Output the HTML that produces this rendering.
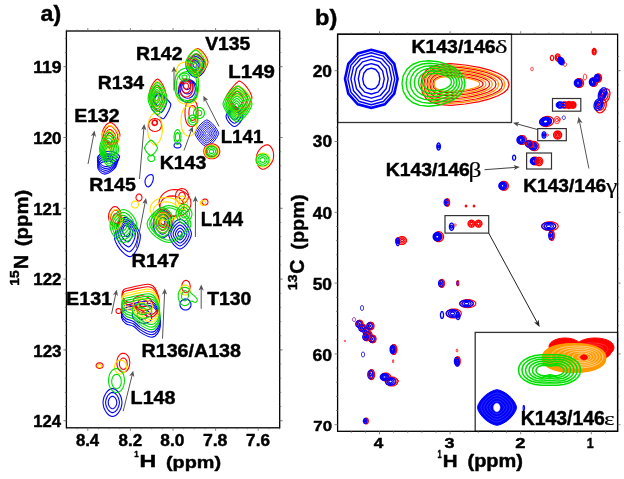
<!DOCTYPE html><html><head><meta charset="utf-8"><style>html,body{margin:0;padding:0;background:#fff;}svg{display:block;filter:blur(0.25px)}</style></head><body><svg width="624" height="479" viewBox="0 0 624 479"><path d="M97.5,158.0 C97.7,156.3 99.6,154.6 101.0,153.5 C102.4,152.4 104.2,151.8 106.0,151.5 C107.8,151.2 110.1,151.1 112.0,151.5 C113.9,151.9 116.2,153.0 117.5,154.0 C118.8,155.0 119.8,156.2 119.5,157.5 C119.2,158.8 117.5,160.2 116.0,161.5 C114.5,162.8 112.3,164.7 110.5,165.5 C108.7,166.3 106.8,166.8 105.0,166.5 C103.2,166.2 101.2,164.9 100.0,163.5 C98.8,162.1 97.3,159.7 97.5,158.0Z" fill="none" stroke="#0000ff" stroke-width="1.1" stroke-linejoin="round"/><path d="M97.5,160.2 C97.7,158.6 99.5,156.9 100.9,155.9 C102.3,154.9 103.9,154.3 105.7,154.0 C107.5,153.7 109.6,153.6 111.5,154.0 C113.3,154.4 115.5,155.4 116.7,156.4 C117.9,157.3 118.9,158.5 118.7,159.7 C118.4,160.9 116.7,162.3 115.3,163.6 C113.9,164.9 111.8,166.6 110.0,167.4 C108.3,168.2 106.4,168.7 104.7,168.4 C103.1,168.1 101.1,166.9 99.9,165.5 C98.7,164.1 97.4,161.8 97.5,160.2Z" fill="none" stroke="#0000ff" stroke-width="1.1" stroke-linejoin="round"/><path d="M97.6,162.4 C97.7,160.9 99.5,159.3 100.8,158.3 C102.1,157.3 103.7,156.8 105.4,156.4 C107.1,156.1 109.2,156.1 110.9,156.4 C112.7,156.8 114.8,157.8 116.0,158.7 C117.1,159.7 118.1,160.8 117.8,162.0 C117.6,163.1 116.0,164.4 114.6,165.6 C113.2,166.9 111.2,168.6 109.5,169.3 C107.9,170.1 106.1,170.6 104.5,170.2 C102.9,169.9 101.0,168.8 99.9,167.5 C98.7,166.2 97.4,164.0 97.6,162.4Z" fill="none" stroke="#0000ff" stroke-width="1.1" stroke-linejoin="round"/><path d="M97.6,164.6 C97.8,163.2 99.5,161.6 100.7,160.7 C101.9,159.7 103.5,159.2 105.1,158.9 C106.7,158.6 108.7,158.5 110.4,158.9 C112.1,159.3 114.1,160.2 115.2,161.1 C116.3,162.0 117.2,163.1 117.0,164.2 C116.8,165.3 115.2,166.5 113.9,167.7 C112.6,168.9 110.7,170.5 109.1,171.2 C107.4,172.0 105.8,172.4 104.2,172.1 C102.7,171.8 100.9,170.7 99.8,169.5 C98.7,168.2 97.5,166.1 97.6,164.6Z" fill="none" stroke="#0000ff" stroke-width="1.1" stroke-linejoin="round"/><path d="M97.7,166.8 C97.8,165.4 99.4,164.0 100.6,163.1 C101.8,162.2 103.3,161.7 104.8,161.4 C106.3,161.1 108.2,161.0 109.8,161.4 C111.5,161.7 113.4,162.6 114.5,163.5 C115.5,164.3 116.3,165.4 116.1,166.4 C115.9,167.5 114.5,168.7 113.2,169.8 C111.9,170.9 110.1,172.4 108.6,173.1 C107.0,173.8 105.4,174.3 104.0,174.0 C102.5,173.7 100.8,172.7 99.8,171.5 C98.7,170.3 97.5,168.2 97.7,166.8Z" fill="none" stroke="#0000ff" stroke-width="1.1" stroke-linejoin="round"/><path d="M112.5,158.0 L112.4,158.8 L112.1,159.5 L111.5,160.2 L110.8,160.7 L110.0,161.2 L109.0,161.4 L108.0,161.5 L107.0,161.4 L106.0,161.2 L105.2,160.7 L104.5,160.2 L103.9,159.5 L103.6,158.8 L103.5,158.0 L103.6,157.2 L103.9,156.5 L104.5,155.8 L105.2,155.3 L106.0,154.8 L107.0,154.6 L108.0,154.5 L109.0,154.6 L110.0,154.8 L110.8,155.3 L111.5,155.8 L112.1,156.5 L112.4,157.2Z M110.2,158.0 L110.2,158.4 L110.0,158.8 L109.8,159.1 L109.4,159.4 L109.0,159.6 L108.5,159.7 L108.0,159.8 L107.5,159.7 L107.0,159.6 L106.6,159.4 L106.2,159.1 L106.0,158.8 L105.8,158.4 L105.8,158.0 L105.8,157.6 L106.0,157.2 L106.2,156.9 L106.6,156.6 L107.0,156.4 L107.5,156.3 L108.0,156.2 L108.5,156.3 L109.0,156.4 L109.4,156.6 L109.8,156.9 L110.0,157.2 L110.2,157.6Z" fill="none" stroke="#0000ff" stroke-width="1.1" stroke-linejoin="round"/><path d="M170.8,104.3 L170.7,105.5 L169.9,107.9 L168.7,110.8 L167.1,113.8 L165.5,116.4 L164.1,118.1 L163.3,118.8 L162.3,118.4 L160.3,117.3 L157.9,115.5 L155.4,113.2 L153.3,110.8 L151.7,108.8 L151.2,107.7 L151.3,106.5 L152.1,104.1 L153.3,101.2 L154.9,98.2 L156.5,95.6 L157.9,93.9 L158.7,93.2 L159.7,93.6 L161.7,94.7 L164.1,96.5 L166.6,98.8 L168.7,101.2 L170.3,103.2Z M166.9,101.7 L166.7,102.6 L166.2,104.4 L165.3,106.6 L164.1,108.9 L162.9,110.8 L161.8,112.1 L161.2,112.6 L160.5,112.3 L159.0,111.5 L157.2,110.1 L155.3,108.4 L153.7,106.6 L152.6,105.1 L152.1,104.3 L152.3,103.4 L152.8,101.6 L153.7,99.4 L154.9,97.1 L156.1,95.2 L157.2,93.9 L157.8,93.4 L158.5,93.7 L160.0,94.5 L161.8,95.9 L163.7,97.6 L165.3,99.4 L166.4,100.9Z M162.9,99.1 L162.8,99.7 L162.5,100.9 L161.9,102.4 L161.1,103.9 L160.2,105.2 L159.5,106.1 L159.1,106.4 L158.6,106.2 L157.7,105.6 L156.4,104.7 L155.2,103.6 L154.1,102.4 L153.4,101.4 L153.1,100.9 L153.2,100.3 L153.5,99.1 L154.1,97.6 L154.9,96.1 L155.8,94.8 L156.5,93.9 L156.9,93.6 L157.4,93.8 L158.3,94.4 L159.6,95.3 L160.8,96.4 L161.9,97.6 L162.6,98.6Z" fill="none" stroke="#0000ff" stroke-width="1.1" stroke-linejoin="round"/><path d="M152.6,181.8 L151.9,183.3 L151.1,184.7 L150.2,185.8 L149.3,186.5 L148.4,186.9 L147.6,186.8 L146.8,186.4 L146.2,185.7 L145.7,184.8 L145.3,183.7 L145.1,182.6 L145.0,181.4 L145.1,180.3 L145.4,179.2 L145.9,178.2 L146.5,177.2 L147.3,176.4 L148.2,175.6 L149.2,175.1 L150.2,174.7 L151.2,174.6 L152.0,174.8 L152.7,175.3 L153.1,176.1 L153.3,177.2 L153.3,178.6 L153.1,180.2Z" fill="none" stroke="#0000ff" stroke-width="1.1" stroke-linejoin="round"/><path d="M206.0,66.0 L205.7,67.8 L204.8,70.0 L203.4,72.4 L201.5,74.5 L199.5,76.1 L197.5,77.1 L196.0,77.5 L194.5,77.1 L192.5,76.1 L190.5,74.5 L188.6,72.4 L187.2,70.0 L186.3,67.8 L186.0,66.0 L186.3,64.2 L187.2,62.0 L188.6,59.6 L190.5,57.5 L192.5,55.9 L194.5,54.9 L196.0,54.5 L197.5,54.9 L199.5,55.9 L201.5,57.5 L203.4,59.6 L204.8,62.0 L205.7,64.2Z M203.8,65.8 L203.5,67.2 L202.8,69.0 L201.6,70.8 L200.2,72.5 L198.6,73.8 L197.0,74.7 L195.8,75.0 L194.5,74.7 L192.9,73.8 L191.3,72.5 L189.9,70.8 L188.7,69.0 L188.0,67.2 L187.8,65.8 L188.0,64.3 L188.7,62.5 L189.9,60.7 L191.3,59.0 L192.9,57.7 L194.5,56.8 L195.8,56.5 L197.0,56.8 L198.6,57.7 L200.2,59.0 L201.6,60.7 L202.8,62.5 L203.5,64.3Z M201.5,65.5 L201.3,66.6 L200.8,67.9 L199.9,69.3 L198.8,70.6 L197.6,71.6 L196.4,72.2 L195.5,72.4 L194.6,72.2 L193.4,71.6 L192.2,70.6 L191.1,69.3 L190.2,67.9 L189.7,66.6 L189.5,65.5 L189.7,64.4 L190.2,63.1 L191.1,61.7 L192.2,60.4 L193.4,59.4 L194.6,58.8 L195.5,58.6 L196.4,58.8 L197.6,59.4 L198.8,60.4 L199.9,61.7 L200.8,63.1 L201.3,64.4Z M199.2,65.2 L199.1,66.0 L198.8,66.9 L198.2,67.8 L197.5,68.6 L196.7,69.3 L195.9,69.7 L195.2,69.8 L194.6,69.7 L193.8,69.3 L193.0,68.6 L192.3,67.8 L191.7,66.9 L191.4,66.0 L191.2,65.2 L191.4,64.5 L191.7,63.6 L192.3,62.7 L193.0,61.9 L193.8,61.2 L194.6,60.8 L195.2,60.6 L195.9,60.8 L196.7,61.2 L197.5,61.9 L198.2,62.7 L198.8,63.6 L199.1,64.5Z M197.0,65.0 L196.9,65.4 L196.8,65.8 L196.5,66.3 L196.1,66.7 L195.7,67.0 L195.3,67.2 L195.0,67.3 L194.7,67.2 L194.3,67.0 L193.9,66.7 L193.5,66.3 L193.2,65.8 L193.1,65.4 L193.0,65.0 L193.1,64.6 L193.2,64.2 L193.5,63.7 L193.9,63.3 L194.3,63.0 L194.7,62.8 L195.0,62.7 L195.3,62.8 L195.7,63.0 L196.1,63.3 L196.5,63.7 L196.8,64.2 L196.9,64.6Z" fill="none" stroke="#0000ff" stroke-width="1.1" stroke-linejoin="round"/><path d="M197.5,91.0 L197.3,93.6 L196.6,96.0 L195.4,98.2 L193.9,100.0 L192.1,101.4 L190.1,102.2 L188.0,102.5 L185.9,102.2 L183.9,101.4 L182.1,100.0 L180.6,98.2 L179.4,96.0 L178.7,93.6 L178.5,91.0 L178.7,88.4 L179.4,86.0 L180.6,83.8 L182.1,82.0 L183.9,80.6 L185.9,79.8 L188.0,79.5 L190.1,79.8 L192.1,80.6 L193.9,82.0 L195.4,83.8 L196.6,86.0 L197.3,88.4Z M195.3,89.0 L195.1,91.0 L194.5,93.0 L193.6,94.7 L192.4,96.2 L191.0,97.3 L189.4,98.0 L187.7,98.2 L186.0,98.0 L184.4,97.3 L182.9,96.2 L181.7,94.7 L180.8,93.0 L180.3,91.0 L180.1,89.0 L180.3,87.0 L180.8,85.0 L181.7,83.3 L182.9,81.8 L184.4,80.7 L186.0,80.0 L187.7,79.8 L189.4,80.0 L191.0,80.7 L192.4,81.8 L193.6,83.3 L194.5,85.0 L195.1,87.0Z M193.0,87.0 L192.9,88.5 L192.5,90.0 L191.8,91.3 L190.9,92.4 L189.8,93.2 L188.6,93.7 L187.3,93.9 L186.1,93.7 L184.9,93.2 L183.8,92.4 L182.9,91.3 L182.2,90.0 L181.8,88.5 L181.6,87.0 L181.8,85.5 L182.2,84.0 L182.9,82.7 L183.8,81.6 L184.9,80.8 L186.1,80.3 L187.3,80.1 L188.6,80.3 L189.8,80.8 L190.9,81.6 L191.8,82.7 L192.5,84.0 L192.9,85.5Z M190.8,85.0 L190.7,86.0 L190.4,87.0 L190.0,87.9 L189.4,88.6 L188.6,89.1 L187.8,89.5 L187.0,89.6 L186.2,89.5 L185.4,89.1 L184.6,88.6 L184.0,87.9 L183.6,87.0 L183.3,86.0 L183.2,85.0 L183.3,84.0 L183.6,83.0 L184.0,82.1 L184.6,81.4 L185.4,80.9 L186.2,80.5 L187.0,80.4 L187.8,80.5 L188.6,80.9 L189.4,81.4 L190.0,82.1 L190.4,83.0 L190.7,84.0Z" fill="none" stroke="#0000ff" stroke-width="1.1" stroke-linejoin="round"/><path d="M218.6,133.4 L218.2,134.9 L216.9,137.3 L215.0,140.1 L212.7,142.8 L210.2,145.0 L208.1,146.4 L206.8,146.9 L205.5,146.4 L203.4,145.0 L200.9,142.8 L198.6,140.1 L196.7,137.3 L195.4,134.9 L195.0,133.4 L195.4,131.9 L196.7,129.5 L198.6,126.7 L200.9,124.0 L203.4,121.8 L205.5,120.4 L206.8,119.9 L208.1,120.4 L210.2,121.8 L212.7,124.0 L215.0,126.7 L216.9,129.5 L218.2,131.9Z M216.9,133.4 L216.5,134.6 L215.4,136.8 L213.8,139.1 L211.8,141.4 L209.7,143.3 L207.9,144.5 L206.8,144.9 L205.7,144.5 L203.9,143.3 L201.8,141.4 L199.8,139.1 L198.2,136.8 L197.1,134.6 L196.7,133.4 L197.1,132.2 L198.2,130.0 L199.8,127.7 L201.8,125.4 L203.9,123.5 L205.7,122.3 L206.8,121.9 L207.9,122.3 L209.7,123.5 L211.8,125.4 L213.8,127.7 L215.4,130.0 L216.5,132.2Z M215.2,133.4 L214.9,134.4 L214.0,136.2 L212.6,138.2 L211.0,140.1 L209.2,141.6 L207.7,142.6 L206.8,143.0 L205.9,142.6 L204.4,141.6 L202.6,140.1 L201.0,138.2 L199.6,136.2 L198.7,134.4 L198.4,133.4 L198.7,132.4 L199.6,130.6 L201.0,128.6 L202.6,126.7 L204.4,125.2 L205.9,124.2 L206.8,123.8 L207.7,124.2 L209.2,125.2 L211.0,126.7 L212.6,128.6 L214.0,130.6 L214.9,132.4Z M213.5,133.4 L213.2,134.2 L212.5,135.6 L211.4,137.2 L210.1,138.7 L208.7,139.9 L207.5,140.7 L206.8,141.0 L206.1,140.7 L204.9,139.9 L203.5,138.7 L202.2,137.2 L201.1,135.6 L200.4,134.2 L200.1,133.4 L200.4,132.6 L201.1,131.2 L202.2,129.6 L203.5,128.1 L204.9,126.9 L206.1,126.1 L206.8,125.8 L207.5,126.1 L208.7,126.9 L210.1,128.1 L211.4,129.6 L212.5,131.2 L213.2,132.6Z M211.8,133.4 L211.6,134.0 L211.0,135.0 L210.2,136.2 L209.3,137.3 L208.2,138.3 L207.3,138.9 L206.8,139.1 L206.3,138.9 L205.4,138.3 L204.3,137.3 L203.4,136.2 L202.6,135.0 L202.0,134.0 L201.8,133.4 L202.0,132.8 L202.6,131.8 L203.4,130.6 L204.3,129.5 L205.4,128.5 L206.3,127.9 L206.8,127.7 L207.3,127.9 L208.2,128.5 L209.3,129.5 L210.2,130.6 L211.0,131.8 L211.6,132.8Z M210.0,133.4 L209.9,133.8 L209.6,134.5 L209.1,135.2 L208.4,136.0 L207.7,136.6 L207.2,137.0 L206.8,137.1 L206.4,137.0 L205.9,136.6 L205.2,136.0 L204.5,135.2 L204.0,134.5 L203.7,133.8 L203.6,133.4 L203.7,133.0 L204.0,132.3 L204.5,131.6 L205.2,130.8 L205.9,130.2 L206.4,129.8 L206.8,129.7 L207.2,129.8 L207.7,130.2 L208.4,130.8 L209.1,131.6 L209.6,132.3 L209.9,133.0Z M208.3,133.4 L208.3,133.6 L208.1,133.9 L207.9,134.3 L207.6,134.6 L207.2,134.9 L207.0,135.1 L206.8,135.2 L206.6,135.1 L206.4,134.9 L206.0,134.6 L205.7,134.3 L205.5,133.9 L205.3,133.6 L205.3,133.4 L205.3,133.2 L205.5,132.9 L205.7,132.5 L206.0,132.2 L206.4,131.9 L206.6,131.7 L206.8,131.6 L207.0,131.7 L207.2,131.9 L207.6,132.2 L207.9,132.5 L208.1,132.9 L208.3,133.2Z" fill="none" stroke="#0000ff" stroke-width="1.0" stroke-linejoin="round"/><path d="M181.0,145.5 L180.9,146.1 L180.7,146.6 L180.2,147.1 L179.7,147.5 L179.0,147.8 L178.3,147.9 L177.5,148.0 L176.7,147.9 L176.0,147.8 L175.3,147.5 L174.8,147.1 L174.3,146.6 L174.1,146.1 L174.0,145.5 L174.1,144.9 L174.3,144.4 L174.8,143.9 L175.3,143.5 L176.0,143.2 L176.7,143.1 L177.5,143.0 L178.3,143.1 L179.0,143.2 L179.7,143.5 L180.2,143.9 L180.7,144.4 L180.9,144.9Z" fill="none" stroke="#0000ff" stroke-width="1.1" stroke-linejoin="round"/><path d="M243.0,116.5 L242.7,117.8 L241.9,119.8 L240.6,121.8 L239.0,123.7 L237.3,125.2 L235.6,126.2 L234.5,126.5 L233.4,126.2 L231.7,125.2 L230.0,123.7 L228.4,121.8 L227.1,119.8 L226.3,117.8 L226.0,116.5 L226.3,115.2 L227.1,113.2 L228.4,111.2 L230.0,109.3 L231.7,107.8 L233.4,106.8 L234.5,106.5 L235.6,106.8 L237.3,107.8 L239.0,109.3 L240.6,111.2 L241.9,113.2 L242.7,115.2Z M241.1,115.5 L240.9,116.5 L240.2,118.0 L239.2,119.6 L238.0,121.1 L236.7,122.2 L235.4,123.0 L234.5,123.2 L233.6,123.0 L232.3,122.2 L231.0,121.1 L229.8,119.6 L228.8,118.0 L228.1,116.5 L227.9,115.5 L228.1,114.5 L228.8,113.0 L229.8,111.4 L231.0,109.9 L232.3,108.8 L233.6,108.0 L234.5,107.8 L235.4,108.0 L236.7,108.8 L238.0,109.9 L239.2,111.4 L240.2,113.0 L240.9,114.5Z M239.2,114.5 L239.0,115.2 L238.6,116.3 L237.9,117.4 L237.0,118.5 L236.0,119.3 L235.1,119.8 L234.5,120.0 L233.9,119.8 L233.0,119.3 L232.0,118.5 L231.1,117.4 L230.4,116.3 L230.0,115.2 L229.8,114.5 L230.0,113.8 L230.4,112.7 L231.1,111.6 L232.0,110.5 L233.0,109.7 L233.9,109.2 L234.5,109.0 L235.1,109.2 L236.0,109.7 L237.0,110.5 L237.9,111.6 L238.6,112.7 L239.0,113.8Z" fill="none" stroke="#0000ff" stroke-width="1.1" stroke-linejoin="round"/><path d="M140.4,235.2 L140.3,237.9 L139.6,241.9 L138.3,246.2 L136.4,250.3 L134.2,253.6 L131.9,255.9 L130.3,256.8 L128.5,256.4 L125.7,254.8 L122.6,252.2 L119.7,248.9 L117.2,245.1 L115.4,241.4 L114.6,238.8 L114.7,236.1 L115.4,232.1 L116.7,227.8 L118.6,223.7 L120.8,220.4 L123.1,218.1 L124.7,217.2 L126.5,217.6 L129.3,219.2 L132.4,221.8 L135.3,225.1 L137.8,228.9 L139.6,232.6Z M137.9,234.0 L137.8,236.3 L137.2,239.6 L136.1,243.1 L134.6,246.5 L132.7,249.2 L130.9,251.1 L129.5,251.8 L128.0,251.5 L125.8,250.2 L123.2,248.1 L120.8,245.3 L118.8,242.2 L117.3,239.1 L116.6,237.0 L116.7,234.7 L117.3,231.4 L118.4,227.9 L119.9,224.5 L121.8,221.8 L123.6,219.9 L125.0,219.2 L126.5,219.5 L128.7,220.8 L131.3,222.9 L133.7,225.7 L135.7,228.8 L137.2,231.9Z M135.4,232.8 L135.3,234.6 L134.9,237.2 L134.0,240.0 L132.8,242.6 L131.3,244.8 L129.9,246.3 L128.8,246.9 L127.6,246.6 L125.8,245.6 L123.8,243.9 L121.9,241.7 L120.3,239.3 L119.2,236.9 L118.6,235.2 L118.7,233.4 L119.1,230.8 L120.0,228.0 L121.2,225.4 L122.7,223.2 L124.1,221.7 L125.2,221.1 L126.4,221.4 L128.2,222.4 L130.2,224.1 L132.1,226.3 L133.7,228.7 L134.8,231.1Z M132.9,231.6 L132.8,232.9 L132.5,234.8 L131.9,236.9 L131.0,238.8 L129.9,240.4 L128.9,241.5 L128.1,241.9 L127.2,241.7 L125.9,241.0 L124.4,239.7 L123.0,238.1 L121.9,236.3 L121.0,234.6 L120.6,233.4 L120.7,232.1 L121.0,230.2 L121.6,228.1 L122.5,226.2 L123.6,224.6 L124.6,223.5 L125.4,223.1 L126.3,223.3 L127.6,224.0 L129.1,225.3 L130.5,226.9 L131.6,228.7 L132.5,230.4Z M130.4,230.5 L130.3,231.3 L130.1,232.5 L129.7,233.8 L129.2,235.0 L128.5,236.0 L127.8,236.7 L127.3,236.9 L126.8,236.8 L126.0,236.3 L125.0,235.6 L124.2,234.6 L123.4,233.4 L122.9,232.3 L122.6,231.5 L122.7,230.7 L122.9,229.5 L123.3,228.2 L123.8,227.0 L124.5,226.0 L125.2,225.3 L125.7,225.1 L126.2,225.2 L127.0,225.7 L128.0,226.4 L128.8,227.4 L129.6,228.6 L130.1,229.7Z" fill="none" stroke="#0000ff" stroke-width="1.1" stroke-linejoin="round"/><path d="M172.1,224.0 L171.8,226.4 L171.0,229.2 L169.7,232.0 L168.0,234.5 L166.2,236.4 L164.2,237.6 L162.6,238.0 L161.0,237.6 L159.0,236.4 L157.2,234.5 L155.5,232.0 L154.2,229.2 L153.4,226.4 L153.1,224.0 L153.4,221.6 L154.2,218.8 L155.5,216.0 L157.2,213.5 L159.0,211.6 L161.0,210.4 L162.6,210.0 L164.2,210.4 L166.2,211.6 L168.0,213.5 L169.7,216.0 L171.0,218.8 L171.8,221.6Z M169.7,223.7 L169.5,225.5 L168.9,227.6 L167.9,229.7 L166.7,231.5 L165.3,233.0 L163.8,233.9 L162.6,234.2 L161.4,233.9 L159.9,233.0 L158.5,231.5 L157.3,229.7 L156.3,227.6 L155.7,225.5 L155.5,223.7 L155.7,221.9 L156.3,219.7 L157.3,217.6 L158.5,215.8 L159.9,214.4 L161.4,213.5 L162.6,213.2 L163.8,213.5 L165.3,214.4 L166.7,215.8 L167.9,217.6 L168.9,219.7 L169.5,221.9Z M167.3,223.3 L167.2,224.5 L166.8,226.0 L166.2,227.3 L165.3,228.6 L164.4,229.5 L163.4,230.1 L162.6,230.3 L161.8,230.1 L160.8,229.5 L159.9,228.6 L159.0,227.3 L158.4,226.0 L158.0,224.5 L157.8,223.3 L158.0,222.1 L158.4,220.7 L159.0,219.3 L159.9,218.1 L160.8,217.1 L161.8,216.5 L162.6,216.3 L163.4,216.5 L164.4,217.1 L165.3,218.1 L166.2,219.3 L166.8,220.7 L167.2,222.1Z M165.0,223.0 L164.9,223.6 L164.7,224.3 L164.4,225.0 L164.0,225.6 L163.5,226.1 L163.0,226.4 L162.6,226.5 L162.2,226.4 L161.7,226.1 L161.2,225.6 L160.8,225.0 L160.5,224.3 L160.3,223.6 L160.2,223.0 L160.3,222.4 L160.5,221.7 L160.8,221.0 L161.2,220.4 L161.7,219.9 L162.2,219.6 L162.6,219.5 L163.0,219.6 L163.5,219.9 L164.0,220.4 L164.4,221.0 L164.7,221.7 L164.9,222.4Z" fill="none" stroke="#0000ff" stroke-width="1.1" stroke-linejoin="round"/><path d="M191.5,234.0 L191.1,236.0 L190.0,238.9 L188.3,242.0 L186.1,244.8 L183.8,247.1 L181.6,248.5 L180.0,249.0 L178.4,248.5 L176.2,247.1 L173.9,244.8 L171.7,242.0 L170.0,238.9 L168.9,236.0 L168.5,234.0 L168.9,232.0 L170.0,229.1 L171.7,226.0 L173.9,223.2 L176.2,220.9 L178.4,219.5 L180.0,219.0 L181.6,219.5 L183.8,220.9 L186.1,223.2 L188.3,226.0 L190.0,229.1 L191.1,232.0Z M189.2,234.0 L188.9,235.6 L188.0,237.9 L186.6,240.4 L184.9,242.6 L183.0,244.4 L181.2,245.6 L180.0,246.0 L178.8,245.6 L177.0,244.4 L175.1,242.6 L173.4,240.4 L172.0,237.9 L171.1,235.6 L170.8,234.0 L171.1,232.4 L172.0,230.1 L173.4,227.6 L175.1,225.4 L177.0,223.6 L178.8,222.4 L180.0,222.0 L181.2,222.4 L183.0,223.6 L184.9,225.4 L186.6,227.6 L188.0,230.1 L188.9,232.4Z M186.9,234.0 L186.7,235.2 L186.0,237.0 L185.0,238.8 L183.7,240.5 L182.3,241.8 L180.9,242.7 L180.0,243.0 L179.1,242.7 L177.7,241.8 L176.3,240.5 L175.0,238.8 L174.0,237.0 L173.3,235.2 L173.1,234.0 L173.3,232.8 L174.0,231.0 L175.0,229.2 L176.3,227.5 L177.7,226.2 L179.1,225.3 L180.0,225.0 L180.9,225.3 L182.3,226.2 L183.7,227.5 L185.0,229.2 L186.0,231.0 L186.7,232.8Z M184.6,234.0 L184.4,234.8 L184.0,236.0 L183.3,237.2 L182.5,238.3 L181.5,239.2 L180.6,239.8 L180.0,240.0 L179.4,239.8 L178.5,239.2 L177.5,238.3 L176.7,237.2 L176.0,236.0 L175.6,234.8 L175.4,234.0 L175.6,233.2 L176.0,232.0 L176.7,230.8 L177.5,229.7 L178.5,228.8 L179.4,228.2 L180.0,228.0 L180.6,228.2 L181.5,228.8 L182.5,229.7 L183.3,230.8 L184.0,232.0 L184.4,233.2Z M182.3,234.0 L182.2,234.4 L182.0,235.0 L181.7,235.6 L181.2,236.2 L180.8,236.6 L180.3,236.9 L180.0,237.0 L179.7,236.9 L179.2,236.6 L178.8,236.2 L178.3,235.6 L178.0,235.0 L177.8,234.4 L177.7,234.0 L177.8,233.6 L178.0,233.0 L178.3,232.4 L178.8,231.8 L179.2,231.4 L179.7,231.1 L180.0,231.0 L180.3,231.1 L180.8,231.4 L181.2,231.8 L181.7,232.4 L182.0,233.0 L182.2,233.6Z" fill="none" stroke="#0000ff" stroke-width="1.1" stroke-linejoin="round"/><path d="M123.5,306.3 C125.0,304.8 128.0,304.9 130.8,304.2 C133.6,303.5 137.2,302.7 140.1,302.1 C143.1,301.6 146.2,300.8 148.4,300.9 C150.7,301.0 152.2,301.5 153.6,302.7 C155.1,303.8 156.2,305.6 157.3,307.8 C158.3,310.1 159.5,313.4 159.9,316.2 C160.2,318.9 160.2,322.0 159.4,324.5 C158.5,327.0 156.4,330.0 154.7,331.2 C152.9,332.4 151.4,332.4 149.0,331.7 C146.5,331.1 142.7,328.8 140.1,327.1 C137.5,325.3 135.7,322.7 133.4,321.4 C131.0,320.0 128.1,320.1 126.1,318.8 C124.2,317.4 122.2,315.1 121.7,313.0 C121.3,311.0 122.0,307.8 123.5,306.3Z" fill="none" stroke="#0000ff" stroke-width="1.1" stroke-linejoin="round"/><path d="M123.4,308.7 C125.0,307.2 128.0,307.3 130.8,306.6 C133.5,305.9 137.2,305.1 140.2,304.5 C143.1,304.0 146.2,303.2 148.5,303.3 C150.8,303.3 152.3,303.9 153.7,305.0 C155.2,306.2 156.3,308.0 157.4,310.3 C158.4,312.5 159.7,315.8 160.0,318.6 C160.3,321.4 160.3,324.4 159.5,327.0 C158.6,329.5 156.5,332.5 154.8,333.8 C153.0,335.0 151.5,335.0 149.0,334.3 C146.6,333.6 142.8,331.3 140.2,329.6 C137.5,327.8 135.7,325.2 133.4,323.8 C131.0,322.4 128.0,322.6 126.1,321.2 C124.1,319.8 122.1,317.6 121.7,315.5 C121.2,313.4 121.9,310.2 123.4,308.7Z" fill="none" stroke="#0000ff" stroke-width="1.1" stroke-linejoin="round"/><path d="M123.4,311.1 C124.9,309.6 127.9,309.7 130.7,309.0 C133.5,308.3 137.2,307.4 140.2,306.9 C143.2,306.3 146.3,305.5 148.6,305.6 C150.9,305.7 152.3,306.2 153.8,307.4 C155.3,308.6 156.5,310.4 157.5,312.7 C158.6,314.9 159.8,318.3 160.1,321.1 C160.5,323.9 160.5,326.9 159.6,329.5 C158.7,332.0 156.6,335.1 154.9,336.3 C153.1,337.5 151.6,337.5 149.1,336.8 C146.7,336.1 142.8,333.8 140.2,332.1 C137.6,330.3 135.7,327.7 133.4,326.3 C131.0,324.9 128.0,325.1 126.0,323.7 C124.0,322.3 122.0,320.0 121.6,317.9 C121.2,315.8 121.9,312.6 123.4,311.1Z" fill="none" stroke="#0000ff" stroke-width="1.1" stroke-linejoin="round"/><path d="M151.7,318.6 L151.0,320.0 L149.9,321.3 L148.4,322.2 L146.6,322.9 L144.6,323.2 L142.4,323.2 L140.2,322.8 L138.1,322.0 L136.2,321.0 L134.6,319.7 L133.3,318.2 L132.5,316.6 L132.2,315.0 L132.3,313.4 L133.0,312.0 L134.1,310.7 L135.6,309.8 L137.4,309.1 L139.4,308.8 L141.6,308.8 L143.8,309.2 L145.9,310.0 L147.8,311.0 L149.4,312.3 L150.7,313.8 L151.5,315.4 L151.8,317.0Z M146.8,317.3 L146.5,318.0 L146.0,318.6 L145.2,319.1 L144.3,319.5 L143.3,319.6 L142.2,319.6 L141.1,319.4 L140.0,319.0 L139.1,318.5 L138.3,317.8 L137.7,317.1 L137.3,316.3 L137.1,315.5 L137.2,314.7 L137.5,314.0 L138.0,313.4 L138.8,312.9 L139.7,312.5 L140.7,312.4 L141.8,312.4 L142.9,312.6 L144.0,313.0 L144.9,313.5 L145.7,314.2 L146.3,314.9 L146.7,315.7 L146.9,316.5Z" fill="none" stroke="#0000ff" stroke-width="1.1" stroke-linejoin="round"/><path d="M191.0,304.5 L190.9,305.7 L190.5,306.9 L189.8,307.9 L188.9,308.8 L187.9,309.5 L186.7,309.9 L185.5,310.0 L184.3,309.9 L183.1,309.5 L182.1,308.8 L181.2,307.9 L180.5,306.9 L180.1,305.7 L180.0,304.5 L180.1,303.3 L180.5,302.1 L181.2,301.1 L182.1,300.2 L183.1,299.5 L184.3,299.1 L185.5,299.0 L186.7,299.1 L187.9,299.5 L188.9,300.2 L189.8,301.1 L190.5,302.1 L190.9,303.3Z" fill="none" stroke="#0000ff" stroke-width="1.1" stroke-linejoin="round"/><path d="M122.0,402.5 L121.7,405.1 L121.0,408.0 L119.7,410.8 L118.1,413.2 L116.3,415.0 L114.3,416.1 L112.5,416.5 L110.7,416.1 L108.7,415.0 L106.9,413.2 L105.3,410.8 L104.0,408.0 L103.3,405.1 L103.0,402.5 L103.3,399.9 L104.0,397.0 L105.3,394.2 L106.9,391.8 L108.7,390.0 L110.7,388.9 L112.5,388.5 L114.3,388.9 L116.3,390.0 L118.1,391.8 L119.7,394.2 L121.0,397.0 L121.7,399.9Z M119.4,402.5 L119.2,404.4 L118.6,406.5 L117.7,408.5 L116.6,410.2 L115.2,411.5 L113.8,412.4 L112.5,412.6 L111.2,412.4 L109.8,411.5 L108.4,410.2 L107.3,408.5 L106.4,406.5 L105.8,404.4 L105.6,402.5 L105.8,400.6 L106.4,398.5 L107.3,396.5 L108.4,394.8 L109.8,393.5 L111.2,392.6 L112.5,392.4 L113.8,392.6 L115.2,393.5 L116.6,394.8 L117.7,396.5 L118.6,398.5 L119.2,400.6Z M116.8,402.5 L116.7,403.7 L116.3,405.0 L115.8,406.2 L115.0,407.3 L114.2,408.1 L113.3,408.6 L112.5,408.8 L111.7,408.6 L110.8,408.1 L110.0,407.3 L109.2,406.2 L108.7,405.0 L108.3,403.7 L108.2,402.5 L108.3,401.3 L108.7,400.0 L109.2,398.8 L110.0,397.7 L110.8,396.9 L111.7,396.4 L112.5,396.2 L113.3,396.4 L114.2,396.9 L115.0,397.7 L115.8,398.8 L116.3,400.0 L116.7,401.3Z" fill="none" stroke="#0000ff" stroke-width="1.1" stroke-linejoin="round"/><path d="M120.0,135.0 L119.7,136.6 L118.9,138.8 L117.6,141.2 L116.0,143.4 L114.2,145.4 L112.4,146.8 L111.0,147.5 L109.6,147.4 L107.8,146.6 L106.0,145.0 L104.4,142.7 L103.1,140.0 L102.3,137.2 L102.0,135.0 L102.3,132.8 L103.1,130.0 L104.4,127.3 L106.0,125.0 L107.8,123.4 L109.6,122.6 L111.0,122.5 L112.4,123.2 L114.2,124.6 L116.0,126.6 L117.6,128.8 L118.9,131.2 L119.7,133.4Z M117.9,136.0 L117.6,137.3 L117.0,139.1 L116.0,140.9 L114.7,142.7 L113.2,144.3 L111.8,145.5 L110.7,146.0 L109.6,145.9 L108.1,145.2 L106.7,144.0 L105.4,142.2 L104.3,140.0 L103.7,137.8 L103.5,136.0 L103.7,134.2 L104.3,132.0 L105.4,129.8 L106.7,128.0 L108.1,126.8 L109.6,126.1 L110.7,126.0 L111.8,126.5 L113.2,127.7 L114.7,129.3 L116.0,131.1 L117.0,132.9 L117.6,134.7Z M115.7,137.0 L115.6,138.0 L115.1,139.3 L114.3,140.7 L113.3,142.1 L112.2,143.2 L111.2,144.1 L110.3,144.5 L109.5,144.4 L108.4,143.9 L107.3,143.0 L106.4,141.6 L105.6,140.0 L105.1,138.3 L104.9,137.0 L105.1,135.7 L105.6,134.0 L106.4,132.4 L107.3,131.0 L108.4,130.1 L109.5,129.6 L110.3,129.5 L111.2,129.9 L112.2,130.8 L113.3,131.9 L114.3,133.3 L115.1,134.7 L115.6,136.0Z M113.6,138.0 L113.5,138.7 L113.2,139.5 L112.6,140.5 L112.0,141.4 L111.3,142.2 L110.6,142.7 L110.0,143.0 L109.4,143.0 L108.7,142.6 L108.0,142.0 L107.4,141.1 L106.8,140.0 L106.5,138.9 L106.4,138.0 L106.5,137.1 L106.8,136.0 L107.4,134.9 L108.0,134.0 L108.7,133.4 L109.4,133.0 L110.0,133.0 L110.6,133.3 L111.3,133.8 L112.0,134.6 L112.6,135.5 L113.2,136.5 L113.5,137.3Z" fill="none" stroke="#ff0000" stroke-width="1.1" stroke-linejoin="round"/><path d="M166.0,95.0 L165.7,97.2 L164.9,100.3 L163.6,103.5 L162.0,106.5 L160.3,108.9 L158.6,110.5 L157.5,111.0 L156.4,110.5 L154.7,108.9 L153.0,106.5 L151.4,103.5 L150.1,100.3 L149.3,97.2 L149.0,95.0 L149.3,92.8 L150.1,89.7 L151.4,86.5 L153.0,83.5 L154.7,81.1 L156.4,79.5 L157.5,79.0 L158.6,79.5 L160.3,81.1 L162.0,83.5 L163.6,86.5 L164.9,89.7 L165.7,92.8Z M162.7,96.0 L162.5,97.5 L162.0,99.5 L161.1,101.8 L160.1,103.8 L158.9,105.4 L157.8,106.4 L157.0,106.8 L156.2,106.4 L155.1,105.4 L153.9,103.8 L152.9,101.8 L152.0,99.5 L151.5,97.5 L151.3,96.0 L151.5,94.5 L152.0,92.5 L152.9,90.2 L153.9,88.2 L155.1,86.6 L156.2,85.6 L157.0,85.2 L157.8,85.6 L158.9,86.6 L160.1,88.2 L161.1,90.2 L162.0,92.5 L162.5,94.5Z M159.5,97.0 L159.4,97.8 L159.1,98.8 L158.6,100.0 L158.1,101.0 L157.5,101.9 L156.9,102.4 L156.5,102.6 L156.1,102.4 L155.5,101.9 L154.9,101.0 L154.4,100.0 L153.9,98.8 L153.6,97.8 L153.5,97.0 L153.6,96.2 L153.9,95.2 L154.4,94.0 L154.9,93.0 L155.5,92.1 L156.1,91.6 L156.5,91.4 L156.9,91.6 L157.5,92.1 L158.1,93.0 L158.6,94.0 L159.1,95.2 L159.4,96.2Z" fill="none" stroke="#ff0000" stroke-width="1.1" stroke-linejoin="round"/><path d="M161.5,125.0 L161.3,126.4 L160.9,127.8 L160.1,129.1 L159.1,130.1 L157.8,130.9 L156.4,131.3 L155.0,131.5 L153.6,131.3 L152.2,130.9 L150.9,130.1 L149.9,129.1 L149.1,127.8 L148.7,126.4 L148.5,125.0 L148.7,123.6 L149.1,122.2 L149.9,120.9 L150.9,119.9 L152.2,119.1 L153.6,118.7 L155.0,118.5 L156.4,118.7 L157.8,119.1 L159.1,119.9 L160.1,120.9 L160.9,122.2 L161.3,123.6Z M157.1,123.0 L157.0,123.6 L156.8,124.1 L156.5,124.6 L156.1,125.0 L155.6,125.3 L155.1,125.5 L154.5,125.6 L153.9,125.5 L153.4,125.3 L152.9,125.0 L152.5,124.6 L152.2,124.1 L152.0,123.6 L151.9,123.0 L152.0,122.4 L152.2,121.9 L152.5,121.4 L152.9,121.0 L153.4,120.7 L153.9,120.5 L154.5,120.4 L155.1,120.5 L155.6,120.7 L156.1,121.0 L156.5,121.4 L156.8,121.9 L157.0,122.4Z" fill="none" stroke="#ff0000" stroke-width="1.1" stroke-linejoin="round"/><path d="M157.5,122.5 L157.4,123.1 L157.3,123.6 L157.0,124.1 L156.6,124.5 L156.1,124.8 L155.6,124.9 L155.0,125.0 L154.4,124.9 L153.9,124.8 L153.4,124.5 L153.0,124.1 L152.7,123.6 L152.6,123.1 L152.5,122.5 L152.6,121.9 L152.7,121.4 L153.0,120.9 L153.4,120.5 L153.9,120.2 L154.4,120.1 L155.0,120.0 L155.6,120.1 L156.1,120.2 L156.6,120.5 L157.0,120.9 L157.3,121.4 L157.4,121.9Z" fill="none" stroke="#ff0000" stroke-width="1.1" stroke-linejoin="round"/><path d="M208.0,62.0 L207.6,63.7 L206.6,66.3 L205.0,69.0 L203.0,71.6 L200.8,73.7 L198.8,75.0 L197.5,75.5 L196.2,75.0 L194.2,73.7 L192.0,71.6 L190.0,69.0 L188.4,66.3 L187.4,63.7 L187.0,62.0 L187.4,60.3 L188.4,57.7 L190.0,55.0 L192.0,52.4 L194.2,50.3 L196.2,49.0 L197.5,48.5 L198.8,49.0 L200.8,50.3 L203.0,52.4 L205.0,55.0 L206.6,57.7 L207.6,60.3Z M204.1,63.5 L203.9,64.7 L203.1,66.6 L201.9,68.6 L200.5,70.5 L198.9,72.0 L197.5,73.0 L196.5,73.3 L195.5,73.0 L194.1,72.0 L192.5,70.5 L191.1,68.6 L189.9,66.6 L189.1,64.7 L188.9,63.5 L189.1,62.3 L189.9,60.4 L191.1,58.4 L192.5,56.5 L194.1,55.0 L195.5,54.0 L196.5,53.7 L197.5,54.0 L198.9,55.0 L200.5,56.5 L201.9,58.4 L203.1,60.4 L203.9,62.3Z M200.2,65.0 L200.1,65.8 L199.6,66.9 L198.9,68.2 L198.0,69.3 L197.0,70.3 L196.1,70.9 L195.5,71.1 L194.9,70.9 L194.0,70.3 L193.0,69.3 L192.1,68.2 L191.4,66.9 L190.9,65.8 L190.8,65.0 L190.9,64.2 L191.4,63.1 L192.1,61.8 L193.0,60.7 L194.0,59.7 L194.9,59.1 L195.5,58.9 L196.1,59.1 L197.0,59.7 L198.0,60.7 L198.9,61.8 L199.6,63.1 L200.1,64.2Z" fill="none" stroke="#ff0000" stroke-width="1.1" stroke-linejoin="round"/><path d="M193.0,88.0 L192.8,90.0 L192.3,91.9 L191.5,93.6 L190.4,95.0 L189.0,96.1 L187.6,96.8 L186.0,97.0 L184.4,96.8 L183.0,96.1 L181.6,95.0 L180.5,93.6 L179.7,91.9 L179.2,90.0 L179.0,88.0 L179.2,86.0 L179.7,84.1 L180.5,82.4 L181.6,81.0 L183.0,79.9 L184.4,79.2 L186.0,79.0 L187.6,79.2 L189.0,79.9 L190.4,81.0 L191.5,82.4 L192.3,84.1 L192.8,86.0Z M190.7,87.0 L190.6,88.4 L190.3,89.6 L189.7,90.8 L188.9,91.7 L188.1,92.5 L187.1,92.9 L186.0,93.1 L184.9,92.9 L183.9,92.5 L183.1,91.7 L182.3,90.8 L181.7,89.6 L181.4,88.4 L181.3,87.0 L181.4,85.6 L181.7,84.4 L182.3,83.2 L183.1,82.3 L183.9,81.5 L184.9,81.1 L186.0,80.9 L187.1,81.1 L188.1,81.5 L188.9,82.3 L189.7,83.2 L190.3,84.4 L190.6,85.6Z M188.4,86.0 L188.4,86.7 L188.2,87.4 L187.9,88.0 L187.5,88.5 L187.1,88.8 L186.5,89.1 L186.0,89.2 L185.5,89.1 L184.9,88.8 L184.5,88.5 L184.1,88.0 L183.8,87.4 L183.6,86.7 L183.6,86.0 L183.6,85.3 L183.8,84.6 L184.1,84.0 L184.5,83.5 L184.9,83.2 L185.5,82.9 L186.0,82.8 L186.5,82.9 L187.1,83.2 L187.5,83.5 L187.9,84.0 L188.2,84.6 L188.4,85.3Z" fill="none" stroke="#ff0000" stroke-width="1.1" stroke-linejoin="round"/><path d="M198.0,113.0 L197.9,116.7 L197.4,119.5 L196.7,122.0 L195.8,123.9 L194.6,125.3 L193.3,126.2 L191.5,126.5 L189.7,126.2 L188.4,125.3 L187.2,123.9 L186.3,122.0 L185.6,119.5 L185.1,116.7 L185.0,113.0 L185.1,109.3 L185.6,106.5 L186.3,104.0 L187.2,102.1 L188.4,100.7 L189.7,99.8 L191.5,99.5 L193.3,99.8 L194.6,100.7 L195.8,102.1 L196.7,104.0 L197.4,106.5 L197.9,109.3Z M196.1,113.0 L196.0,115.0 L195.8,116.6 L195.4,117.9 L194.9,119.0 L194.2,119.8 L193.5,120.3 L192.5,120.4 L191.5,120.3 L190.8,119.8 L190.1,119.0 L189.6,117.9 L189.2,116.6 L189.0,115.0 L188.9,113.0 L189.0,111.0 L189.2,109.4 L189.6,108.1 L190.1,107.0 L190.8,106.2 L191.5,105.7 L192.5,105.6 L193.5,105.7 L194.2,106.2 L194.9,107.0 L195.4,108.1 L195.8,109.4 L196.0,111.0Z" fill="none" stroke="#ff0000" stroke-width="1.1" stroke-linejoin="round"/><path d="M219.8,151.3 L219.6,153.0 L219.0,154.6 L218.1,156.0 L216.8,157.2 L215.3,158.1 L213.6,158.6 L211.8,158.8 L210.0,158.6 L208.3,158.1 L206.8,157.2 L205.5,156.0 L204.6,154.6 L204.0,153.0 L203.8,151.3 L204.0,149.6 L204.6,148.0 L205.5,146.6 L206.8,145.4 L208.3,144.5 L210.0,144.0 L211.8,143.8 L213.6,144.0 L215.3,144.5 L216.8,145.4 L218.1,146.6 L219.0,148.0 L219.6,149.6Z M217.4,151.3 L217.3,152.5 L216.8,153.6 L216.2,154.6 L215.3,155.4 L214.2,156.0 L213.0,156.4 L211.8,156.6 L210.6,156.4 L209.4,156.0 L208.3,155.4 L207.4,154.6 L206.8,153.6 L206.3,152.5 L206.2,151.3 L206.3,150.1 L206.8,149.0 L207.4,148.0 L208.3,147.2 L209.4,146.6 L210.6,146.2 L211.8,146.1 L213.0,146.2 L214.2,146.6 L215.3,147.2 L216.2,148.0 L216.8,149.0 L217.3,150.1Z" fill="none" stroke="#ff0000" stroke-width="1.1" stroke-linejoin="round"/><path d="M252.0,97.5 L251.5,99.4 L250.1,102.7 L247.9,106.3 L245.3,109.6 L242.6,112.1 L240.3,113.6 L239.0,114.0 L237.7,113.1 L235.4,111.0 L232.7,108.0 L230.1,104.7 L227.9,101.5 L226.5,98.9 L226.0,97.5 L226.5,96.1 L227.9,93.5 L230.1,90.3 L232.7,87.0 L235.4,84.0 L237.7,81.9 L239.0,81.0 L240.3,81.4 L242.6,82.9 L245.3,85.4 L247.9,88.7 L250.1,92.3 L251.5,95.6Z M247.8,98.5 L247.4,99.9 L246.3,102.4 L244.7,105.1 L242.7,107.6 L240.7,109.5 L239.0,110.6 L238.0,110.9 L237.0,110.2 L235.3,108.6 L233.3,106.4 L231.3,103.9 L229.7,101.5 L228.6,99.5 L228.2,98.5 L228.6,97.5 L229.7,95.5 L231.3,93.1 L233.3,90.6 L235.3,88.4 L237.0,86.8 L238.0,86.1 L239.0,86.4 L240.7,87.5 L242.7,89.4 L244.7,91.9 L246.3,94.6 L247.4,97.1Z M243.5,99.5 L243.3,100.4 L242.5,102.1 L241.5,103.9 L240.1,105.6 L238.8,106.8 L237.6,107.6 L237.0,107.8 L236.4,107.3 L235.2,106.2 L233.9,104.7 L232.5,103.1 L231.5,101.5 L230.7,100.2 L230.5,99.5 L230.7,98.8 L231.5,97.5 L232.5,95.9 L233.9,94.3 L235.2,92.8 L236.4,91.7 L237.0,91.2 L237.6,91.4 L238.8,92.2 L240.1,93.4 L241.5,95.1 L242.5,96.9 L243.3,98.6Z" fill="none" stroke="#ff0000" stroke-width="1.1" stroke-linejoin="round"/><path d="M273.2,159.2 L272.4,161.4 L271.0,163.7 L269.3,165.8 L267.4,167.5 L265.4,168.6 L263.4,169.2 L261.8,169.1 L260.3,168.3 L258.9,166.9 L257.7,164.9 L256.8,162.5 L256.4,159.8 L256.4,157.1 L256.8,154.8 L257.6,152.6 L259.0,150.3 L260.7,148.2 L262.6,146.5 L264.6,145.4 L266.6,144.8 L268.2,144.9 L269.7,145.7 L271.1,147.1 L272.3,149.1 L273.2,151.5 L273.6,154.2 L273.6,156.9Z" fill="none" stroke="#ff0000" stroke-width="1.1" stroke-linejoin="round"/><path d="M142.0,197.5 L141.9,198.3 L141.7,199.0 L141.3,199.7 L140.9,200.2 L140.3,200.7 L139.7,200.9 L139.0,201.0 L138.3,200.9 L137.7,200.7 L137.1,200.2 L136.7,199.7 L136.3,199.0 L136.1,198.3 L136.0,197.5 L136.1,196.7 L136.3,196.0 L136.7,195.3 L137.1,194.8 L137.7,194.3 L138.3,194.1 L139.0,194.0 L139.7,194.1 L140.3,194.3 L140.9,194.8 L141.3,195.3 L141.7,196.0 L141.9,196.7Z" fill="none" stroke="#ff0000" stroke-width="1.1" stroke-linejoin="round"/><path d="M121.5,216.5 L121.3,218.4 L120.8,220.5 L119.9,222.4 L118.8,224.1 L117.6,225.4 L116.2,226.2 L115.0,226.5 L113.8,226.2 L112.4,225.4 L111.2,224.1 L110.1,222.4 L109.2,220.5 L108.7,218.4 L108.5,216.5 L108.7,214.6 L109.2,212.5 L110.1,210.6 L111.2,208.9 L112.4,207.6 L113.8,206.8 L115.0,206.5 L116.2,206.8 L117.6,207.6 L118.8,208.9 L119.9,210.6 L120.8,212.5 L121.3,214.6Z M120.4,217.5 L120.2,218.9 L119.8,220.5 L119.2,221.9 L118.4,223.2 L117.4,224.2 L116.4,224.8 L115.5,225.0 L114.6,224.8 L113.6,224.2 L112.6,223.2 L111.8,221.9 L111.2,220.5 L110.8,218.9 L110.6,217.5 L110.8,216.1 L111.2,214.5 L111.8,213.1 L112.6,211.8 L113.6,210.8 L114.6,210.2 L115.5,210.0 L116.4,210.2 L117.4,210.8 L118.4,211.8 L119.2,213.1 L119.8,214.5 L120.2,216.1Z M119.2,218.5 L119.2,219.4 L118.9,220.5 L118.5,221.5 L117.9,222.3 L117.3,223.0 L116.6,223.4 L116.0,223.5 L115.4,223.4 L114.7,223.0 L114.1,222.3 L113.5,221.5 L113.1,220.5 L112.8,219.4 L112.8,218.5 L112.8,217.6 L113.1,216.5 L113.5,215.5 L114.1,214.7 L114.7,214.0 L115.4,213.6 L116.0,213.5 L116.6,213.6 L117.3,214.0 L117.9,214.7 L118.5,215.5 L118.9,216.5 L119.2,217.6Z" fill="none" stroke="#ff0000" stroke-width="1.1" stroke-linejoin="round"/><path d="M191.0,203.0 L190.6,206.0 L189.4,208.9 L187.5,211.4 L185.0,213.6 L181.9,215.2 L178.6,216.2 L175.0,216.5 L171.4,216.2 L168.1,215.2 L165.0,213.6 L162.5,211.4 L160.6,208.9 L159.4,206.0 L159.0,203.0 L159.4,200.0 L160.6,197.1 L162.5,194.6 L165.0,192.4 L168.1,190.8 L171.4,189.8 L175.0,189.5 L178.6,189.8 L181.9,190.8 L185.0,192.4 L187.5,194.6 L189.4,197.1 L190.6,200.0Z M184.0,206.0 L183.7,208.3 L182.8,210.4 L181.4,212.3 L179.5,213.9 L177.2,215.1 L174.7,215.9 L172.0,216.1 L169.3,215.9 L166.8,215.1 L164.5,213.9 L162.6,212.3 L161.2,210.4 L160.3,208.3 L160.0,206.0 L160.3,203.7 L161.2,201.6 L162.6,199.7 L164.5,198.1 L166.8,196.9 L169.3,196.1 L172.0,195.9 L174.7,196.1 L177.2,196.9 L179.5,198.1 L181.4,199.7 L182.8,201.6 L183.7,203.7Z" fill="none" stroke="#ff0000" stroke-width="1.1" stroke-linejoin="round"/><path d="M172.0,221.0 L171.7,223.3 L171.0,225.7 L169.8,228.1 L168.3,230.1 L166.6,231.7 L164.7,232.7 L163.0,233.0 L161.3,232.7 L159.4,231.7 L157.7,230.1 L156.2,228.1 L155.0,225.7 L154.3,223.3 L154.0,221.0 L154.3,218.7 L155.0,216.3 L156.2,213.9 L157.7,211.9 L159.4,210.3 L161.3,209.3 L163.0,209.0 L164.7,209.3 L166.6,210.3 L168.3,211.9 L169.8,213.9 L171.0,216.3 L171.7,218.7Z M169.9,221.0 L169.7,222.7 L169.1,224.6 L168.2,226.4 L167.1,228.0 L165.7,229.2 L164.3,229.9 L163.0,230.2 L161.7,229.9 L160.3,229.2 L158.9,228.0 L157.8,226.4 L156.9,224.6 L156.3,222.7 L156.1,221.0 L156.3,219.3 L156.9,217.4 L157.8,215.6 L158.9,214.0 L160.3,212.8 L161.7,212.1 L163.0,211.8 L164.3,212.1 L165.7,212.8 L167.1,214.0 L168.2,215.6 L169.1,217.4 L169.7,219.3Z M167.8,221.0 L167.7,222.2 L167.3,223.5 L166.7,224.8 L165.8,225.9 L164.9,226.7 L163.9,227.2 L163.0,227.4 L162.1,227.2 L161.1,226.7 L160.2,225.9 L159.3,224.8 L158.7,223.5 L158.3,222.2 L158.2,221.0 L158.3,219.8 L158.7,218.5 L159.3,217.2 L160.2,216.1 L161.1,215.3 L162.1,214.8 L163.0,214.6 L163.9,214.8 L164.9,215.3 L165.8,216.1 L166.7,217.2 L167.3,218.5 L167.7,219.8Z M165.7,221.0 L165.6,221.7 L165.4,222.4 L165.1,223.1 L164.6,223.7 L164.1,224.2 L163.5,224.5 L163.0,224.6 L162.5,224.5 L161.9,224.2 L161.4,223.7 L160.9,223.1 L160.6,222.4 L160.4,221.7 L160.3,221.0 L160.4,220.3 L160.6,219.6 L160.9,218.9 L161.4,218.3 L161.9,217.8 L162.5,217.5 L163.0,217.4 L163.5,217.5 L164.1,217.8 L164.6,218.3 L165.1,218.9 L165.4,219.6 L165.6,220.3Z" fill="none" stroke="#ff0000" stroke-width="1.1" stroke-linejoin="round"/><path d="M188.5,196.0 L188.3,197.7 L187.9,199.3 L187.1,200.7 L186.1,201.9 L184.8,202.8 L183.4,203.3 L182.0,203.5 L180.6,203.3 L179.2,202.8 L177.9,201.9 L176.9,200.7 L176.1,199.3 L175.7,197.7 L175.5,196.0 L175.7,194.3 L176.1,192.7 L176.9,191.3 L177.9,190.1 L179.2,189.2 L180.6,188.7 L182.0,188.5 L183.4,188.7 L184.8,189.2 L186.1,190.1 L187.1,191.3 L187.9,192.7 L188.3,194.3Z M185.2,196.0 L185.2,196.8 L184.9,197.6 L184.5,198.3 L184.0,198.9 L183.4,199.4 L182.7,199.7 L182.0,199.8 L181.3,199.7 L180.6,199.4 L180.0,198.9 L179.5,198.3 L179.1,197.6 L178.8,196.8 L178.8,196.0 L178.8,195.2 L179.1,194.4 L179.5,193.7 L180.0,193.1 L180.6,192.6 L181.3,192.3 L182.0,192.2 L182.7,192.3 L183.4,192.6 L184.0,193.1 L184.5,193.7 L184.9,194.4 L185.2,195.2Z" fill="none" stroke="#ff0000" stroke-width="1.1" stroke-linejoin="round"/><path d="M208.0,202.0 L207.9,202.7 L207.7,203.3 L207.3,203.9 L206.9,204.3 L206.3,204.7 L205.7,204.9 L205.0,205.0 L204.3,204.9 L203.7,204.7 L203.1,204.3 L202.7,203.9 L202.3,203.3 L202.1,202.7 L202.0,202.0 L202.1,201.3 L202.3,200.7 L202.7,200.1 L203.1,199.7 L203.7,199.3 L204.3,199.1 L205.0,199.0 L205.7,199.1 L206.3,199.3 L206.9,199.7 L207.3,200.1 L207.7,200.7 L207.9,201.3Z" fill="none" stroke="#ff0000" stroke-width="1.1" stroke-linejoin="round"/><path d="M124.0,289.5 C125.5,288.1 128.3,288.2 131.0,287.5 C133.7,286.8 137.2,286.0 140.0,285.5 C142.8,285.0 145.8,284.2 148.0,284.3 C150.2,284.4 151.6,284.9 153.0,286.0 C154.4,287.1 155.5,288.8 156.5,291.0 C157.5,293.2 158.7,296.3 159.0,299.0 C159.3,301.7 159.3,304.6 158.5,307.0 C157.7,309.4 155.7,312.3 154.0,313.5 C152.3,314.7 150.8,314.7 148.5,314.0 C146.2,313.3 142.5,311.2 140.0,309.5 C137.5,307.8 135.8,305.3 133.5,304.0 C131.2,302.7 128.4,302.8 126.5,301.5 C124.6,300.2 122.7,298.0 122.3,296.0 C121.9,294.0 122.5,290.9 124.0,289.5Z" fill="none" stroke="#ff0000" stroke-width="1.1" stroke-linejoin="round"/><path d="M123.9,291.9 C125.4,290.5 128.3,290.6 131.0,289.9 C133.7,289.2 137.2,288.4 140.0,287.9 C142.9,287.3 145.9,286.6 148.1,286.7 C150.2,286.8 151.7,287.3 153.1,288.4 C154.5,289.5 155.6,291.2 156.6,293.4 C157.6,295.6 158.8,298.8 159.1,301.5 C159.5,304.1 159.5,307.1 158.6,309.5 C157.8,311.9 155.8,314.9 154.1,316.0 C152.4,317.2 150.9,317.2 148.6,316.5 C146.2,315.9 142.5,313.7 140.0,312.0 C137.5,310.3 135.7,307.8 133.5,306.5 C131.2,305.1 128.3,305.3 126.4,304.0 C124.6,302.6 122.6,300.4 122.2,298.4 C121.8,296.4 122.5,293.3 123.9,291.9Z" fill="none" stroke="#ff0000" stroke-width="1.1" stroke-linejoin="round"/><path d="M152.7,305.6 L152.0,307.0 L150.9,308.3 L149.4,309.2 L147.6,309.9 L145.6,310.2 L143.4,310.2 L141.2,309.8 L139.1,309.0 L137.2,308.0 L135.6,306.7 L134.3,305.2 L133.5,303.6 L133.2,302.0 L133.3,300.4 L134.0,299.0 L135.1,297.7 L136.6,296.8 L138.4,296.1 L140.4,295.8 L142.6,295.8 L144.8,296.2 L146.9,297.0 L148.8,298.0 L150.4,299.3 L151.7,300.8 L152.5,302.4 L152.8,304.0Z M147.8,304.3 L147.5,305.0 L147.0,305.6 L146.2,306.1 L145.3,306.5 L144.3,306.6 L143.2,306.6 L142.1,306.4 L141.0,306.0 L140.1,305.5 L139.3,304.8 L138.7,304.1 L138.3,303.3 L138.1,302.5 L138.2,301.7 L138.5,301.0 L139.0,300.4 L139.8,299.9 L140.7,299.5 L141.7,299.4 L142.8,299.4 L143.9,299.6 L145.0,300.0 L145.9,300.5 L146.7,301.2 L147.3,301.9 L147.7,302.7 L147.9,303.5Z" fill="none" stroke="#ff0000" stroke-width="1.1" stroke-linejoin="round"/><path d="M121.0,311.0 L120.9,311.6 L120.8,312.1 L120.5,312.6 L120.1,313.0 L119.6,313.3 L119.1,313.4 L118.5,313.5 L117.9,313.4 L117.4,313.3 L116.9,313.0 L116.5,312.6 L116.2,312.1 L116.1,311.6 L116.0,311.0 L116.1,310.4 L116.2,309.9 L116.5,309.4 L116.9,309.0 L117.4,308.7 L117.9,308.6 L118.5,308.5 L119.1,308.6 L119.6,308.7 L120.1,309.0 L120.5,309.4 L120.8,309.9 L120.9,310.4Z" fill="none" stroke="#ff0000" stroke-width="1.1" stroke-linejoin="round"/><path d="M190.2,286.5 L190.1,287.9 L189.8,289.2 L189.3,290.4 L188.6,291.3 L187.8,292.1 L186.9,292.5 L186.0,292.7 L185.1,292.5 L184.2,292.1 L183.4,291.3 L182.7,290.4 L182.2,289.2 L181.9,287.9 L181.8,286.5 L181.9,285.1 L182.2,283.8 L182.7,282.6 L183.4,281.7 L184.2,280.9 L185.1,280.5 L186.0,280.3 L186.9,280.5 L187.8,280.9 L188.6,281.7 L189.3,282.6 L189.8,283.8 L190.1,285.1Z" fill="none" stroke="#ff0000" stroke-width="1.1" stroke-linejoin="round"/><path d="M129.8,362.7 L129.6,364.8 L129.2,366.8 L128.4,368.6 L127.4,370.1 L126.1,371.3 L124.7,372.0 L123.3,372.2 L121.9,372.0 L120.5,371.3 L119.2,370.1 L118.2,368.6 L117.4,366.8 L117.0,364.8 L116.8,362.7 L117.0,360.6 L117.4,358.6 L118.2,356.8 L119.2,355.3 L120.5,354.1 L121.9,353.4 L123.3,353.2 L124.7,353.4 L126.1,354.1 L127.4,355.3 L128.4,356.8 L129.2,358.6 L129.6,360.6Z M127.2,363.7 L127.1,365.0 L126.8,366.2 L126.3,367.3 L125.7,368.2 L125.0,368.8 L124.2,369.3 L123.3,369.4 L122.4,369.3 L121.6,368.8 L120.9,368.2 L120.3,367.3 L119.8,366.2 L119.5,365.0 L119.4,363.7 L119.5,362.4 L119.8,361.2 L120.3,360.1 L120.9,359.2 L121.6,358.6 L122.4,358.1 L123.3,358.0 L124.2,358.1 L125.0,358.6 L125.7,359.2 L126.3,360.1 L126.8,361.2 L127.1,362.4Z" fill="none" stroke="#ff0000" stroke-width="1.1" stroke-linejoin="round"/><path d="M103.1,365.6 L103.0,366.2 L102.8,366.8 L102.3,367.3 L101.8,367.8 L101.1,368.1 L100.4,368.3 L99.6,368.4 L98.8,368.3 L98.1,368.1 L97.4,367.8 L96.9,367.3 L96.4,366.8 L96.2,366.2 L96.1,365.6 L96.2,365.0 L96.4,364.4 L96.9,363.9 L97.4,363.4 L98.1,363.1 L98.8,362.9 L99.6,362.8 L100.4,362.9 L101.1,363.1 L101.8,363.4 L102.3,363.9 L102.8,364.4 L103.0,365.0Z" fill="none" stroke="#ff0000" stroke-width="1.1" stroke-linejoin="round"/><path d="M119.5,138.0 L119.2,139.6 L118.4,141.8 L117.1,144.2 L115.5,146.4 L113.7,148.4 L111.9,149.8 L110.5,150.5 L109.1,150.4 L107.3,149.6 L105.5,148.0 L103.9,145.7 L102.6,143.0 L101.8,140.2 L101.5,138.0 L101.8,135.8 L102.6,133.0 L103.9,130.3 L105.5,128.0 L107.3,126.4 L109.1,125.6 L110.5,125.5 L111.9,126.2 L113.7,127.6 L115.5,129.6 L117.1,131.8 L118.4,134.2 L119.2,136.4Z M116.3,139.5 L116.1,140.6 L115.5,142.2 L114.6,143.8 L113.5,145.4 L112.2,146.8 L111.0,147.8 L110.0,148.2 L109.0,148.2 L107.8,147.6 L106.5,146.5 L105.4,144.9 L104.5,143.0 L103.9,141.0 L103.7,139.5 L103.9,138.0 L104.5,136.0 L105.4,134.1 L106.5,132.5 L107.8,131.4 L109.0,130.8 L110.0,130.8 L111.0,131.2 L112.2,132.2 L113.5,133.6 L114.6,135.2 L115.5,136.8 L116.1,138.4Z M113.1,141.0 L113.0,141.7 L112.7,142.5 L112.1,143.5 L111.5,144.4 L110.8,145.2 L110.1,145.7 L109.5,146.0 L108.9,146.0 L108.2,145.6 L107.5,145.0 L106.9,144.1 L106.3,143.0 L106.0,141.9 L105.9,141.0 L106.0,140.1 L106.3,139.0 L106.9,137.9 L107.5,137.0 L108.2,136.4 L108.9,136.0 L109.5,136.0 L110.1,136.3 L110.8,136.8 L111.5,137.6 L112.1,138.5 L112.7,139.5 L113.0,140.3Z" fill="none" stroke="#ffe000" stroke-width="1.1" stroke-linejoin="round"/><path d="M166.0,96.5 L165.7,98.5 L164.9,101.4 L163.6,104.5 L162.0,107.3 L160.3,109.6 L158.6,111.0 L157.5,111.5 L156.4,111.0 L154.7,109.6 L153.0,107.3 L151.4,104.5 L150.1,101.4 L149.3,98.5 L149.0,96.5 L149.3,94.5 L150.1,91.6 L151.4,88.5 L153.0,85.7 L154.7,83.4 L156.4,82.0 L157.5,81.5 L158.6,82.0 L160.3,83.4 L162.0,85.7 L163.6,88.5 L164.9,91.6 L165.7,94.5Z M162.7,97.0 L162.5,98.4 L162.0,100.3 L161.1,102.4 L160.1,104.3 L158.9,105.8 L157.8,106.8 L157.0,107.1 L156.2,106.8 L155.1,105.8 L153.9,104.3 L152.9,102.4 L152.0,100.3 L151.5,98.4 L151.3,97.0 L151.5,95.6 L152.0,93.7 L152.9,91.6 L153.9,89.7 L155.1,88.2 L156.2,87.2 L157.0,86.9 L157.8,87.2 L158.9,88.2 L160.1,89.7 L161.1,91.6 L162.0,93.7 L162.5,95.6Z M159.5,97.5 L159.4,98.2 L159.1,99.2 L158.6,100.3 L158.1,101.3 L157.5,102.1 L156.9,102.6 L156.5,102.8 L156.1,102.6 L155.5,102.1 L154.9,101.3 L154.4,100.3 L153.9,99.2 L153.6,98.2 L153.5,97.5 L153.6,96.8 L153.9,95.8 L154.4,94.7 L154.9,93.7 L155.5,92.9 L156.1,92.4 L156.5,92.2 L156.9,92.4 L157.5,92.9 L158.1,93.7 L158.6,94.7 L159.1,95.8 L159.4,96.8Z" fill="none" stroke="#ffe000" stroke-width="1.1" stroke-linejoin="round"/><path d="M162.5,129.0 L162.3,132.0 L161.7,135.3 L160.7,138.5 L159.4,141.2 L158.0,143.2 L156.4,144.6 L155.0,145.0 L153.6,144.6 L152.0,143.2 L150.6,141.2 L149.3,138.5 L148.3,135.3 L147.7,132.0 L147.5,129.0 L147.7,126.0 L148.3,122.7 L149.3,119.5 L150.6,116.8 L152.0,114.8 L153.6,113.4 L155.0,113.0 L156.4,113.4 L158.0,114.8 L159.4,116.8 L160.7,119.5 L161.7,122.7 L162.3,126.0Z" fill="none" stroke="#ffe000" stroke-width="1.1" stroke-linejoin="round"/><path d="M207.0,62.5 L206.6,64.2 L205.6,66.8 L204.0,69.5 L202.0,72.1 L199.8,74.2 L197.8,75.5 L196.5,76.0 L195.2,75.5 L193.2,74.2 L191.0,72.1 L189.0,69.5 L187.4,66.8 L186.4,64.2 L186.0,62.5 L186.4,60.8 L187.4,58.2 L189.0,55.5 L191.0,52.9 L193.2,50.8 L195.2,49.5 L196.5,49.0 L197.8,49.5 L199.8,50.8 L202.0,52.9 L204.0,55.5 L205.6,58.2 L206.6,60.8Z M201.3,65.5 L201.1,66.5 L200.5,68.1 L199.5,69.7 L198.3,71.3 L197.0,72.5 L195.8,73.3 L195.0,73.6 L194.2,73.3 L193.0,72.5 L191.7,71.3 L190.5,69.7 L189.5,68.1 L188.9,66.5 L188.7,65.5 L188.9,64.5 L189.5,62.9 L190.5,61.3 L191.7,59.7 L193.0,58.5 L194.2,57.7 L195.0,57.4 L195.8,57.7 L197.0,58.5 L198.3,59.7 L199.5,61.3 L200.5,62.9 L201.1,64.5Z" fill="none" stroke="#ffe000" stroke-width="1.1" stroke-linejoin="round"/><path d="M198.5,83.0 L198.3,90.7 L197.7,95.0 L196.8,98.3 L195.4,100.8 L193.6,102.6 L191.2,103.6 L187.0,104.0 L182.8,103.6 L180.4,102.6 L178.6,100.8 L177.2,98.3 L176.3,95.0 L175.7,90.7 L175.5,83.0 L175.7,75.3 L176.3,71.0 L177.2,67.7 L178.6,65.2 L180.4,63.4 L182.8,62.4 L187.0,62.0 L191.2,62.4 L193.6,63.4 L195.4,65.2 L196.8,67.7 L197.7,71.0 L198.3,75.3Z" fill="none" stroke="#ffe000" stroke-width="1.1" stroke-linejoin="round"/><path d="M197.0,121.0 L196.8,124.8 L196.3,128.0 L195.4,130.8 L194.2,133.0 L192.7,134.6 L191.0,135.7 L189.0,136.0 L187.0,135.7 L185.3,134.6 L183.8,133.0 L182.6,130.8 L181.7,128.0 L181.2,124.8 L181.0,121.0 L181.2,117.2 L181.7,114.0 L182.6,111.2 L183.8,109.0 L185.3,107.4 L187.0,106.3 L189.0,106.0 L191.0,106.3 L192.7,107.4 L194.2,109.0 L195.4,111.2 L196.3,114.0 L196.8,117.2Z" fill="none" stroke="#ffe000" stroke-width="1.1" stroke-linejoin="round"/><path d="M218.5,151.5 L218.3,152.9 L217.8,154.3 L217.0,155.6 L215.9,156.6 L214.5,157.4 L213.1,157.8 L211.5,158.0 L209.9,157.8 L208.5,157.4 L207.1,156.6 L206.0,155.6 L205.2,154.3 L204.7,152.9 L204.5,151.5 L204.7,150.1 L205.2,148.7 L206.0,147.4 L207.1,146.4 L208.5,145.6 L209.9,145.2 L211.5,145.0 L213.1,145.2 L214.5,145.6 L215.9,146.4 L217.0,147.4 L217.8,148.7 L218.3,150.1Z" fill="none" stroke="#ffe000" stroke-width="1.1" stroke-linejoin="round"/><path d="M251.5,101.0 L251.0,102.8 L249.7,105.6 L247.6,108.6 L245.1,111.6 L242.4,113.9 L240.0,115.5 L238.5,116.0 L237.0,115.5 L234.6,113.9 L231.9,111.6 L229.4,108.6 L227.3,105.6 L226.0,102.8 L225.5,101.0 L226.0,99.2 L227.3,96.4 L229.4,93.4 L231.9,90.4 L234.6,88.1 L237.0,86.5 L238.5,86.0 L240.0,86.5 L242.4,88.1 L245.1,90.4 L247.6,93.4 L249.7,96.4 L251.0,99.2Z M247.6,102.0 L247.2,103.4 L246.2,105.5 L244.6,107.9 L242.6,110.2 L240.6,112.0 L238.7,113.2 L237.5,113.6 L236.3,113.2 L234.4,112.0 L232.4,110.2 L230.4,107.9 L228.8,105.5 L227.8,103.4 L227.4,102.0 L227.8,100.6 L228.8,98.5 L230.4,96.1 L232.4,93.8 L234.4,92.0 L236.3,90.8 L237.5,90.4 L238.7,90.8 L240.6,92.0 L242.6,93.8 L244.6,96.1 L246.2,98.5 L247.2,100.6Z M243.7,103.0 L243.4,104.0 L242.7,105.5 L241.5,107.2 L240.1,108.8 L238.7,110.1 L237.3,111.0 L236.5,111.2 L235.7,111.0 L234.3,110.1 L232.9,108.8 L231.5,107.2 L230.3,105.5 L229.6,104.0 L229.3,103.0 L229.6,102.0 L230.3,100.5 L231.5,98.8 L232.9,97.2 L234.3,95.9 L235.7,95.0 L236.5,94.8 L237.3,95.0 L238.7,95.9 L240.1,97.2 L241.5,98.8 L242.7,100.5 L243.4,102.0Z" fill="none" stroke="#ffe000" stroke-width="1.1" stroke-linejoin="round"/><path d="M270.0,160.0 L269.8,161.6 L269.3,163.0 L268.5,164.4 L267.4,165.5 L266.0,166.3 L264.6,166.8 L263.0,167.0 L261.4,166.8 L260.0,166.3 L258.6,165.5 L257.5,164.4 L256.7,163.0 L256.2,161.6 L256.0,160.0 L256.2,158.4 L256.7,157.0 L257.5,155.6 L258.6,154.5 L260.0,153.7 L261.4,153.2 L263.0,153.0 L264.6,153.2 L266.0,153.7 L267.4,154.5 L268.5,155.6 L269.3,157.0 L269.8,158.4Z" fill="none" stroke="#ffe000" stroke-width="1.1" stroke-linejoin="round"/><path d="M138.5,204.5 L138.4,205.3 L138.2,206.0 L137.7,206.7 L137.2,207.2 L136.5,207.7 L135.8,207.9 L135.0,208.0 L134.2,207.9 L133.5,207.7 L132.8,207.2 L132.3,206.7 L131.8,206.0 L131.6,205.3 L131.5,204.5 L131.6,203.7 L131.8,203.0 L132.3,202.3 L132.8,201.8 L133.5,201.3 L134.2,201.1 L135.0,201.0 L135.8,201.1 L136.5,201.3 L137.2,201.8 L137.7,202.3 L138.2,203.0 L138.4,203.7Z" fill="none" stroke="#ffe000" stroke-width="1.1" stroke-linejoin="round"/><path d="M122.5,219.5 L122.3,221.4 L121.8,223.5 L120.9,225.4 L119.8,227.1 L118.6,228.4 L117.2,229.2 L116.0,229.5 L114.8,229.2 L113.4,228.4 L112.2,227.1 L111.1,225.4 L110.2,223.5 L109.7,221.4 L109.5,219.5 L109.7,217.6 L110.2,215.5 L111.1,213.6 L112.2,211.9 L113.4,210.6 L114.8,209.8 L116.0,209.5 L117.2,209.8 L118.6,210.6 L119.8,211.9 L120.9,213.6 L121.8,215.5 L122.3,217.6Z M120.9,221.5 L120.8,222.6 L120.5,223.9 L120.0,225.0 L119.3,226.1 L118.5,226.8 L117.7,227.3 L117.0,227.5 L116.3,227.3 L115.5,226.8 L114.7,226.1 L114.0,225.0 L113.5,223.9 L113.2,222.6 L113.1,221.5 L113.2,220.4 L113.5,219.1 L114.0,218.0 L114.7,216.9 L115.5,216.2 L116.3,215.7 L117.0,215.5 L117.7,215.7 L118.5,216.2 L119.3,216.9 L120.0,218.0 L120.5,219.1 L120.8,220.4Z" fill="none" stroke="#ffe000" stroke-width="1.1" stroke-linejoin="round"/><path d="M182.0,209.0 L181.6,211.6 L180.4,214.0 L178.5,216.2 L176.0,218.0 L172.9,219.4 L169.6,220.2 L166.0,220.5 L162.4,220.2 L159.1,219.4 L156.0,218.0 L153.5,216.2 L151.6,214.0 L150.4,211.6 L150.0,209.0 L150.4,206.4 L151.6,204.0 L153.5,201.8 L156.0,200.0 L159.1,198.6 L162.4,197.8 L166.0,197.5 L169.6,197.8 L172.9,198.6 L176.0,200.0 L178.5,201.8 L180.4,204.0 L181.6,206.4Z M178.8,211.0 L178.5,213.0 L177.5,215.0 L176.0,216.7 L174.0,218.2 L171.6,219.3 L168.8,220.0 L166.0,220.2 L163.2,220.0 L160.4,219.3 L158.0,218.2 L156.0,216.7 L154.5,215.0 L153.5,213.0 L153.2,211.0 L153.5,209.0 L154.5,207.0 L156.0,205.3 L158.0,203.8 L160.4,202.7 L163.2,202.0 L166.0,201.8 L168.8,202.0 L171.6,202.7 L174.0,203.8 L176.0,205.3 L177.5,207.0 L178.5,209.0Z" fill="none" stroke="#ffe000" stroke-width="1.1" stroke-linejoin="round"/><path d="M171.0,223.0 L170.8,225.2 L170.2,227.3 L169.3,229.2 L168.0,230.8 L166.5,232.0 L164.8,232.7 L163.0,233.0 L161.2,232.7 L159.5,232.0 L158.0,230.8 L156.7,229.2 L155.8,227.3 L155.2,225.2 L155.0,223.0 L155.2,220.8 L155.8,218.7 L156.7,216.8 L158.0,215.2 L159.5,214.0 L161.2,213.3 L163.0,213.0 L164.8,213.3 L166.5,214.0 L168.0,215.2 L169.3,216.8 L170.2,218.7 L170.8,220.8Z M168.4,223.0 L168.3,224.5 L167.9,225.9 L167.2,227.2 L166.4,228.3 L165.3,229.1 L164.2,229.6 L163.0,229.8 L161.8,229.6 L160.7,229.1 L159.6,228.3 L158.8,227.2 L158.1,225.9 L157.7,224.5 L157.6,223.0 L157.7,221.5 L158.1,220.1 L158.8,218.8 L159.6,217.7 L160.7,216.9 L161.8,216.4 L163.0,216.2 L164.2,216.4 L165.3,216.9 L166.4,217.7 L167.2,218.8 L167.9,220.1 L168.3,221.5Z M165.8,223.0 L165.7,223.8 L165.5,224.5 L165.2,225.2 L164.7,225.7 L164.2,226.2 L163.6,226.4 L163.0,226.5 L162.4,226.4 L161.8,226.2 L161.3,225.7 L160.8,225.2 L160.5,224.5 L160.3,223.8 L160.2,223.0 L160.3,222.2 L160.5,221.5 L160.8,220.8 L161.3,220.3 L161.8,219.8 L162.4,219.6 L163.0,219.5 L163.6,219.6 L164.2,219.8 L164.7,220.3 L165.2,220.8 L165.5,221.5 L165.7,222.2Z" fill="none" stroke="#ffe000" stroke-width="1.1" stroke-linejoin="round"/><path d="M187.5,203.0 L187.3,204.6 L186.9,206.0 L186.2,207.4 L185.2,208.5 L184.1,209.3 L182.8,209.8 L181.5,210.0 L180.2,209.8 L178.9,209.3 L177.8,208.5 L176.8,207.4 L176.1,206.0 L175.7,204.6 L175.5,203.0 L175.7,201.4 L176.1,200.0 L176.8,198.6 L177.8,197.5 L178.9,196.7 L180.2,196.2 L181.5,196.0 L182.8,196.2 L184.1,196.7 L185.2,197.5 L186.2,198.6 L186.9,200.0 L187.3,201.4Z M184.5,203.0 L184.4,203.8 L184.2,204.5 L183.8,205.2 L183.4,205.7 L182.8,206.2 L182.2,206.4 L181.5,206.5 L180.8,206.4 L180.2,206.2 L179.6,205.7 L179.2,205.2 L178.8,204.5 L178.6,203.8 L178.5,203.0 L178.6,202.2 L178.8,201.5 L179.2,200.8 L179.6,200.3 L180.2,199.8 L180.8,199.6 L181.5,199.5 L182.2,199.6 L182.8,199.8 L183.4,200.3 L183.8,200.8 L184.2,201.5 L184.4,202.2Z" fill="none" stroke="#ffe000" stroke-width="1.1" stroke-linejoin="round"/><path d="M205.5,203.0 L205.4,203.6 L205.3,204.1 L205.0,204.6 L204.6,205.0 L204.1,205.3 L203.6,205.4 L203.0,205.5 L202.4,205.4 L201.9,205.3 L201.4,205.0 L201.0,204.6 L200.7,204.1 L200.6,203.6 L200.5,203.0 L200.6,202.4 L200.7,201.9 L201.0,201.4 L201.4,201.0 L201.9,200.7 L202.4,200.6 L203.0,200.5 L203.6,200.6 L204.1,200.7 L204.6,201.0 L205.0,201.4 L205.3,201.9 L205.4,202.4Z" fill="none" stroke="#ffe000" stroke-width="1.1" stroke-linejoin="round"/><path d="M123.9,294.3 C125.3,292.9 128.2,292.9 130.9,292.3 C133.6,291.6 137.2,290.8 140.0,290.3 C142.9,289.7 145.9,289.0 148.1,289.0 C150.3,289.1 151.8,289.6 153.2,290.8 C154.6,291.9 155.7,293.6 156.7,295.8 C157.7,298.0 158.9,301.2 159.3,303.9 C159.6,306.6 159.6,309.5 158.7,312.0 C157.9,314.4 155.9,317.4 154.2,318.6 C152.5,319.7 151.0,319.7 148.6,319.1 C146.3,318.4 142.6,316.2 140.0,314.5 C137.5,312.8 135.7,310.3 133.5,309.0 C131.2,307.6 128.3,307.8 126.4,306.4 C124.5,305.1 122.6,302.9 122.1,300.9 C121.7,298.8 122.4,295.7 123.9,294.3Z" fill="none" stroke="#ffe000" stroke-width="1.1" stroke-linejoin="round"/><path d="M123.8,296.7 C125.3,295.3 128.2,295.3 130.9,294.7 C133.6,294.0 137.2,293.2 140.1,292.6 C142.9,292.1 146.0,291.3 148.2,291.4 C150.4,291.5 151.8,292.0 153.3,293.1 C154.7,294.3 155.8,296.0 156.8,298.2 C157.9,300.4 159.0,303.6 159.4,306.4 C159.7,309.1 159.7,312.0 158.9,314.5 C158.0,316.9 156.0,319.9 154.3,321.1 C152.6,322.3 151.1,322.3 148.7,321.6 C146.3,320.9 142.6,318.7 140.1,317.0 C137.5,315.3 135.7,312.8 133.5,311.4 C131.2,310.1 128.2,310.3 126.3,308.9 C124.4,307.5 122.5,305.3 122.1,303.3 C121.6,301.3 122.3,298.1 123.8,296.7Z" fill="none" stroke="#ffe000" stroke-width="1.1" stroke-linejoin="round"/><path d="M152.7,308.6 L152.0,310.0 L150.9,311.3 L149.4,312.2 L147.6,312.9 L145.6,313.2 L143.4,313.2 L141.2,312.8 L139.1,312.0 L137.2,311.0 L135.6,309.7 L134.3,308.2 L133.5,306.6 L133.2,305.0 L133.3,303.4 L134.0,302.0 L135.1,300.7 L136.6,299.8 L138.4,299.1 L140.4,298.8 L142.6,298.8 L144.8,299.2 L146.9,300.0 L148.8,301.0 L150.4,302.3 L151.7,303.8 L152.5,305.4 L152.8,307.0Z M147.8,307.3 L147.5,308.0 L147.0,308.6 L146.2,309.1 L145.3,309.5 L144.3,309.6 L143.2,309.6 L142.1,309.4 L141.0,309.0 L140.1,308.5 L139.3,307.8 L138.7,307.1 L138.3,306.3 L138.1,305.5 L138.2,304.7 L138.5,304.0 L139.0,303.4 L139.8,302.9 L140.7,302.5 L141.7,302.4 L142.8,302.4 L143.9,302.6 L145.0,303.0 L145.9,303.5 L146.7,304.2 L147.3,304.9 L147.7,305.7 L147.9,306.5Z" fill="none" stroke="#ffe000" stroke-width="1.1" stroke-linejoin="round"/><path d="M190.0,290.0 L189.9,291.1 L189.5,292.2 L188.9,293.1 L188.1,293.9 L187.2,294.5 L186.1,294.9 L185.0,295.0 L183.9,294.9 L182.8,294.5 L181.9,293.9 L181.1,293.1 L180.5,292.2 L180.1,291.1 L180.0,290.0 L180.1,288.9 L180.5,287.8 L181.1,286.9 L181.9,286.1 L182.8,285.5 L183.9,285.1 L185.0,285.0 L186.1,285.1 L187.2,285.5 L188.1,286.1 L188.9,286.9 L189.5,287.8 L189.9,288.9Z" fill="none" stroke="#ffe000" stroke-width="1.1" stroke-linejoin="round"/><path d="M126.5,367.0 L126.3,368.6 L125.9,370.0 L125.2,371.4 L124.2,372.5 L123.1,373.3 L121.8,373.8 L120.5,374.0 L119.2,373.8 L117.9,373.3 L116.8,372.5 L115.8,371.4 L115.1,370.0 L114.7,368.6 L114.5,367.0 L114.7,365.4 L115.1,364.0 L115.8,362.6 L116.8,361.5 L117.9,360.7 L119.2,360.2 L120.5,360.0 L121.8,360.2 L123.1,360.7 L124.2,361.5 L125.2,362.6 L125.9,364.0 L126.3,365.4Z" fill="none" stroke="#ffe000" stroke-width="1.1" stroke-linejoin="round"/><path d="M101.6,366.0 L101.5,366.3 L101.4,366.7 L101.2,366.9 L100.8,367.2 L100.5,367.4 L100.0,367.5 L99.6,367.5 L99.2,367.5 L98.7,367.4 L98.4,367.2 L98.0,366.9 L97.8,366.7 L97.7,366.3 L97.6,366.0 L97.7,365.7 L97.8,365.3 L98.0,365.1 L98.4,364.8 L98.7,364.6 L99.2,364.5 L99.6,364.5 L100.0,364.5 L100.5,364.6 L100.8,364.8 L101.2,365.1 L101.4,365.3 L101.5,365.7Z" fill="none" stroke="#ffe000" stroke-width="1.1" stroke-linejoin="round"/><path d="M118.5,149.0 L118.2,151.6 L117.3,155.0 L116.0,158.4 L114.3,161.5 L112.3,163.9 L110.5,165.5 L109.0,166.0 L107.5,165.5 L105.7,163.9 L103.7,161.5 L102.0,158.4 L100.7,155.0 L99.8,151.6 L99.5,149.0 L99.8,146.4 L100.7,143.0 L102.0,139.6 L103.7,136.5 L105.7,134.1 L107.5,132.5 L109.0,132.0 L110.5,132.5 L112.3,134.1 L114.3,136.5 L116.0,139.6 L117.3,143.0 L118.2,146.4Z M116.9,149.4 L116.6,151.6 L115.9,154.5 L114.7,157.4 L113.3,160.0 L111.6,162.1 L110.0,163.4 L108.8,163.8 L107.6,163.4 L106.0,162.1 L104.3,160.0 L102.9,157.4 L101.7,154.5 L101.0,151.6 L100.7,149.4 L101.0,147.2 L101.7,144.3 L102.9,141.4 L104.3,138.8 L106.0,136.7 L107.6,135.4 L108.8,135.0 L110.0,135.4 L111.6,136.7 L113.3,138.8 L114.7,141.4 L115.9,144.3 L116.6,147.2Z M115.2,149.8 L115.0,151.6 L114.4,154.0 L113.5,156.4 L112.3,158.5 L110.9,160.2 L109.6,161.3 L108.6,161.7 L107.6,161.3 L106.3,160.2 L104.9,158.5 L103.7,156.4 L102.8,154.0 L102.2,151.6 L101.9,149.8 L102.2,148.0 L102.8,145.6 L103.7,143.2 L104.9,141.1 L106.3,139.4 L107.6,138.3 L108.6,137.9 L109.6,138.3 L110.9,139.4 L112.3,141.1 L113.5,143.2 L114.4,145.6 L115.0,148.0Z M113.6,150.2 L113.5,151.6 L113.0,153.5 L112.2,155.4 L111.3,157.1 L110.2,158.4 L109.2,159.3 L108.4,159.5 L107.6,159.3 L106.6,158.4 L105.5,157.1 L104.6,155.4 L103.8,153.5 L103.3,151.6 L103.2,150.2 L103.3,148.8 L103.8,146.9 L104.6,145.0 L105.5,143.3 L106.6,142.0 L107.6,141.1 L108.4,140.8 L109.2,141.1 L110.2,142.0 L111.3,143.3 L112.2,145.0 L113.0,146.9 L113.5,148.8Z M112.0,150.6 L111.9,151.6 L111.5,153.0 L111.0,154.4 L110.3,155.6 L109.5,156.6 L108.8,157.2 L108.2,157.4 L107.6,157.2 L106.9,156.6 L106.1,155.6 L105.4,154.4 L104.9,153.0 L104.5,151.6 L104.4,150.6 L104.5,149.6 L104.9,148.2 L105.4,146.8 L106.1,145.6 L106.9,144.6 L107.6,144.0 L108.2,143.8 L108.8,144.0 L109.5,144.6 L110.3,145.6 L111.0,146.8 L111.5,148.2 L111.9,149.6Z M110.4,151.0 L110.3,151.6 L110.1,152.5 L109.7,153.4 L109.3,154.1 L108.8,154.7 L108.4,155.1 L108.0,155.2 L107.6,155.1 L107.2,154.7 L106.7,154.1 L106.3,153.4 L105.9,152.5 L105.7,151.6 L105.6,151.0 L105.7,150.4 L105.9,149.5 L106.3,148.6 L106.7,147.9 L107.2,147.3 L107.6,146.9 L108.0,146.8 L108.4,146.9 L108.8,147.3 L109.3,147.9 L109.7,148.6 L110.1,149.5 L110.3,150.4Z" fill="none" stroke="#00e000" stroke-width="1.1" stroke-linejoin="round"/><path d="M167.0,98.5 L166.7,100.7 L165.8,103.8 L164.3,107.0 L162.6,110.0 L160.6,112.4 L158.8,114.0 L157.5,114.5 L156.2,114.0 L154.4,112.4 L152.4,110.0 L150.7,107.0 L149.2,103.8 L148.3,100.7 L148.0,98.5 L148.3,96.3 L149.2,93.2 L150.7,90.0 L152.4,87.0 L154.4,84.6 L156.2,83.0 L157.5,82.5 L158.8,83.0 L160.6,84.6 L162.6,87.0 L164.3,90.0 L165.8,93.2 L166.7,96.3Z M165.3,98.3 L165.0,100.1 L164.2,102.7 L163.0,105.5 L161.6,108.0 L159.9,110.0 L158.4,111.3 L157.3,111.7 L156.2,111.3 L154.7,110.0 L153.0,108.0 L151.6,105.5 L150.4,102.7 L149.6,100.1 L149.3,98.3 L149.6,96.5 L150.4,93.9 L151.6,91.1 L153.0,88.6 L154.7,86.6 L156.2,85.3 L157.3,84.9 L158.4,85.3 L159.9,86.6 L161.6,88.6 L163.0,91.1 L164.2,93.9 L165.0,96.5Z M163.6,98.1 L163.3,99.6 L162.7,101.7 L161.8,103.9 L160.5,105.9 L159.2,107.6 L158.0,108.6 L157.1,109.0 L156.2,108.6 L155.0,107.6 L153.7,105.9 L152.4,103.9 L151.5,101.7 L150.9,99.6 L150.6,98.1 L150.9,96.6 L151.5,94.5 L152.4,92.3 L153.7,90.3 L155.0,88.6 L156.2,87.6 L157.1,87.2 L158.0,87.6 L159.2,88.6 L160.5,90.3 L161.8,92.3 L162.7,94.5 L163.3,96.6Z M161.8,97.9 L161.7,99.0 L161.2,100.6 L160.5,102.3 L159.5,103.9 L158.5,105.1 L157.6,105.9 L156.9,106.2 L156.2,105.9 L155.3,105.1 L154.3,103.9 L153.3,102.3 L152.6,100.6 L152.1,99.0 L152.0,97.9 L152.1,96.8 L152.6,95.2 L153.3,93.5 L154.3,91.9 L155.3,90.7 L156.2,89.9 L156.9,89.6 L157.6,89.9 L158.5,90.7 L159.5,91.9 L160.5,93.5 L161.2,95.2 L161.7,96.8Z M160.1,97.7 L160.0,98.5 L159.7,99.6 L159.2,100.8 L158.5,101.8 L157.8,102.7 L157.2,103.3 L156.7,103.5 L156.2,103.3 L155.6,102.7 L154.9,101.8 L154.2,100.8 L153.7,99.6 L153.4,98.5 L153.3,97.7 L153.4,96.9 L153.7,95.8 L154.2,94.6 L154.9,93.6 L155.6,92.7 L156.2,92.1 L156.7,91.9 L157.2,92.1 L157.8,92.7 L158.5,93.6 L159.2,94.6 L159.7,95.8 L160.0,96.9Z M158.4,97.5 L158.3,97.9 L158.2,98.6 L157.9,99.2 L157.5,99.8 L157.1,100.3 L156.8,100.6 L156.5,100.7 L156.2,100.6 L155.9,100.3 L155.5,99.8 L155.1,99.2 L154.8,98.6 L154.7,97.9 L154.6,97.5 L154.7,97.1 L154.8,96.4 L155.1,95.8 L155.5,95.2 L155.9,94.7 L156.2,94.4 L156.5,94.3 L156.8,94.4 L157.1,94.7 L157.5,95.2 L157.9,95.8 L158.2,96.4 L158.3,97.1Z" fill="none" stroke="#00e000" stroke-width="1.1" stroke-linejoin="round"/><path d="M157.5,148.0 L157.3,148.8 L156.5,150.2 L155.5,151.9 L154.1,153.5 L152.8,154.8 L151.6,155.7 L151.0,156.0 L150.4,155.7 L149.2,154.8 L147.9,153.5 L146.5,151.9 L145.5,150.2 L144.7,148.8 L144.5,148.0 L144.7,147.2 L145.5,145.8 L146.5,144.1 L147.9,142.5 L149.2,141.2 L150.4,140.3 L151.0,140.0 L151.6,140.3 L152.8,141.2 L154.1,142.5 L155.5,144.1 L156.5,145.8 L157.3,147.2Z" fill="none" stroke="#00e000" stroke-width="1.1" stroke-linejoin="round"/><path d="M154.8,158.3 L154.7,159.0 L154.5,159.7 L154.0,160.3 L153.5,160.8 L152.8,161.2 L152.1,161.4 L151.3,161.5 L150.5,161.4 L149.8,161.2 L149.1,160.8 L148.6,160.3 L148.1,159.7 L147.9,159.0 L147.8,158.3 L147.9,157.6 L148.1,156.9 L148.6,156.3 L149.1,155.8 L149.8,155.4 L150.5,155.2 L151.3,155.1 L152.1,155.2 L152.8,155.4 L153.5,155.8 L154.0,156.3 L154.5,156.9 L154.7,157.6Z" fill="none" stroke="#00e000" stroke-width="1.1" stroke-linejoin="round"/><path d="M205.5,63.5 L205.2,65.2 L204.2,67.8 L202.6,70.5 L200.7,73.1 L198.7,75.2 L196.8,76.5 L195.5,77.0 L194.2,76.5 L192.3,75.2 L190.3,73.1 L188.4,70.5 L186.8,67.8 L185.8,65.2 L185.5,63.5 L185.8,61.8 L186.8,59.2 L188.4,56.5 L190.3,53.9 L192.3,51.8 L194.2,50.5 L195.5,50.0 L196.8,50.5 L198.7,51.8 L200.7,53.9 L202.6,56.5 L204.2,59.2 L205.2,61.8Z M202.8,64.2 L202.6,65.5 L201.8,67.4 L200.6,69.6 L199.2,71.5 L197.6,73.1 L196.1,74.2 L195.2,74.5 L194.2,74.2 L192.7,73.1 L191.2,71.5 L189.7,69.6 L188.5,67.4 L187.8,65.5 L187.5,64.2 L187.8,62.9 L188.5,60.9 L189.7,58.8 L191.2,56.8 L192.7,55.2 L194.2,54.2 L195.2,53.8 L196.1,54.2 L197.6,55.2 L199.2,56.8 L200.6,58.8 L201.8,60.9 L202.6,62.9Z M200.2,64.8 L200.0,65.7 L199.5,67.1 L198.6,68.6 L197.6,70.0 L196.5,71.1 L195.5,71.8 L194.8,72.0 L194.2,71.8 L193.1,71.1 L192.1,70.0 L191.0,68.6 L190.2,67.1 L189.7,65.7 L189.5,64.8 L189.7,63.9 L190.2,62.6 L191.0,61.1 L192.1,59.7 L193.1,58.6 L194.2,57.9 L194.8,57.6 L195.5,57.9 L196.5,58.6 L197.6,59.7 L198.6,61.1 L199.5,62.6 L200.0,63.9Z M197.5,65.5 L197.4,66.0 L197.1,66.8 L196.6,67.6 L196.1,68.4 L195.4,69.0 L194.9,69.4 L194.5,69.5 L194.1,69.4 L193.6,69.0 L192.9,68.4 L192.4,67.6 L191.9,66.8 L191.6,66.0 L191.5,65.5 L191.6,65.0 L191.9,64.2 L192.4,63.4 L192.9,62.6 L193.6,62.0 L194.1,61.6 L194.5,61.5 L194.9,61.6 L195.4,62.0 L196.1,62.6 L196.6,63.4 L197.1,64.2 L197.4,65.0Z" fill="none" stroke="#00e000" stroke-width="1.1" stroke-linejoin="round"/><path d="M198.5,85.0 L198.2,90.3 L197.5,94.3 L196.3,97.4 L194.6,99.8 L192.5,101.4 L189.9,102.1 L186.5,102.0 L183.1,101.2 L180.5,99.8 L178.4,97.9 L176.7,95.5 L175.5,92.7 L174.8,89.4 L174.5,85.0 L174.8,80.6 L175.5,77.3 L176.7,74.5 L178.4,72.1 L180.5,70.2 L183.1,68.8 L186.5,68.0 L189.9,67.9 L192.5,68.6 L194.6,70.2 L196.3,72.6 L197.5,75.7 L198.2,79.7Z M196.7,86.0 L196.5,90.5 L195.9,93.9 L194.8,96.5 L193.4,98.6 L191.6,99.9 L189.4,100.6 L186.5,100.5 L183.6,99.7 L181.4,98.6 L179.6,97.0 L178.2,95.0 L177.1,92.5 L176.5,89.7 L176.3,86.0 L176.5,82.3 L177.1,79.5 L178.2,77.0 L179.6,75.0 L181.4,73.4 L183.6,72.3 L186.5,71.6 L189.4,71.4 L191.6,72.1 L193.4,73.4 L194.8,75.5 L195.9,78.1 L196.5,81.5Z" fill="none" stroke="#00e000" stroke-width="1.1" stroke-linejoin="round"/><path d="M189.5,77.0 L189.4,77.9 L189.0,78.7 L188.4,79.5 L187.6,80.1 L186.7,80.6 L185.6,80.9 L184.5,81.0 L183.4,80.9 L182.3,80.6 L181.4,80.1 L180.6,79.5 L180.0,78.7 L179.6,77.9 L179.5,77.0 L179.6,76.1 L180.0,75.3 L180.6,74.5 L181.4,73.9 L182.3,73.4 L183.4,73.1 L184.5,73.0 L185.6,73.1 L186.7,73.4 L187.6,73.9 L188.4,74.5 L189.0,75.3 L189.4,76.1Z M187.0,77.0 L186.9,77.4 L186.8,77.9 L186.5,78.2 L186.1,78.6 L185.6,78.8 L185.1,78.9 L184.5,79.0 L183.9,78.9 L183.4,78.8 L182.9,78.6 L182.5,78.2 L182.2,77.9 L182.1,77.4 L182.0,77.0 L182.1,76.6 L182.2,76.1 L182.5,75.8 L182.9,75.4 L183.4,75.2 L183.9,75.1 L184.5,75.0 L185.1,75.1 L185.6,75.2 L186.1,75.4 L186.5,75.8 L186.8,76.1 L186.9,76.6Z" fill="none" stroke="#00e000" stroke-width="1.1" stroke-linejoin="round"/><path d="M204.5,113.0 L204.4,114.2 L204.0,115.4 L203.3,116.4 L202.4,117.3 L201.4,118.0 L200.2,118.4 L199.0,118.5 L197.8,118.4 L196.6,118.0 L195.6,117.3 L194.7,116.4 L194.0,115.4 L193.6,114.2 L193.5,113.0 L193.6,111.8 L194.0,110.6 L194.7,109.6 L195.6,108.7 L196.6,108.0 L197.8,107.6 L199.0,107.5 L200.2,107.6 L201.4,108.0 L202.4,108.7 L203.3,109.6 L204.0,110.6 L204.4,111.8Z M201.8,113.0 L201.7,113.6 L201.5,114.2 L201.2,114.7 L200.7,115.2 L200.2,115.5 L199.6,115.7 L199.0,115.8 L198.4,115.7 L197.8,115.5 L197.3,115.2 L196.8,114.7 L196.5,114.2 L196.3,113.6 L196.2,113.0 L196.3,112.4 L196.5,111.8 L196.8,111.3 L197.3,110.8 L197.8,110.5 L198.4,110.3 L199.0,110.2 L199.6,110.3 L200.2,110.5 L200.7,110.8 L201.2,111.3 L201.5,111.8 L201.7,112.4Z" fill="none" stroke="#00e000" stroke-width="1.1" stroke-linejoin="round"/><path d="M198.0,120.0 L197.9,121.1 L197.5,122.2 L196.9,123.1 L196.1,123.9 L195.2,124.5 L194.1,124.9 L193.0,125.0 L191.9,124.9 L190.8,124.5 L189.9,123.9 L189.1,123.1 L188.5,122.2 L188.1,121.1 L188.0,120.0 L188.1,118.9 L188.5,117.8 L189.1,116.9 L189.9,116.1 L190.8,115.5 L191.9,115.1 L193.0,115.0 L194.1,115.1 L195.2,115.5 L196.1,116.1 L196.9,116.9 L197.5,117.8 L197.9,118.9Z M195.5,120.0 L195.4,120.6 L195.3,121.1 L195.0,121.6 L194.6,122.0 L194.1,122.3 L193.6,122.4 L193.0,122.5 L192.4,122.4 L191.9,122.3 L191.4,122.0 L191.0,121.6 L190.7,121.1 L190.6,120.6 L190.5,120.0 L190.6,119.4 L190.7,118.9 L191.0,118.4 L191.4,118.0 L191.9,117.7 L192.4,117.6 L193.0,117.5 L193.6,117.6 L194.1,117.7 L194.6,118.0 L195.0,118.4 L195.3,118.9 L195.4,119.4Z" fill="none" stroke="#00e000" stroke-width="1.1" stroke-linejoin="round"/><path d="M217.5,151.5 L217.3,152.7 L216.9,153.9 L216.2,154.9 L215.2,155.8 L214.1,156.5 L212.8,156.9 L211.5,157.0 L210.2,156.9 L208.9,156.5 L207.8,155.8 L206.8,154.9 L206.1,153.9 L205.7,152.7 L205.5,151.5 L205.7,150.3 L206.1,149.1 L206.8,148.1 L207.8,147.2 L208.9,146.5 L210.2,146.1 L211.5,146.0 L212.8,146.1 L214.1,146.5 L215.2,147.2 L216.2,148.1 L216.9,149.1 L217.3,150.3Z M215.6,151.5 L215.4,152.3 L215.1,153.1 L214.7,153.8 L214.0,154.4 L213.3,154.8 L212.4,155.1 L211.5,155.2 L210.6,155.1 L209.7,154.8 L209.0,154.4 L208.3,153.8 L207.9,153.1 L207.6,152.3 L207.4,151.5 L207.6,150.7 L207.9,149.9 L208.3,149.2 L209.0,148.6 L209.7,148.2 L210.6,147.9 L211.5,147.8 L212.4,147.9 L213.3,148.2 L214.0,148.6 L214.7,149.2 L215.1,149.9 L215.4,150.7Z M213.6,151.5 L213.5,151.9 L213.4,152.3 L213.1,152.7 L212.8,153.0 L212.4,153.2 L212.0,153.4 L211.5,153.4 L211.0,153.4 L210.6,153.2 L210.2,153.0 L209.9,152.7 L209.6,152.3 L209.5,151.9 L209.4,151.5 L209.5,151.1 L209.6,150.7 L209.9,150.3 L210.2,150.0 L210.6,149.8 L211.0,149.6 L211.5,149.6 L212.0,149.6 L212.4,149.8 L212.8,150.0 L213.1,150.3 L213.4,150.7 L213.5,151.1Z" fill="none" stroke="#00e000" stroke-width="1.1" stroke-linejoin="round"/><path d="M181.0,137.0 L180.9,138.4 L180.6,140.0 L180.2,141.4 L179.6,142.7 L178.9,143.7 L178.2,144.3 L177.5,144.5 L176.8,144.3 L176.1,143.7 L175.4,142.7 L174.8,141.4 L174.4,140.0 L174.1,138.4 L174.0,137.0 L174.1,135.6 L174.4,134.0 L174.8,132.6 L175.4,131.3 L176.1,130.3 L176.8,129.7 L177.5,129.5 L178.2,129.7 L178.9,130.3 L179.6,131.3 L180.2,132.6 L180.6,134.0 L180.9,135.6Z M179.6,137.0 L179.5,137.8 L179.4,138.8 L179.1,139.7 L178.7,140.4 L178.3,141.0 L177.9,141.4 L177.5,141.5 L177.1,141.4 L176.7,141.0 L176.3,140.4 L175.9,139.7 L175.6,138.8 L175.5,137.8 L175.4,137.0 L175.5,136.2 L175.6,135.2 L175.9,134.3 L176.3,133.6 L176.7,133.0 L177.1,132.6 L177.5,132.5 L177.9,132.6 L178.3,133.0 L178.7,133.6 L179.1,134.3 L179.4,135.2 L179.5,136.2Z" fill="none" stroke="#00e000" stroke-width="1.1" stroke-linejoin="round"/><path d="M252.0,104.0 L251.5,106.1 L250.0,109.5 L247.7,113.2 L244.9,116.7 L241.9,119.5 L239.2,121.4 L237.5,122.0 L235.8,121.4 L233.1,119.5 L230.1,116.7 L227.3,113.2 L225.0,109.5 L223.5,106.1 L223.0,104.0 L223.5,101.9 L225.0,98.5 L227.3,94.8 L230.1,91.3 L233.1,88.5 L235.8,86.6 L237.5,86.0 L239.2,86.6 L241.9,88.5 L244.9,91.3 L247.7,94.8 L250.0,98.5 L251.5,101.9Z M250.1,104.3 L249.6,106.1 L248.3,109.1 L246.3,112.3 L243.8,115.4 L241.2,117.9 L238.8,119.5 L237.4,120.1 L235.9,119.5 L233.5,117.9 L230.9,115.4 L228.4,112.3 L226.4,109.1 L225.1,106.1 L224.6,104.3 L225.1,102.4 L226.4,99.5 L228.4,96.2 L230.9,93.2 L233.5,90.7 L235.9,89.0 L237.4,88.5 L238.8,89.0 L241.2,90.7 L243.8,93.2 L246.3,96.2 L248.3,99.5 L249.6,102.4Z M248.2,104.6 L247.8,106.2 L246.7,108.7 L244.9,111.5 L242.8,114.2 L240.5,116.3 L238.5,117.7 L237.2,118.2 L235.9,117.7 L233.9,116.3 L231.6,114.2 L229.5,111.5 L227.8,108.7 L226.6,106.2 L226.2,104.6 L226.6,103.0 L227.8,100.4 L229.5,97.6 L231.6,95.0 L233.9,92.8 L235.9,91.4 L237.2,90.9 L238.5,91.4 L240.5,92.8 L242.8,95.0 L244.9,97.6 L246.7,100.4 L247.8,103.0Z M246.3,104.9 L246.0,106.2 L245.0,108.3 L243.6,110.7 L241.8,112.9 L239.9,114.7 L238.1,115.9 L237.1,116.3 L236.0,115.9 L234.3,114.7 L232.4,112.9 L230.6,110.7 L229.1,108.3 L228.2,106.2 L227.9,104.9 L228.2,103.5 L229.1,101.4 L230.6,99.0 L232.4,96.8 L234.3,95.0 L236.0,93.8 L237.1,93.4 L238.1,93.8 L239.9,95.0 L241.8,96.8 L243.6,99.0 L245.0,101.4 L246.0,103.5Z M244.4,105.1 L244.1,106.2 L243.4,108.0 L242.2,109.9 L240.7,111.7 L239.2,113.1 L237.8,114.1 L236.9,114.4 L236.1,114.1 L234.7,113.1 L233.1,111.7 L231.7,109.9 L230.5,108.0 L229.7,106.2 L229.5,105.1 L229.7,104.1 L230.5,102.3 L231.7,100.4 L233.1,98.6 L234.7,97.2 L236.1,96.2 L236.9,95.9 L237.8,96.2 L239.2,97.2 L240.7,98.6 L242.2,100.4 L243.4,102.3 L244.1,104.1Z M242.5,105.4 L242.3,106.3 L241.7,107.6 L240.8,109.0 L239.7,110.4 L238.5,111.5 L237.5,112.2 L236.8,112.5 L236.1,112.2 L235.1,111.5 L233.9,110.4 L232.8,109.0 L231.9,107.6 L231.3,106.3 L231.1,105.4 L231.3,104.6 L231.9,103.3 L232.8,101.8 L233.9,100.5 L235.1,99.3 L236.1,98.6 L236.8,98.4 L237.5,98.6 L238.5,99.3 L239.7,100.5 L240.8,101.8 L241.7,103.3 L242.3,104.6Z M240.6,105.7 L240.4,106.3 L240.0,107.2 L239.4,108.2 L238.6,109.2 L237.8,109.9 L237.1,110.4 L236.6,110.6 L236.2,110.4 L235.4,109.9 L234.6,109.2 L233.9,108.2 L233.3,107.2 L232.8,106.3 L232.7,105.7 L232.8,105.1 L233.3,104.2 L233.9,103.2 L234.6,102.3 L235.4,101.5 L236.2,101.0 L236.6,100.8 L237.1,101.0 L237.8,101.5 L238.6,102.3 L239.4,103.2 L240.0,104.2 L240.4,105.1Z M238.7,106.0 L238.6,106.3 L238.4,106.8 L238.0,107.4 L237.6,107.9 L237.2,108.3 L236.8,108.6 L236.5,108.7 L236.2,108.6 L235.8,108.3 L235.4,107.9 L235.0,107.4 L234.6,106.8 L234.4,106.3 L234.3,106.0 L234.4,105.7 L234.6,105.2 L235.0,104.6 L235.4,104.1 L235.8,103.7 L236.2,103.4 L236.5,103.3 L236.8,103.4 L237.2,103.7 L237.6,104.1 L238.0,104.6 L238.4,105.2 L238.6,105.7Z" fill="none" stroke="#00e000" stroke-width="1.1" stroke-linejoin="round"/><path d="M269.0,160.0 L268.8,161.3 L268.4,162.6 L267.6,163.7 L266.6,164.7 L265.3,165.4 L263.9,165.8 L262.5,166.0 L261.1,165.8 L259.7,165.4 L258.4,164.7 L257.4,163.7 L256.6,162.6 L256.2,161.3 L256.0,160.0 L256.2,158.7 L256.6,157.4 L257.4,156.3 L258.4,155.3 L259.7,154.6 L261.1,154.2 L262.5,154.0 L263.9,154.2 L265.3,154.6 L266.6,155.3 L267.6,156.3 L268.4,157.4 L268.8,158.7Z M267.1,160.0 L266.9,160.9 L266.6,161.8 L266.1,162.6 L265.3,163.3 L264.5,163.8 L263.5,164.1 L262.5,164.2 L261.5,164.1 L260.5,163.8 L259.7,163.3 L258.9,162.6 L258.4,161.8 L258.1,160.9 L257.9,160.0 L258.1,159.1 L258.4,158.2 L258.9,157.4 L259.7,156.7 L260.5,156.2 L261.5,155.9 L262.5,155.8 L263.5,155.9 L264.5,156.2 L265.3,156.7 L266.1,157.4 L266.6,158.2 L266.9,159.1Z M265.1,160.0 L265.0,160.5 L264.8,161.0 L264.5,161.5 L264.1,161.9 L263.6,162.2 L263.1,162.3 L262.5,162.4 L261.9,162.3 L261.4,162.2 L260.9,161.9 L260.5,161.5 L260.2,161.0 L260.0,160.5 L259.9,160.0 L260.0,159.5 L260.2,159.0 L260.5,158.5 L260.9,158.1 L261.4,157.8 L261.9,157.7 L262.5,157.6 L263.1,157.7 L263.6,157.8 L264.1,158.1 L264.5,158.5 L264.8,159.0 L265.0,159.5Z" fill="none" stroke="#00e000" stroke-width="1.1" stroke-linejoin="round"/><path d="M137.0,226.0 L136.6,228.8 L135.4,232.2 L133.6,235.5 L131.2,238.4 L128.6,240.6 L125.8,242.0 L123.5,242.5 L121.2,242.0 L118.4,240.6 L115.8,238.4 L113.4,235.5 L111.6,232.2 L110.4,228.8 L110.0,226.0 L110.4,223.2 L111.6,219.8 L113.4,216.5 L115.8,213.6 L118.4,211.4 L121.2,210.0 L123.5,209.5 L125.8,210.0 L128.6,211.4 L131.2,213.6 L133.6,216.5 L135.4,219.8 L136.6,223.2Z M134.4,226.0 L134.1,228.3 L133.1,231.1 L131.6,233.8 L129.6,236.2 L127.4,238.0 L125.2,239.2 L123.2,239.6 L121.3,239.2 L119.1,238.0 L116.9,236.2 L114.9,233.8 L113.4,231.1 L112.4,228.3 L112.1,226.0 L112.4,223.7 L113.4,220.9 L114.9,218.2 L116.9,215.8 L119.1,214.0 L121.3,212.8 L123.2,212.4 L125.2,212.8 L127.4,214.0 L129.6,215.8 L131.6,218.2 L133.1,220.9 L134.1,223.7Z M131.8,226.0 L131.5,227.8 L130.8,230.0 L129.6,232.2 L128.0,234.0 L126.3,235.5 L124.5,236.4 L123.0,236.7 L121.5,236.4 L119.7,235.5 L118.0,234.0 L116.4,232.2 L115.2,230.0 L114.5,227.8 L114.2,226.0 L114.5,224.2 L115.2,222.0 L116.4,219.8 L118.0,218.0 L119.7,216.5 L121.5,215.6 L123.0,215.3 L124.5,215.6 L126.3,216.5 L128.0,218.0 L129.6,219.8 L130.8,222.0 L131.5,224.2Z M129.2,226.0 L129.0,227.3 L128.4,228.9 L127.6,230.5 L126.4,231.9 L125.2,232.9 L123.8,233.6 L122.8,233.8 L121.7,233.6 L120.3,232.9 L119.1,231.9 L117.9,230.5 L117.1,228.9 L116.5,227.3 L116.3,226.0 L116.5,224.7 L117.1,223.1 L117.9,221.5 L119.1,220.1 L120.3,219.1 L121.7,218.4 L122.8,218.2 L123.8,218.4 L125.2,219.1 L126.4,220.1 L127.6,221.5 L128.4,223.1 L129.0,224.7Z M126.5,226.0 L126.4,226.8 L126.1,227.9 L125.5,228.8 L124.8,229.7 L124.0,230.4 L123.2,230.8 L122.5,230.9 L121.8,230.8 L121.0,230.4 L120.2,229.7 L119.5,228.8 L118.9,227.9 L118.6,226.8 L118.5,226.0 L118.6,225.2 L118.9,224.1 L119.5,223.2 L120.2,222.3 L121.0,221.6 L121.8,221.2 L122.5,221.1 L123.2,221.2 L124.0,221.6 L124.8,222.3 L125.5,223.2 L126.1,224.1 L126.4,225.2Z" fill="none" stroke="#00e000" stroke-width="1.1" stroke-linejoin="round"/><path d="M191.0,224.0 L190.3,226.8 L188.3,230.5 L185.2,234.2 L181.2,237.6 L176.7,240.2 L172.4,241.9 L169.0,242.5 L165.6,241.9 L161.3,240.2 L156.8,237.6 L152.8,234.2 L149.7,230.5 L147.7,226.8 L147.0,224.0 L147.7,221.2 L149.7,217.5 L152.8,213.8 L156.8,210.4 L161.3,207.8 L165.6,206.1 L169.0,205.5 L172.4,206.1 L176.7,207.8 L181.2,210.4 L185.2,213.8 L188.3,217.5 L190.3,221.2Z M188.4,224.0 L187.8,226.5 L186.0,229.7 L183.2,233.0 L179.7,236.0 L175.8,238.3 L172.0,239.8 L169.0,240.3 L166.0,239.8 L162.2,238.3 L158.3,236.0 L154.8,233.0 L152.0,229.7 L150.2,226.5 L149.6,224.0 L150.2,221.5 L152.0,218.3 L154.8,215.0 L158.3,212.0 L162.2,209.7 L166.0,208.2 L169.0,207.7 L172.0,208.2 L175.8,209.7 L179.7,212.0 L183.2,215.0 L186.0,218.3 L187.8,221.5Z" fill="none" stroke="#00e000" stroke-width="1.1" stroke-linejoin="round"/><path d="M174.0,222.0 L173.7,224.5 L172.7,227.4 L171.1,230.3 L169.1,232.9 L166.8,234.8 L164.5,236.1 L162.5,236.5 L160.5,236.1 L158.2,234.8 L155.9,232.9 L153.9,230.3 L152.3,227.4 L151.3,224.5 L151.0,222.0 L151.3,219.5 L152.3,216.6 L153.9,213.7 L155.9,211.1 L158.2,209.2 L160.5,207.9 L162.5,207.5 L164.5,207.9 L166.8,209.2 L169.1,211.1 L171.1,213.7 L172.7,216.6 L173.7,219.5Z M171.3,222.0 L171.1,223.9 L170.3,226.2 L169.1,228.4 L167.6,230.3 L165.8,231.8 L164.0,232.8 L162.5,233.1 L161.0,232.8 L159.2,231.8 L157.4,230.3 L155.9,228.4 L154.7,226.2 L153.9,223.9 L153.7,222.0 L153.9,220.1 L154.7,217.8 L155.9,215.6 L157.4,213.7 L159.2,212.2 L161.0,211.2 L162.5,210.9 L164.0,211.2 L165.8,212.2 L167.6,213.7 L169.1,215.6 L170.3,217.8 L171.1,220.1Z M168.6,222.0 L168.5,223.3 L167.9,224.9 L167.1,226.4 L166.0,227.8 L164.8,228.8 L163.5,229.5 L162.5,229.7 L161.5,229.5 L160.2,228.8 L159.0,227.8 L157.9,226.4 L157.1,224.9 L156.5,223.3 L156.4,222.0 L156.5,220.7 L157.1,219.1 L157.9,217.6 L159.0,216.2 L160.2,215.2 L161.5,214.5 L162.5,214.3 L163.5,214.5 L164.8,215.2 L166.0,216.2 L167.1,217.6 L167.9,219.1 L168.5,220.7Z M165.9,222.0 L165.8,222.7 L165.6,223.6 L165.1,224.5 L164.5,225.3 L163.8,225.8 L163.1,226.2 L162.5,226.3 L161.9,226.2 L161.2,225.8 L160.5,225.3 L159.9,224.5 L159.4,223.6 L159.2,222.7 L159.1,222.0 L159.2,221.3 L159.4,220.4 L159.9,219.5 L160.5,218.7 L161.2,218.2 L161.9,217.8 L162.5,217.7 L163.1,217.8 L163.8,218.2 L164.5,218.7 L165.1,219.5 L165.6,220.4 L165.8,221.3Z" fill="none" stroke="#00e000" stroke-width="1.1" stroke-linejoin="round"/><path d="M192.0,214.0 L191.8,215.5 L191.0,217.5 L189.9,219.5 L188.4,221.4 L186.8,222.8 L185.2,223.7 L184.0,224.0 L182.8,223.7 L181.2,222.8 L179.6,221.4 L178.1,219.5 L177.0,217.5 L176.2,215.5 L176.0,214.0 L176.2,212.5 L177.0,210.5 L178.1,208.5 L179.6,206.6 L181.2,205.2 L182.8,204.3 L184.0,204.0 L185.2,204.3 L186.8,205.2 L188.4,206.6 L189.9,208.5 L191.0,210.5 L191.8,212.5Z M189.6,214.0 L189.4,215.1 L188.9,216.5 L188.1,217.9 L187.1,219.1 L186.0,220.1 L184.9,220.8 L184.0,221.0 L183.1,220.8 L182.0,220.1 L180.9,219.1 L179.9,217.9 L179.1,216.5 L178.6,215.1 L178.4,214.0 L178.6,212.9 L179.1,211.5 L179.9,210.1 L180.9,208.9 L182.0,207.9 L183.1,207.2 L184.0,207.0 L184.9,207.2 L186.0,207.9 L187.1,208.9 L188.1,210.1 L188.9,211.5 L189.4,212.9Z M187.2,214.0 L187.1,214.6 L186.8,215.4 L186.4,216.2 L185.8,216.9 L185.1,217.5 L184.5,217.9 L184.0,218.0 L183.5,217.9 L182.9,217.5 L182.2,216.9 L181.6,216.2 L181.2,215.4 L180.9,214.6 L180.8,214.0 L180.9,213.4 L181.2,212.6 L181.6,211.8 L182.2,211.1 L182.9,210.5 L183.5,210.1 L184.0,210.0 L184.5,210.1 L185.1,210.5 L185.8,211.1 L186.4,211.8 L186.8,212.6 L187.1,213.4Z" fill="none" stroke="#00e000" stroke-width="1.1" stroke-linejoin="round"/><path d="M123.7,299.1 C125.2,297.6 128.2,297.7 130.9,297.1 C133.6,296.4 137.2,295.6 140.1,295.0 C143.0,294.5 146.0,293.7 148.3,293.8 C150.5,293.9 151.9,294.4 153.4,295.5 C154.8,296.7 155.9,298.4 156.9,300.6 C158.0,302.8 159.2,306.1 159.5,308.8 C159.8,311.5 159.8,314.5 159.0,317.0 C158.1,319.5 156.1,322.4 154.4,323.6 C152.7,324.8 151.2,324.8 148.8,324.1 C146.4,323.5 142.6,321.2 140.1,319.5 C137.5,317.8 135.7,315.3 133.4,313.9 C131.1,312.6 128.2,312.7 126.3,311.4 C124.4,310.0 122.4,307.8 122.0,305.7 C121.6,303.7 122.2,300.5 123.7,299.1Z" fill="none" stroke="#00e000" stroke-width="1.1" stroke-linejoin="round"/><path d="M123.7,301.5 C125.1,300.0 128.1,300.1 130.8,299.4 C133.6,298.8 137.2,297.9 140.1,297.4 C143.0,296.8 146.1,296.1 148.3,296.1 C150.5,296.2 152.0,296.7 153.5,297.9 C154.9,299.0 156.0,300.8 157.1,303.0 C158.1,305.3 159.3,308.5 159.6,311.3 C160.0,314.0 160.0,317.0 159.1,319.5 C158.3,322.0 156.2,325.0 154.5,326.2 C152.8,327.4 151.2,327.4 148.8,326.7 C146.4,326.0 142.7,323.8 140.1,322.0 C137.5,320.3 135.7,317.8 133.4,316.4 C131.1,315.0 128.1,315.2 126.2,313.8 C124.3,312.5 122.3,310.2 121.9,308.2 C121.5,306.1 122.2,302.9 123.7,301.5Z" fill="none" stroke="#00e000" stroke-width="1.1" stroke-linejoin="round"/><path d="M123.6,303.9 C125.1,302.4 128.1,302.5 130.8,301.8 C133.6,301.1 137.2,300.3 140.1,299.8 C143.0,299.2 146.1,298.4 148.4,298.5 C150.6,298.6 152.1,299.1 153.6,300.3 C155.0,301.4 156.1,303.2 157.2,305.4 C158.2,307.7 159.4,311.0 159.8,313.7 C160.1,316.5 160.1,319.5 159.2,322.0 C158.4,324.5 156.3,327.5 154.6,328.7 C152.9,329.9 151.3,329.9 148.9,329.2 C146.5,328.5 142.7,326.3 140.1,324.6 C137.5,322.8 135.7,320.3 133.4,318.9 C131.1,317.5 128.1,317.7 126.2,316.3 C124.2,314.9 122.3,312.7 121.8,310.6 C121.4,308.5 122.1,305.4 123.6,303.9Z" fill="none" stroke="#00e000" stroke-width="1.1" stroke-linejoin="round"/><path d="M151.7,313.6 L151.0,315.0 L149.9,316.3 L148.4,317.2 L146.6,317.9 L144.6,318.2 L142.4,318.2 L140.2,317.8 L138.1,317.0 L136.2,316.0 L134.6,314.7 L133.3,313.2 L132.5,311.6 L132.2,310.0 L132.3,308.4 L133.0,307.0 L134.1,305.7 L135.6,304.8 L137.4,304.1 L139.4,303.8 L141.6,303.8 L143.8,304.2 L145.9,305.0 L147.8,306.0 L149.4,307.3 L150.7,308.8 L151.5,310.4 L151.8,312.0Z M146.8,312.3 L146.5,313.0 L146.0,313.6 L145.2,314.1 L144.3,314.5 L143.3,314.6 L142.2,314.6 L141.1,314.4 L140.0,314.0 L139.1,313.5 L138.3,312.8 L137.7,312.1 L137.3,311.3 L137.1,310.5 L137.2,309.7 L137.5,309.0 L138.0,308.4 L138.8,307.9 L139.7,307.5 L140.7,307.4 L141.8,307.4 L142.9,307.6 L144.0,308.0 L144.9,308.5 L145.7,309.2 L146.3,309.9 L146.7,310.7 L146.9,311.5Z" fill="none" stroke="#00e000" stroke-width="1.1" stroke-linejoin="round"/><path d="M183.5,287.5 C185.0,287.2 187.3,287.7 188.5,288.5 C189.7,289.3 189.5,291.2 190.5,292.5 C191.5,293.8 193.4,294.8 194.5,296.0 C195.6,297.2 197.1,298.4 197.3,299.5 C197.5,300.6 196.6,302.2 195.5,302.5 C194.4,302.8 192.2,300.7 191.0,301.0 C189.8,301.3 189.2,303.8 188.0,304.5 C186.8,305.2 184.9,305.9 183.5,305.5 C182.1,305.1 180.4,303.6 179.5,302.0 C178.6,300.4 178.2,297.9 178.2,296.0 C178.2,294.1 178.6,291.9 179.5,290.5 C180.4,289.1 182.0,287.8 183.5,287.5Z" fill="none" stroke="#00e000" stroke-width="1.1" stroke-linejoin="round"/><path d="M184.0,291.0 C185.0,290.3 186.8,291.2 187.5,292.0 C188.2,292.8 188.7,294.7 188.5,296.0 C188.3,297.3 187.4,299.3 186.5,300.0 C185.6,300.7 183.8,300.7 183.0,300.0 C182.2,299.3 181.3,297.5 181.5,296.0 C181.7,294.5 183.0,291.7 184.0,291.0Z" fill="none" stroke="#00e000" stroke-width="1.1" stroke-linejoin="round"/><path d="M124.5,380.5 L124.3,383.2 L123.7,385.7 L122.8,388.0 L121.5,389.9 L120.0,391.3 L118.3,392.2 L116.5,392.5 L114.7,392.2 L113.0,391.3 L111.5,389.9 L110.2,388.0 L109.3,385.7 L108.7,383.2 L108.5,380.5 L108.7,377.8 L109.3,375.3 L110.2,373.0 L111.5,371.1 L113.0,369.7 L114.7,368.8 L116.5,368.5 L118.3,368.8 L120.0,369.7 L121.5,371.1 L122.8,373.0 L123.7,375.3 L124.3,377.8Z M121.3,381.5 L121.2,383.1 L120.8,384.6 L120.3,386.0 L119.5,387.1 L118.6,388.0 L117.6,388.5 L116.5,388.7 L115.4,388.5 L114.4,388.0 L113.5,387.1 L112.7,386.0 L112.2,384.6 L111.8,383.1 L111.7,381.5 L111.8,379.9 L112.2,378.4 L112.7,377.0 L113.5,375.9 L114.4,375.0 L115.4,374.5 L116.5,374.3 L117.6,374.5 L118.6,375.0 L119.5,375.9 L120.3,377.0 L120.8,378.4 L121.2,379.9Z" fill="none" stroke="#00e000" stroke-width="1.1" stroke-linejoin="round"/><path d="M596.2,51.6 L596.1,52.3 L596.0,53.0 L595.8,53.6 L595.4,54.1 L595.1,54.5 L594.6,54.7 L594.2,54.8 L593.8,54.7 L593.3,54.5 L593.0,54.1 L592.6,53.6 L592.4,53.0 L592.3,52.3 L592.2,51.6 L592.3,50.9 L592.4,50.2 L592.6,49.6 L593.0,49.1 L593.3,48.7 L593.8,48.5 L594.2,48.4 L594.6,48.5 L595.1,48.7 L595.4,49.1 L595.8,49.6 L596.0,50.2 L596.1,50.9Z M595.2,51.6 L595.2,52.0 L595.1,52.3 L595.0,52.6 L594.8,52.9 L594.6,53.0 L594.4,53.2 L594.2,53.2 L594.0,53.2 L593.8,53.0 L593.6,52.9 L593.4,52.6 L593.3,52.3 L593.2,52.0 L593.2,51.6 L593.2,51.2 L593.3,50.9 L593.4,50.6 L593.6,50.3 L593.8,50.2 L594.0,50.0 L594.2,50.0 L594.4,50.0 L594.6,50.2 L594.8,50.3 L595.0,50.6 L595.1,50.9 L595.2,51.2Z" fill="none" stroke="#ff0000" stroke-width="1.3" stroke-linejoin="round"/><path d="M553.6,58.0 L553.6,58.6 L553.4,59.1 L553.3,59.6 L553.0,60.0 L552.7,60.3 L552.4,60.5 L552.0,60.6 L551.6,60.5 L551.3,60.3 L551.0,60.0 L550.7,59.6 L550.6,59.1 L550.4,58.6 L550.4,58.0 L550.4,57.4 L550.6,56.9 L550.7,56.4 L551.0,56.0 L551.3,55.7 L551.6,55.5 L552.0,55.4 L552.4,55.5 L552.7,55.7 L553.0,56.0 L553.3,56.4 L553.4,56.9 L553.6,57.4Z" fill="none" stroke="#ff0000" stroke-width="1.2" stroke-linejoin="round"/><path d="M560.2,57.5 L560.1,58.3 L560.0,59.0 L559.7,59.7 L559.3,60.2 L558.8,60.7 L558.3,60.9 L557.7,61.0 L557.1,60.9 L556.6,60.7 L556.1,60.2 L555.7,59.7 L555.4,59.0 L555.3,58.3 L555.2,57.5 L555.3,56.7 L555.4,56.0 L555.7,55.3 L556.1,54.8 L556.6,54.3 L557.1,54.1 L557.7,54.0 L558.3,54.1 L558.8,54.3 L559.3,54.8 L559.7,55.3 L560.0,56.0 L560.1,56.7Z M559.0,57.5 L558.9,57.9 L558.8,58.3 L558.7,58.6 L558.5,58.9 L558.2,59.1 L558.0,59.2 L557.7,59.2 L557.4,59.2 L557.2,59.1 L556.9,58.9 L556.7,58.6 L556.6,58.3 L556.5,57.9 L556.5,57.5 L556.5,57.1 L556.6,56.7 L556.7,56.4 L556.9,56.1 L557.2,55.9 L557.4,55.8 L557.7,55.8 L558.0,55.8 L558.2,55.9 L558.5,56.1 L558.7,56.4 L558.8,56.7 L558.9,57.1Z" fill="none" stroke="#ff0000" stroke-width="1.3" stroke-linejoin="round"/><path d="M563.4,59.6 L563.8,60.4 L564.1,61.2 L564.1,62.1 L564.1,62.8 L563.9,63.5 L563.5,64.1 L563.0,64.5 L562.4,64.7 L561.7,64.7 L561.1,64.6 L560.4,64.3 L559.7,63.8 L559.1,63.1 L558.6,62.4 L558.2,61.6 L557.9,60.8 L557.9,59.9 L557.9,59.2 L558.1,58.5 L558.5,57.9 L559.0,57.5 L559.6,57.3 L560.3,57.3 L560.9,57.4 L561.6,57.7 L562.3,58.2 L562.9,58.9Z M562.6,60.1 L562.8,60.6 L563.0,61.2 L563.0,61.7 L563.0,62.2 L562.9,62.6 L562.6,63.0 L562.3,63.3 L561.9,63.4 L561.5,63.4 L561.0,63.3 L560.6,63.1 L560.1,62.8 L559.8,62.4 L559.4,61.9 L559.2,61.4 L559.0,60.8 L559.0,60.3 L559.0,59.8 L559.1,59.4 L559.4,59.0 L559.7,58.7 L560.1,58.6 L560.5,58.6 L561.0,58.7 L561.4,58.9 L561.9,59.2 L562.2,59.6Z M561.7,60.6 L561.8,60.8 L561.9,61.1 L561.9,61.3 L561.9,61.6 L561.9,61.8 L561.7,61.9 L561.6,62.0 L561.4,62.1 L561.2,62.1 L561.0,62.1 L560.8,62.0 L560.6,61.8 L560.4,61.6 L560.3,61.4 L560.2,61.2 L560.1,60.9 L560.1,60.7 L560.1,60.4 L560.1,60.2 L560.3,60.1 L560.4,60.0 L560.6,59.9 L560.8,59.9 L561.0,59.9 L561.2,60.0 L561.4,60.2 L561.6,60.4Z" fill="none" stroke="#0000ff" stroke-width="1.4" stroke-linejoin="round"/><path d="M566.6,64.5 L566.6,64.9 L566.4,65.3 L566.3,65.6 L566.0,65.9 L565.7,66.1 L565.4,66.3 L565.0,66.3 L564.6,66.3 L564.3,66.1 L564.0,65.9 L563.7,65.6 L563.6,65.3 L563.4,64.9 L563.4,64.5 L563.4,64.1 L563.6,63.7 L563.7,63.4 L564.0,63.1 L564.3,62.9 L564.6,62.7 L565.0,62.7 L565.4,62.7 L565.7,62.9 L566.0,63.1 L566.3,63.4 L566.4,63.7 L566.6,64.1Z" fill="none" stroke="#ff0000" stroke-width="0.9" stroke-linejoin="round"/><path d="M533.2,69.0 L533.2,69.4 L533.1,69.9 L532.9,70.2 L532.7,70.6 L532.5,70.8 L532.3,70.9 L532.0,71.0 L531.7,70.9 L531.5,70.8 L531.3,70.6 L531.1,70.2 L530.9,69.9 L530.8,69.4 L530.8,69.0 L530.8,68.6 L530.9,68.1 L531.1,67.8 L531.3,67.4 L531.5,67.2 L531.7,67.1 L532.0,67.0 L532.3,67.1 L532.5,67.2 L532.7,67.4 L532.9,67.8 L533.1,68.1 L533.2,68.6Z" fill="none" stroke="#ff0000" stroke-width="0.8" stroke-linejoin="round"/><path d="M586.6,77.0 L586.6,77.7 L586.4,78.3 L586.3,78.9 L586.0,79.3 L585.7,79.7 L585.4,79.9 L585.0,80.0 L584.6,79.9 L584.3,79.7 L584.0,79.3 L583.7,78.9 L583.6,78.3 L583.4,77.7 L583.4,77.0 L583.4,76.3 L583.6,75.7 L583.7,75.1 L584.0,74.7 L584.3,74.3 L584.6,74.1 L585.0,74.0 L585.4,74.1 L585.7,74.3 L586.0,74.7 L586.3,75.1 L586.4,75.7 L586.6,76.3Z" fill="none" stroke="#ff0000" stroke-width="0.9" stroke-linejoin="round"/><path d="M583.6,83.0 L583.5,84.0 L583.2,85.0 L582.7,85.8 L582.0,86.5 L581.2,87.1 L580.3,87.4 L579.3,87.5 L578.3,87.4 L577.4,87.1 L576.6,86.5 L575.9,85.8 L575.4,85.0 L575.1,84.0 L575.0,83.0 L575.1,82.0 L575.4,81.0 L575.9,80.2 L576.6,79.5 L577.4,78.9 L578.3,78.6 L579.3,78.5 L580.3,78.6 L581.2,78.9 L582.0,79.5 L582.7,80.2 L583.2,81.0 L583.5,82.0Z M582.3,83.0 L582.2,83.7 L582.0,84.4 L581.7,85.0 L581.2,85.5 L580.6,85.8 L580.0,86.1 L579.3,86.2 L578.6,86.1 L578.0,85.8 L577.4,85.5 L576.9,85.0 L576.6,84.4 L576.4,83.7 L576.3,83.0 L576.4,82.3 L576.6,81.6 L576.9,81.0 L577.4,80.5 L578.0,80.2 L578.6,79.9 L579.3,79.8 L580.0,79.9 L580.6,80.2 L581.2,80.5 L581.7,81.0 L582.0,81.6 L582.2,82.3Z" fill="none" stroke="#ff0000" stroke-width="1.2" stroke-linejoin="round"/><path d="M581.7,83.0 L581.6,83.9 L581.3,84.7 L580.9,85.4 L580.3,86.0 L579.6,86.4 L578.8,86.7 L578.0,86.8 L577.2,86.7 L576.4,86.4 L575.7,86.0 L575.1,85.4 L574.7,84.7 L574.4,83.9 L574.3,83.0 L574.4,82.1 L574.7,81.3 L575.1,80.6 L575.7,80.0 L576.4,79.6 L577.2,79.3 L578.0,79.2 L578.8,79.3 L579.6,79.6 L580.3,80.0 L580.9,80.6 L581.3,81.3 L581.6,82.1Z M580.5,83.0 L580.4,83.6 L580.2,84.1 L579.9,84.6 L579.5,85.0 L579.1,85.3 L578.5,85.5 L578.0,85.6 L577.5,85.5 L576.9,85.3 L576.5,85.0 L576.1,84.6 L575.8,84.1 L575.6,83.6 L575.5,83.0 L575.6,82.4 L575.8,81.9 L576.1,81.4 L576.5,81.0 L576.9,80.7 L577.5,80.5 L578.0,80.4 L578.5,80.5 L579.1,80.7 L579.5,81.0 L579.9,81.4 L580.2,81.9 L580.4,82.4Z M579.3,83.0 L579.2,83.3 L579.2,83.6 L579.0,83.8 L578.8,84.0 L578.6,84.2 L578.3,84.3 L578.0,84.3 L577.7,84.3 L577.4,84.2 L577.2,84.0 L577.0,83.8 L576.8,83.6 L576.8,83.3 L576.7,83.0 L576.8,82.7 L576.8,82.4 L577.0,82.2 L577.2,82.0 L577.4,81.8 L577.7,81.7 L578.0,81.7 L578.3,81.7 L578.6,81.8 L578.8,82.0 L579.0,82.2 L579.2,82.4 L579.2,82.7Z" fill="none" stroke="#0000ff" stroke-width="1.2" stroke-linejoin="round"/><path d="M597.6,82.0 L597.5,83.0 L597.2,84.0 L596.8,84.8 L596.2,85.5 L595.4,86.1 L594.6,86.4 L593.8,86.5 L593.0,86.4 L592.2,86.1 L591.4,85.5 L590.8,84.8 L590.4,84.0 L590.1,83.0 L590.0,82.0 L590.1,81.0 L590.4,80.0 L590.8,79.2 L591.4,78.5 L592.2,77.9 L593.0,77.6 L593.8,77.5 L594.6,77.6 L595.4,77.9 L596.2,78.5 L596.8,79.2 L597.2,80.0 L597.5,81.0Z M596.5,82.0 L596.4,82.7 L596.2,83.4 L595.9,84.0 L595.5,84.5 L595.0,84.8 L594.4,85.1 L593.8,85.2 L593.2,85.1 L592.6,84.8 L592.1,84.5 L591.7,84.0 L591.4,83.4 L591.2,82.7 L591.1,82.0 L591.2,81.3 L591.4,80.6 L591.7,80.0 L592.1,79.5 L592.6,79.2 L593.2,78.9 L593.8,78.8 L594.4,78.9 L595.0,79.2 L595.5,79.5 L595.9,80.0 L596.2,80.6 L596.4,81.3Z" fill="none" stroke="#ff0000" stroke-width="1.2" stroke-linejoin="round"/><path d="M595.7,82.0 L595.6,82.9 L595.4,83.7 L595.0,84.4 L594.5,85.0 L593.9,85.4 L593.2,85.7 L592.5,85.8 L591.8,85.7 L591.1,85.4 L590.5,85.0 L590.0,84.4 L589.6,83.7 L589.4,82.9 L589.3,82.0 L589.4,81.1 L589.6,80.3 L590.0,79.6 L590.5,79.0 L591.1,78.6 L591.8,78.3 L592.5,78.2 L593.2,78.3 L593.9,78.6 L594.5,79.0 L595.0,79.6 L595.4,80.3 L595.6,81.1Z M594.7,82.0 L594.6,82.6 L594.5,83.1 L594.2,83.6 L593.9,84.0 L593.4,84.3 L593.0,84.5 L592.5,84.6 L592.0,84.5 L591.6,84.3 L591.1,84.0 L590.8,83.6 L590.5,83.1 L590.4,82.6 L590.3,82.0 L590.4,81.4 L590.5,80.9 L590.8,80.4 L591.1,80.0 L591.6,79.7 L592.0,79.5 L592.5,79.4 L593.0,79.5 L593.4,79.7 L593.9,80.0 L594.2,80.4 L594.5,80.9 L594.6,81.4Z M593.6,82.0 L593.6,82.3 L593.5,82.6 L593.4,82.8 L593.2,83.0 L593.0,83.2 L592.8,83.3 L592.5,83.3 L592.2,83.3 L592.0,83.2 L591.8,83.0 L591.6,82.8 L591.5,82.6 L591.4,82.3 L591.4,82.0 L591.4,81.7 L591.5,81.4 L591.6,81.2 L591.8,81.0 L592.0,80.8 L592.2,80.7 L592.5,80.7 L592.8,80.7 L593.0,80.8 L593.2,81.0 L593.4,81.2 L593.5,81.4 L593.6,81.7Z" fill="none" stroke="#0000ff" stroke-width="1.2" stroke-linejoin="round"/><path d="M601.6,78.0 L601.5,78.9 L601.3,79.8 L600.9,80.6 L600.4,81.3 L599.7,81.8 L599.0,82.1 L598.3,82.2 L597.6,82.1 L596.9,81.8 L596.2,81.3 L595.7,80.6 L595.3,79.8 L595.1,78.9 L595.0,78.0 L595.1,77.1 L595.3,76.2 L595.7,75.4 L596.2,74.7 L596.9,74.2 L597.6,73.9 L598.3,73.8 L599.0,73.9 L599.7,74.2 L600.4,74.7 L600.9,75.4 L601.3,76.2 L601.5,77.1Z M600.6,78.0 L600.6,78.7 L600.4,79.3 L600.1,79.8 L599.7,80.3 L599.3,80.6 L598.8,80.9 L598.3,80.9 L597.8,80.9 L597.3,80.6 L596.9,80.3 L596.5,79.8 L596.2,79.3 L596.0,78.7 L596.0,78.0 L596.0,77.3 L596.2,76.7 L596.5,76.2 L596.9,75.7 L597.3,75.4 L597.8,75.1 L598.3,75.1 L598.8,75.1 L599.3,75.4 L599.7,75.7 L600.1,76.2 L600.4,76.7 L600.6,77.3Z" fill="none" stroke="#ff0000" stroke-width="1.2" stroke-linejoin="round"/><path d="M599.8,78.0 L599.7,78.8 L599.5,79.5 L599.2,80.2 L598.7,80.8 L598.2,81.2 L597.6,81.5 L597.0,81.6 L596.4,81.5 L595.8,81.2 L595.3,80.8 L594.8,80.2 L594.5,79.5 L594.3,78.8 L594.2,78.0 L594.3,77.2 L594.5,76.5 L594.8,75.8 L595.3,75.2 L595.8,74.8 L596.4,74.5 L597.0,74.4 L597.6,74.5 L598.2,74.8 L598.7,75.2 L599.2,75.8 L599.5,76.5 L599.7,77.2Z M598.9,78.0 L598.8,78.5 L598.7,79.0 L598.5,79.5 L598.2,79.9 L597.8,80.2 L597.4,80.3 L597.0,80.4 L596.6,80.3 L596.2,80.2 L595.8,79.9 L595.5,79.5 L595.3,79.0 L595.2,78.5 L595.1,78.0 L595.2,77.5 L595.3,77.0 L595.5,76.5 L595.8,76.1 L596.2,75.8 L596.6,75.7 L597.0,75.6 L597.4,75.7 L597.8,75.8 L598.2,76.1 L598.5,76.5 L598.7,77.0 L598.8,77.5Z M598.0,78.0 L598.0,78.3 L597.9,78.5 L597.8,78.8 L597.6,79.0 L597.4,79.1 L597.2,79.2 L597.0,79.2 L596.8,79.2 L596.6,79.1 L596.4,79.0 L596.2,78.8 L596.1,78.5 L596.0,78.3 L596.0,78.0 L596.0,77.7 L596.1,77.5 L596.2,77.2 L596.4,77.0 L596.6,76.9 L596.8,76.8 L597.0,76.8 L597.2,76.8 L597.4,76.9 L597.6,77.0 L597.8,77.2 L597.9,77.5 L598.0,77.7Z" fill="none" stroke="#0000ff" stroke-width="1.2" stroke-linejoin="round"/><path d="M609.2,97.5 L608.6,99.1 L607.7,100.4 L606.7,101.6 L605.6,102.5 L604.5,103.0 L603.4,103.2 L602.4,103.0 L601.6,102.5 L600.9,101.7 L600.4,100.6 L600.1,99.2 L600.1,97.7 L600.3,96.1 L600.8,94.5 L601.4,92.9 L602.3,91.6 L603.3,90.4 L604.4,89.5 L605.5,89.0 L606.6,88.8 L607.6,89.0 L608.4,89.5 L609.1,90.3 L609.6,91.4 L609.9,92.8 L609.9,94.3 L609.7,95.9Z M607.5,96.9 L607.1,97.8 L606.6,98.7 L606.0,99.4 L605.4,99.9 L604.7,100.2 L604.1,100.3 L603.5,100.2 L602.9,99.9 L602.5,99.4 L602.2,98.7 L602.1,97.9 L602.0,97.0 L602.2,96.0 L602.5,95.1 L602.9,94.2 L603.4,93.3 L604.0,92.6 L604.6,92.1 L605.3,91.8 L605.9,91.7 L606.5,91.8 L607.1,92.1 L607.5,92.6 L607.8,93.3 L607.9,94.1 L608.0,95.0 L607.8,96.0Z" fill="none" stroke="#ff0000" stroke-width="1.3" stroke-linejoin="round"/><path d="M605.7,107.7 L605.0,109.1 L604.2,110.4 L603.2,111.4 L602.1,112.2 L600.9,112.7 L599.7,112.8 L598.6,112.6 L597.6,112.0 L596.8,111.2 L596.2,110.1 L595.8,108.8 L595.7,107.3 L595.9,105.8 L596.3,104.3 L597.0,102.9 L597.8,101.6 L598.8,100.6 L599.9,99.8 L601.1,99.3 L602.3,99.2 L603.4,99.4 L604.4,100.0 L605.2,100.8 L605.8,101.9 L606.2,103.2 L606.3,104.7 L606.1,106.2Z M603.8,107.0 L603.4,107.9 L602.9,108.6 L602.3,109.3 L601.6,109.7 L600.9,110.0 L600.2,110.1 L599.6,109.9 L599.0,109.6 L598.5,109.1 L598.1,108.4 L597.9,107.7 L597.8,106.8 L597.9,105.9 L598.2,105.0 L598.6,104.1 L599.1,103.4 L599.7,102.7 L600.4,102.3 L601.1,102.0 L601.8,101.9 L602.4,102.1 L603.0,102.4 L603.5,102.9 L603.9,103.6 L604.1,104.3 L604.2,105.2 L604.1,106.1Z" fill="none" stroke="#ff0000" stroke-width="1.3" stroke-linejoin="round"/><path d="M606.1,95.3 L605.5,96.6 L604.8,97.8 L603.9,98.8 L603.0,99.6 L602.0,100.1 L601.1,100.2 L600.3,100.1 L599.5,99.7 L598.9,98.9 L598.5,98.0 L598.3,96.8 L598.3,95.5 L598.5,94.1 L598.9,92.7 L599.5,91.4 L600.2,90.2 L601.1,89.2 L602.0,88.4 L603.0,87.9 L603.9,87.8 L604.7,87.9 L605.5,88.3 L606.1,89.1 L606.5,90.0 L606.7,91.2 L606.7,92.5 L606.5,93.9Z M604.9,94.9 L604.5,95.8 L604.0,96.6 L603.4,97.3 L602.8,97.8 L602.2,98.1 L601.6,98.2 L601.0,98.1 L600.5,97.8 L600.1,97.3 L599.8,96.7 L599.7,95.9 L599.7,95.0 L599.8,94.1 L600.1,93.1 L600.5,92.2 L601.0,91.4 L601.6,90.7 L602.2,90.2 L602.8,89.9 L603.4,89.8 L604.0,89.9 L604.5,90.2 L604.9,90.7 L605.2,91.3 L605.3,92.1 L605.3,93.0 L605.2,93.9Z M603.7,94.5 L603.5,94.9 L603.3,95.3 L603.0,95.7 L602.7,96.0 L602.3,96.1 L602.0,96.2 L601.7,96.1 L601.5,96.0 L601.3,95.7 L601.1,95.4 L601.0,95.0 L601.0,94.5 L601.1,94.0 L601.3,93.5 L601.5,93.1 L601.7,92.7 L602.0,92.3 L602.3,92.0 L602.7,91.9 L603.0,91.8 L603.3,91.9 L603.5,92.0 L603.7,92.3 L603.9,92.6 L604.0,93.0 L604.0,93.5 L603.9,94.0Z" fill="none" stroke="#0000ff" stroke-width="1.3" stroke-linejoin="round"/><path d="M602.4,105.9 L601.9,107.2 L601.2,108.2 L600.3,109.1 L599.4,109.8 L598.4,110.2 L597.4,110.3 L596.4,110.1 L595.6,109.7 L594.9,109.0 L594.4,108.0 L594.1,106.9 L594.1,105.7 L594.2,104.4 L594.6,103.1 L595.1,101.8 L595.8,100.8 L596.7,99.9 L597.6,99.2 L598.6,98.8 L599.6,98.7 L600.6,98.9 L601.4,99.3 L602.1,100.0 L602.6,101.0 L602.9,102.1 L602.9,103.3 L602.8,104.6Z M601.2,105.5 L600.8,106.3 L600.3,107.0 L599.7,107.6 L599.1,108.1 L598.4,108.3 L597.7,108.4 L597.1,108.3 L596.6,108.0 L596.1,107.5 L595.8,106.9 L595.6,106.1 L595.5,105.3 L595.6,104.4 L595.8,103.5 L596.2,102.7 L596.7,102.0 L597.3,101.4 L597.9,100.9 L598.6,100.7 L599.3,100.6 L599.9,100.7 L600.4,101.0 L600.9,101.5 L601.2,102.1 L601.4,102.9 L601.5,103.7 L601.4,104.6Z M599.9,105.0 L599.7,105.4 L599.4,105.8 L599.1,106.1 L598.8,106.4 L598.5,106.5 L598.1,106.5 L597.8,106.5 L597.5,106.3 L597.3,106.1 L597.1,105.7 L597.0,105.3 L596.9,104.9 L597.0,104.4 L597.1,104.0 L597.3,103.6 L597.6,103.2 L597.9,102.9 L598.2,102.6 L598.5,102.5 L598.9,102.5 L599.2,102.5 L599.5,102.7 L599.7,102.9 L599.9,103.3 L600.0,103.7 L600.1,104.1 L600.0,104.6Z" fill="none" stroke="#0000ff" stroke-width="1.3" stroke-linejoin="round"/><path d="M563.5,105.0 L563.4,105.7 L563.2,106.4 L562.8,107.0 L562.3,107.5 L561.7,107.9 L561.0,108.1 L560.3,108.2 L559.6,108.1 L558.9,107.9 L558.3,107.5 L557.8,107.0 L557.4,106.4 L557.2,105.7 L557.1,105.0 L557.2,104.3 L557.4,103.6 L557.8,103.0 L558.3,102.5 L558.9,102.1 L559.6,101.9 L560.3,101.8 L561.0,101.9 L561.7,102.1 L562.3,102.5 L562.8,103.0 L563.2,103.6 L563.4,104.3Z M562.5,105.0 L562.5,105.5 L562.3,106.0 L562.1,106.4 L561.7,106.8 L561.3,107.0 L560.8,107.2 L560.3,107.2 L559.8,107.2 L559.3,107.0 L558.9,106.8 L558.5,106.4 L558.3,106.0 L558.1,105.5 L558.1,105.0 L558.1,104.5 L558.3,104.0 L558.5,103.6 L558.9,103.2 L559.3,103.0 L559.8,102.8 L560.3,102.8 L560.8,102.8 L561.3,103.0 L561.7,103.2 L562.1,103.6 L562.3,104.0 L562.5,104.5Z" fill="none" stroke="#0000ff" stroke-width="1.2" stroke-linejoin="round"/><path d="M561.7,105.0 L561.7,105.6 L561.5,106.2 L561.1,106.7 L560.7,107.1 L560.2,107.5 L559.6,107.7 L559.0,107.7 L558.4,107.7 L557.8,107.5 L557.3,107.1 L556.9,106.7 L556.5,106.2 L556.3,105.6 L556.3,105.0 L556.3,104.4 L556.5,103.8 L556.9,103.3 L557.3,102.9 L557.8,102.5 L558.4,102.3 L559.0,102.3 L559.6,102.3 L560.2,102.5 L560.7,102.9 L561.1,103.3 L561.5,103.8 L561.7,104.4Z M560.0,105.0 L559.9,105.2 L559.9,105.4 L559.7,105.6 L559.6,105.7 L559.4,105.9 L559.2,105.9 L559.0,106.0 L558.8,105.9 L558.6,105.9 L558.4,105.7 L558.3,105.6 L558.1,105.4 L558.1,105.2 L558.0,105.0 L558.1,104.8 L558.1,104.6 L558.3,104.4 L558.4,104.3 L558.6,104.1 L558.8,104.1 L559.0,104.0 L559.2,104.1 L559.4,104.1 L559.6,104.3 L559.7,104.4 L559.9,104.6 L559.9,104.8Z" fill="none" stroke="#0000ff" stroke-width="1.2" stroke-linejoin="round"/><path d="M568.0,105.0 L567.9,105.7 L567.7,106.4 L567.3,107.0 L566.8,107.5 L566.2,107.9 L565.5,108.1 L564.8,108.2 L564.1,108.1 L563.4,107.9 L562.8,107.5 L562.3,107.0 L561.9,106.4 L561.7,105.7 L561.6,105.0 L561.7,104.3 L561.9,103.6 L562.3,103.0 L562.8,102.5 L563.4,102.1 L564.1,101.9 L564.8,101.8 L565.5,101.9 L566.2,102.1 L566.8,102.5 L567.3,103.0 L567.7,103.6 L567.9,104.3Z M567.0,105.0 L567.0,105.5 L566.8,106.0 L566.6,106.4 L566.2,106.8 L565.8,107.0 L565.3,107.2 L564.8,107.2 L564.3,107.2 L563.8,107.0 L563.4,106.8 L563.0,106.4 L562.8,106.0 L562.6,105.5 L562.6,105.0 L562.6,104.5 L562.8,104.0 L563.0,103.6 L563.4,103.2 L563.8,103.0 L564.3,102.8 L564.8,102.8 L565.3,102.8 L565.8,103.0 L566.2,103.2 L566.6,103.6 L566.8,104.0 L567.0,104.5Z" fill="none" stroke="#ff0000" stroke-width="1.2" stroke-linejoin="round"/><path d="M566.2,105.0 L566.2,105.6 L566.0,106.2 L565.6,106.7 L565.2,107.1 L564.7,107.5 L564.1,107.7 L563.5,107.7 L562.9,107.7 L562.3,107.5 L561.8,107.1 L561.4,106.7 L561.0,106.2 L560.8,105.6 L560.8,105.0 L560.8,104.4 L561.0,103.8 L561.4,103.3 L561.8,102.9 L562.3,102.5 L562.9,102.3 L563.5,102.3 L564.1,102.3 L564.7,102.5 L565.2,102.9 L565.6,103.3 L566.0,103.8 L566.2,104.4Z M564.5,105.0 L564.4,105.2 L564.4,105.4 L564.2,105.6 L564.1,105.7 L563.9,105.9 L563.7,105.9 L563.5,106.0 L563.3,105.9 L563.1,105.9 L562.9,105.7 L562.8,105.6 L562.6,105.4 L562.6,105.2 L562.5,105.0 L562.6,104.8 L562.6,104.6 L562.8,104.4 L562.9,104.3 L563.1,104.1 L563.3,104.1 L563.5,104.0 L563.7,104.1 L563.9,104.1 L564.1,104.3 L564.2,104.4 L564.4,104.6 L564.4,104.8Z" fill="none" stroke="#0000ff" stroke-width="1.2" stroke-linejoin="round"/><path d="M572.5,105.0 L572.4,105.8 L572.2,106.5 L571.7,107.2 L571.2,107.7 L570.5,108.2 L569.8,108.4 L569.0,108.5 L568.2,108.4 L567.5,108.2 L566.8,107.7 L566.3,107.2 L565.8,106.5 L565.6,105.8 L565.5,105.0 L565.6,104.2 L565.8,103.5 L566.3,102.8 L566.8,102.3 L567.5,101.8 L568.2,101.6 L569.0,101.5 L569.8,101.6 L570.5,101.8 L571.2,102.3 L571.7,102.8 L572.2,103.5 L572.4,104.2Z M571.3,105.0 L571.2,105.5 L571.0,106.0 L570.8,106.4 L570.4,106.8 L570.0,107.0 L569.5,107.2 L569.0,107.3 L568.5,107.2 L568.0,107.0 L567.6,106.8 L567.2,106.4 L567.0,106.0 L566.8,105.5 L566.7,105.0 L566.8,104.5 L567.0,104.0 L567.2,103.6 L567.6,103.2 L568.0,103.0 L568.5,102.8 L569.0,102.7 L569.5,102.8 L570.0,103.0 L570.4,103.2 L570.8,103.6 L571.0,104.0 L571.2,104.5Z M570.0,105.0 L570.0,105.2 L569.9,105.5 L569.8,105.7 L569.7,105.8 L569.5,105.9 L569.2,106.0 L569.0,106.0 L568.8,106.0 L568.5,105.9 L568.3,105.8 L568.2,105.7 L568.1,105.5 L568.0,105.2 L568.0,105.0 L568.0,104.8 L568.1,104.5 L568.2,104.3 L568.3,104.2 L568.5,104.1 L568.8,104.0 L569.0,104.0 L569.2,104.0 L569.5,104.1 L569.7,104.2 L569.8,104.3 L569.9,104.5 L570.0,104.8Z" fill="none" stroke="#ff0000" stroke-width="1.3" stroke-linejoin="round"/><path d="M576.0,105.0 L575.9,105.7 L575.7,106.4 L575.3,107.1 L574.9,107.6 L574.3,108.0 L573.7,108.2 L573.0,108.3 L572.3,108.2 L571.7,108.0 L571.1,107.6 L570.7,107.1 L570.3,106.4 L570.1,105.7 L570.0,105.0 L570.1,104.3 L570.3,103.6 L570.7,102.9 L571.1,102.4 L571.7,102.0 L572.3,101.8 L573.0,101.7 L573.7,101.8 L574.3,102.0 L574.9,102.4 L575.3,102.9 L575.7,103.6 L575.9,104.3Z M575.0,105.0 L574.9,105.5 L574.8,105.9 L574.5,106.3 L574.2,106.7 L573.8,106.9 L573.4,107.1 L573.0,107.1 L572.6,107.1 L572.2,106.9 L571.8,106.7 L571.5,106.3 L571.2,105.9 L571.1,105.5 L571.0,105.0 L571.1,104.5 L571.2,104.1 L571.5,103.7 L571.8,103.3 L572.2,103.1 L572.6,102.9 L573.0,102.9 L573.4,102.9 L573.8,103.1 L574.2,103.3 L574.5,103.7 L574.8,104.1 L574.9,104.5Z M573.9,105.0 L573.9,105.2 L573.8,105.4 L573.7,105.6 L573.6,105.8 L573.4,105.9 L573.2,106.0 L573.0,106.0 L572.8,106.0 L572.6,105.9 L572.4,105.8 L572.3,105.6 L572.2,105.4 L572.1,105.2 L572.1,105.0 L572.1,104.8 L572.2,104.6 L572.3,104.4 L572.4,104.2 L572.6,104.1 L572.8,104.0 L573.0,104.0 L573.2,104.0 L573.4,104.1 L573.6,104.2 L573.7,104.4 L573.8,104.6 L573.9,104.8Z" fill="none" stroke="#ff0000" stroke-width="1.3" stroke-linejoin="round"/><path d="M553.7,120.3 L553.7,121.4 L553.4,122.5 L552.7,123.6 L551.8,124.6 L550.6,125.4 L549.2,126.0 L547.7,126.4 L546.1,126.6 L544.6,126.5 L543.2,126.1 L542.0,125.5 L541.0,124.7 L540.3,123.8 L539.9,122.7 L539.9,121.6 L540.2,120.5 L540.9,119.4 L541.8,118.4 L543.0,117.6 L544.4,117.0 L545.9,116.6 L547.5,116.4 L549.0,116.5 L550.4,116.9 L551.6,117.5 L552.6,118.3 L553.3,119.2Z M551.6,120.6 L551.6,121.4 L551.4,122.2 L551.0,123.0 L550.3,123.7 L549.4,124.2 L548.5,124.7 L547.4,124.9 L546.3,125.0 L545.3,125.0 L544.3,124.7 L543.4,124.3 L542.7,123.8 L542.2,123.1 L542.0,122.4 L542.0,121.6 L542.2,120.8 L542.6,120.0 L543.3,119.3 L544.2,118.8 L545.1,118.3 L546.2,118.1 L547.3,118.0 L548.3,118.0 L549.3,118.3 L550.2,118.7 L550.9,119.2 L551.4,119.9Z" fill="none" stroke="#ff0000" stroke-width="1.2" stroke-linejoin="round"/><path d="M551.4,120.5 L551.4,121.4 L551.1,122.4 L550.5,123.3 L549.7,124.1 L548.7,124.8 L547.5,125.4 L546.2,125.7 L544.9,125.8 L543.6,125.7 L542.4,125.4 L541.4,124.9 L540.5,124.2 L540.0,123.4 L539.6,122.5 L539.6,121.6 L539.9,120.6 L540.5,119.7 L541.3,118.9 L542.3,118.2 L543.5,117.6 L544.8,117.3 L546.1,117.2 L547.4,117.3 L548.6,117.6 L549.6,118.1 L550.5,118.8 L551.0,119.6Z M550.1,120.7 L550.1,121.4 L549.9,122.2 L549.4,122.9 L548.8,123.6 L548.0,124.1 L547.1,124.5 L546.1,124.8 L545.0,124.9 L544.0,124.8 L543.1,124.6 L542.3,124.2 L541.6,123.7 L541.2,123.0 L540.9,122.3 L540.9,121.6 L541.1,120.8 L541.6,120.1 L542.2,119.4 L543.0,118.9 L543.9,118.5 L544.9,118.2 L546.0,118.1 L547.0,118.2 L547.9,118.4 L548.7,118.8 L549.4,119.3 L549.8,120.0Z M548.8,120.9 L548.8,121.5 L548.7,122.0 L548.4,122.5 L547.9,123.0 L547.3,123.4 L546.6,123.7 L545.9,123.9 L545.2,123.9 L544.4,123.9 L543.8,123.7 L543.2,123.4 L542.7,123.1 L542.4,122.6 L542.2,122.1 L542.2,121.5 L542.3,121.0 L542.6,120.5 L543.1,120.0 L543.7,119.6 L544.4,119.3 L545.1,119.1 L545.8,119.1 L546.6,119.1 L547.2,119.3 L547.8,119.6 L548.3,119.9 L548.6,120.4Z M547.6,121.1 L547.6,121.5 L547.5,121.8 L547.3,122.1 L547.0,122.4 L546.6,122.7 L546.2,122.8 L545.8,123.0 L545.3,123.0 L544.8,123.0 L544.4,122.9 L544.1,122.7 L543.8,122.5 L543.6,122.2 L543.4,121.9 L543.4,121.5 L543.5,121.2 L543.7,120.9 L544.0,120.6 L544.4,120.3 L544.8,120.2 L545.2,120.0 L545.7,120.0 L546.2,120.0 L546.6,120.1 L546.9,120.3 L547.2,120.5 L547.4,120.8Z" fill="none" stroke="#0000ff" stroke-width="1.2" stroke-linejoin="round"/><path d="M560.0,120.0 L559.9,120.8 L559.7,121.5 L559.3,122.2 L558.9,122.7 L558.3,123.2 L557.7,123.4 L557.0,123.5 L556.3,123.4 L555.7,123.2 L555.1,122.7 L554.7,122.2 L554.3,121.5 L554.1,120.8 L554.0,120.0 L554.1,119.2 L554.3,118.5 L554.7,117.8 L555.1,117.3 L555.7,116.8 L556.3,116.6 L557.0,116.5 L557.7,116.6 L558.3,116.8 L558.9,117.3 L559.3,117.8 L559.7,118.5 L559.9,119.2Z M558.5,120.0 L558.5,120.4 L558.4,120.8 L558.2,121.1 L557.9,121.4 L557.7,121.6 L557.3,121.7 L557.0,121.8 L556.7,121.7 L556.3,121.6 L556.1,121.4 L555.8,121.1 L555.6,120.8 L555.5,120.4 L555.5,120.0 L555.5,119.6 L555.6,119.2 L555.8,118.9 L556.1,118.6 L556.3,118.4 L556.7,118.3 L557.0,118.2 L557.3,118.3 L557.7,118.4 L557.9,118.6 L558.2,118.9 L558.4,119.2 L558.5,119.6Z" fill="none" stroke="#ff0000" stroke-width="1.0" stroke-linejoin="round"/><path d="M560.1,119.2 L560.1,119.5 L560.0,119.9 L559.8,120.1 L559.5,120.4 L559.3,120.6 L558.9,120.7 L558.6,120.7 L558.3,120.7 L557.9,120.6 L557.7,120.4 L557.4,120.1 L557.2,119.9 L557.1,119.5 L557.1,119.2 L557.1,118.9 L557.2,118.5 L557.4,118.3 L557.7,118.0 L557.9,117.8 L558.3,117.7 L558.6,117.7 L558.9,117.7 L559.3,117.8 L559.5,118.0 L559.8,118.3 L560.0,118.5 L560.1,118.9Z" fill="none" stroke="#ff0000" stroke-width="0.9" stroke-linejoin="round"/><path d="M565.4,117.7 L565.4,118.1 L565.2,118.5 L565.1,118.8 L564.8,119.1 L564.5,119.3 L564.2,119.5 L563.8,119.5 L563.4,119.5 L563.1,119.3 L562.8,119.1 L562.5,118.8 L562.4,118.5 L562.2,118.1 L562.2,117.7 L562.2,117.3 L562.4,116.9 L562.5,116.6 L562.8,116.3 L563.1,116.1 L563.4,115.9 L563.8,115.9 L564.2,115.9 L564.5,116.1 L564.8,116.3 L565.1,116.6 L565.2,116.9 L565.4,117.3Z" fill="none" stroke="#0000ff" stroke-width="0.9" stroke-linejoin="round"/><path d="M546.0,135.0 L545.9,135.7 L545.8,136.4 L545.6,137.0 L545.2,137.5 L544.9,137.9 L544.4,138.1 L544.0,138.2 L543.6,138.1 L543.1,137.9 L542.8,137.5 L542.4,137.0 L542.2,136.4 L542.1,135.7 L542.0,135.0 L542.1,134.3 L542.2,133.6 L542.4,133.0 L542.8,132.5 L543.1,132.1 L543.6,131.9 L544.0,131.8 L544.4,131.9 L544.9,132.1 L545.2,132.5 L545.6,133.0 L545.8,133.6 L545.9,134.3Z M544.8,135.0 L544.8,135.3 L544.7,135.6 L544.6,135.8 L544.5,136.0 L544.3,136.2 L544.2,136.2 L544.0,136.3 L543.8,136.2 L543.7,136.2 L543.5,136.0 L543.4,135.8 L543.3,135.6 L543.2,135.3 L543.2,135.0 L543.2,134.7 L543.3,134.4 L543.4,134.2 L543.5,134.0 L543.7,133.8 L543.8,133.8 L544.0,133.7 L544.2,133.8 L544.3,133.8 L544.5,134.0 L544.6,134.2 L544.7,134.4 L544.8,134.7Z" fill="none" stroke="#0000ff" stroke-width="1.3" stroke-linejoin="round"/><path d="M561.6,135.0 L561.5,135.9 L561.2,136.7 L560.7,137.5 L560.1,138.1 L559.3,138.6 L558.5,138.9 L557.6,139.0 L556.7,138.9 L555.9,138.6 L555.1,138.1 L554.5,137.5 L554.0,136.7 L553.7,135.9 L553.6,135.0 L553.7,134.1 L554.0,133.3 L554.5,132.5 L555.1,131.9 L555.9,131.4 L556.7,131.1 L557.6,131.0 L558.5,131.1 L559.3,131.4 L560.1,131.9 L560.7,132.5 L561.2,133.3 L561.5,134.1Z M560.2,135.0 L560.1,135.6 L559.9,136.1 L559.6,136.6 L559.2,137.0 L558.7,137.3 L558.2,137.5 L557.6,137.6 L557.0,137.5 L556.5,137.3 L556.0,137.0 L555.6,136.6 L555.3,136.1 L555.1,135.6 L555.0,135.0 L555.1,134.4 L555.3,133.9 L555.6,133.4 L556.0,133.0 L556.5,132.7 L557.0,132.5 L557.6,132.4 L558.2,132.5 L558.7,132.7 L559.2,133.0 L559.6,133.4 L559.9,133.9 L560.1,134.4Z M558.8,135.0 L558.8,135.3 L558.7,135.5 L558.5,135.7 L558.3,135.9 L558.1,136.1 L557.9,136.2 L557.6,136.2 L557.3,136.2 L557.1,136.1 L556.9,135.9 L556.7,135.7 L556.5,135.5 L556.4,135.3 L556.4,135.0 L556.4,134.7 L556.5,134.5 L556.7,134.3 L556.9,134.1 L557.1,133.9 L557.3,133.8 L557.6,133.8 L557.9,133.8 L558.1,133.9 L558.3,134.1 L558.5,134.3 L558.7,134.5 L558.8,134.7Z" fill="none" stroke="#ff0000" stroke-width="1.3" stroke-linejoin="round"/><path d="M548.5,135.0 L548.5,135.2 L548.4,135.4 L548.3,135.6 L548.1,135.8 L547.9,135.9 L547.7,136.0 L547.5,136.0 L547.3,136.0 L547.1,135.9 L546.9,135.8 L546.7,135.6 L546.6,135.4 L546.5,135.2 L546.5,135.0 L546.5,134.8 L546.6,134.6 L546.7,134.4 L546.9,134.2 L547.1,134.1 L547.3,134.0 L547.5,134.0 L547.7,134.0 L547.9,134.1 L548.1,134.2 L548.3,134.4 L548.4,134.6 L548.5,134.8Z" fill="none" stroke="#ff0000" stroke-width="1" stroke-linejoin="round"/><path d="M526.5,140.0 L526.4,141.0 L526.1,142.0 L525.5,142.8 L524.8,143.5 L524.0,144.1 L523.0,144.4 L522.0,144.5 L521.0,144.4 L520.0,144.1 L519.2,143.5 L518.5,142.8 L517.9,142.0 L517.6,141.0 L517.5,140.0 L517.6,139.0 L517.9,138.0 L518.5,137.2 L519.2,136.5 L520.0,135.9 L521.0,135.6 L522.0,135.5 L523.0,135.6 L524.0,135.9 L524.8,136.5 L525.5,137.2 L526.1,138.0 L526.4,139.0Z M525.1,140.0 L525.1,140.7 L524.8,141.4 L524.5,142.0 L524.0,142.5 L523.4,142.8 L522.7,143.1 L522.0,143.2 L521.3,143.1 L520.6,142.8 L520.0,142.5 L519.5,142.0 L519.2,141.4 L518.9,140.7 L518.9,140.0 L518.9,139.3 L519.2,138.6 L519.5,138.0 L520.0,137.5 L520.6,137.2 L521.3,136.9 L522.0,136.8 L522.7,136.9 L523.4,137.2 L524.0,137.5 L524.5,138.0 L524.8,138.6 L525.1,139.3Z" fill="none" stroke="#ff0000" stroke-width="1.2" stroke-linejoin="round"/><path d="M524.5,140.0 L524.4,140.9 L524.1,141.7 L523.7,142.4 L523.1,143.0 L522.4,143.4 L521.6,143.7 L520.7,143.8 L519.8,143.7 L519.0,143.4 L518.3,143.0 L517.7,142.4 L517.3,141.7 L517.0,140.9 L516.9,140.0 L517.0,139.1 L517.3,138.3 L517.7,137.6 L518.3,137.0 L519.0,136.6 L519.8,136.3 L520.7,136.2 L521.6,136.3 L522.4,136.6 L523.1,137.0 L523.7,137.6 L524.1,138.3 L524.4,139.1Z M523.3,140.0 L523.2,140.6 L523.0,141.1 L522.7,141.6 L522.3,142.0 L521.8,142.3 L521.3,142.5 L520.7,142.6 L520.1,142.5 L519.6,142.3 L519.1,142.0 L518.7,141.6 L518.4,141.1 L518.2,140.6 L518.1,140.0 L518.2,139.4 L518.4,138.9 L518.7,138.4 L519.1,138.0 L519.6,137.7 L520.1,137.5 L520.7,137.4 L521.3,137.5 L521.8,137.7 L522.3,138.0 L522.7,138.4 L523.0,138.9 L523.2,139.4Z M522.0,140.0 L522.0,140.3 L521.9,140.6 L521.7,140.8 L521.5,141.0 L521.3,141.2 L521.0,141.3 L520.7,141.3 L520.4,141.3 L520.1,141.2 L519.9,141.0 L519.7,140.8 L519.5,140.6 L519.4,140.3 L519.4,140.0 L519.4,139.7 L519.5,139.4 L519.7,139.2 L519.9,139.0 L520.1,138.8 L520.4,138.7 L520.7,138.7 L521.0,138.7 L521.3,138.8 L521.5,139.0 L521.7,139.2 L521.9,139.4 L522.0,139.7Z" fill="none" stroke="#0000ff" stroke-width="1.2" stroke-linejoin="round"/><path d="M538.3,148.5 L537.7,149.3 L536.9,149.9 L536.0,150.4 L534.9,150.6 L533.9,150.6 L532.8,150.4 L531.8,149.9 L530.8,149.2 L530.1,148.4 L529.5,147.5 L529.2,146.5 L529.1,145.4 L529.3,144.4 L529.7,143.5 L530.3,142.7 L531.1,142.1 L532.0,141.6 L533.1,141.4 L534.1,141.4 L535.2,141.6 L536.2,142.1 L537.2,142.8 L537.9,143.6 L538.5,144.5 L538.8,145.5 L538.9,146.6 L538.7,147.6Z M537.0,147.8 L536.6,148.3 L536.0,148.8 L535.4,149.1 L534.7,149.2 L533.9,149.2 L533.1,149.0 L532.4,148.7 L531.8,148.3 L531.3,147.7 L530.9,147.0 L530.6,146.3 L530.6,145.6 L530.7,144.9 L531.0,144.2 L531.4,143.7 L532.0,143.2 L532.6,142.9 L533.3,142.8 L534.1,142.8 L534.9,143.0 L535.6,143.3 L536.2,143.7 L536.7,144.3 L537.1,145.0 L537.4,145.7 L537.4,146.4 L537.3,147.1Z" fill="none" stroke="#ff0000" stroke-width="1.2" stroke-linejoin="round"/><path d="M536.4,148.1 L535.9,148.8 L535.2,149.4 L534.4,149.7 L533.5,149.9 L532.6,149.9 L531.7,149.7 L530.8,149.3 L530.0,148.8 L529.4,148.1 L528.9,147.3 L528.6,146.4 L528.6,145.5 L528.7,144.7 L529.0,143.9 L529.5,143.2 L530.2,142.6 L531.0,142.3 L531.9,142.1 L532.8,142.1 L533.7,142.3 L534.6,142.7 L535.4,143.2 L536.0,143.9 L536.5,144.7 L536.8,145.6 L536.8,146.5 L536.7,147.3Z M535.2,147.4 L534.8,147.9 L534.4,148.3 L533.8,148.5 L533.2,148.6 L532.6,148.6 L532.0,148.5 L531.4,148.2 L530.9,147.9 L530.5,147.4 L530.1,146.9 L530.0,146.3 L529.9,145.7 L530.0,145.1 L530.2,144.6 L530.6,144.1 L531.0,143.7 L531.6,143.5 L532.2,143.4 L532.8,143.4 L533.4,143.5 L534.0,143.8 L534.5,144.1 L534.9,144.6 L535.3,145.1 L535.4,145.7 L535.5,146.3 L535.4,146.9Z M534.0,146.7 L533.8,147.0 L533.6,147.2 L533.3,147.3 L533.0,147.4 L532.7,147.4 L532.3,147.3 L532.0,147.2 L531.8,147.0 L531.5,146.7 L531.4,146.4 L531.3,146.1 L531.2,145.8 L531.3,145.5 L531.4,145.3 L531.6,145.0 L531.8,144.8 L532.1,144.7 L532.4,144.6 L532.7,144.6 L533.1,144.7 L533.4,144.8 L533.6,145.0 L533.9,145.3 L534.0,145.6 L534.1,145.9 L534.2,146.2 L534.1,146.5Z" fill="none" stroke="#0000ff" stroke-width="1.2" stroke-linejoin="round"/><path d="M533.3,146.0 L532.8,146.6 L532.2,147.1 L531.4,147.5 L530.6,147.6 L529.7,147.6 L528.9,147.4 L528.0,147.0 L527.3,146.5 L526.7,145.9 L526.3,145.1 L526.0,144.3 L525.9,143.5 L526.0,142.7 L526.3,142.0 L526.8,141.4 L527.4,140.9 L528.2,140.5 L529.0,140.4 L529.9,140.4 L530.7,140.6 L531.5,141.0 L532.3,141.5 L532.9,142.1 L533.3,142.9 L533.6,143.7 L533.7,144.5 L533.6,145.3Z M532.2,145.4 L531.9,145.8 L531.5,146.2 L530.9,146.4 L530.4,146.5 L529.7,146.5 L529.1,146.4 L528.6,146.1 L528.1,145.8 L527.6,145.3 L527.3,144.8 L527.1,144.2 L527.1,143.7 L527.2,143.1 L527.4,142.6 L527.7,142.2 L528.1,141.8 L528.7,141.6 L529.2,141.5 L529.9,141.5 L530.5,141.6 L531.0,141.9 L531.5,142.2 L532.0,142.7 L532.3,143.2 L532.5,143.8 L532.5,144.3 L532.4,144.9Z" fill="none" stroke="#ff0000" stroke-width="1.2" stroke-linejoin="round"/><path d="M531.4,145.7 L531.0,146.2 L530.5,146.6 L529.9,146.9 L529.2,147.1 L528.4,147.1 L527.7,146.9 L527.0,146.6 L526.4,146.1 L525.9,145.6 L525.5,145.0 L525.3,144.3 L525.2,143.6 L525.3,142.9 L525.6,142.3 L526.0,141.8 L526.5,141.4 L527.1,141.1 L527.8,140.9 L528.6,140.9 L529.3,141.1 L530.0,141.4 L530.6,141.9 L531.1,142.4 L531.5,143.0 L531.7,143.7 L531.8,144.4 L531.7,145.1Z M529.5,144.6 L529.4,144.8 L529.2,144.9 L529.0,145.0 L528.7,145.1 L528.5,145.1 L528.2,145.0 L528.0,144.9 L527.8,144.7 L527.6,144.6 L527.5,144.3 L527.4,144.1 L527.3,143.9 L527.4,143.6 L527.5,143.4 L527.6,143.2 L527.8,143.1 L528.0,143.0 L528.3,142.9 L528.5,142.9 L528.8,143.0 L529.0,143.1 L529.2,143.3 L529.4,143.4 L529.5,143.7 L529.6,143.9 L529.7,144.1 L529.6,144.4Z" fill="none" stroke="#0000ff" stroke-width="1.2" stroke-linejoin="round"/><path d="M539.0,161.0 L538.9,161.9 L538.6,162.7 L538.1,163.5 L537.5,164.1 L536.7,164.6 L535.9,164.9 L535.0,165.0 L534.1,164.9 L533.3,164.6 L532.5,164.1 L531.9,163.5 L531.4,162.7 L531.1,161.9 L531.0,161.0 L531.1,160.1 L531.4,159.3 L531.9,158.5 L532.5,157.9 L533.3,157.4 L534.1,157.1 L535.0,157.0 L535.9,157.1 L536.7,157.4 L537.5,157.9 L538.1,158.5 L538.6,159.3 L538.9,160.1Z M537.8,161.0 L537.7,161.6 L537.5,162.2 L537.2,162.7 L536.7,163.2 L536.2,163.5 L535.6,163.7 L535.0,163.8 L534.4,163.7 L533.8,163.5 L533.3,163.2 L532.8,162.7 L532.5,162.2 L532.3,161.6 L532.2,161.0 L532.3,160.4 L532.5,159.8 L532.8,159.3 L533.3,158.8 L533.8,158.5 L534.4,158.3 L535.0,158.2 L535.6,158.3 L536.2,158.5 L536.7,158.8 L537.2,159.3 L537.5,159.8 L537.7,160.4Z" fill="none" stroke="#ff0000" stroke-width="1.2" stroke-linejoin="round"/><path d="M537.1,161.0 L537.0,161.8 L536.8,162.5 L536.4,163.1 L535.8,163.7 L535.2,164.1 L534.5,164.3 L533.7,164.4 L532.9,164.3 L532.2,164.1 L531.6,163.7 L531.0,163.1 L530.6,162.5 L530.4,161.8 L530.3,161.0 L530.4,160.2 L530.6,159.5 L531.0,158.9 L531.6,158.3 L532.2,157.9 L532.9,157.7 L533.7,157.6 L534.5,157.7 L535.2,157.9 L535.8,158.3 L536.4,158.9 L536.8,159.5 L537.0,160.2Z M536.0,161.0 L535.9,161.5 L535.8,162.0 L535.5,162.4 L535.1,162.8 L534.7,163.1 L534.2,163.2 L533.7,163.3 L533.2,163.2 L532.7,163.1 L532.3,162.8 L531.9,162.4 L531.6,162.0 L531.5,161.5 L531.4,161.0 L531.5,160.5 L531.6,160.0 L531.9,159.6 L532.3,159.2 L532.7,158.9 L533.2,158.8 L533.7,158.7 L534.2,158.8 L534.7,158.9 L535.1,159.2 L535.5,159.6 L535.8,160.0 L535.9,160.5Z M534.9,161.0 L534.9,161.3 L534.8,161.5 L534.6,161.7 L534.4,161.9 L534.2,162.1 L534.0,162.2 L533.7,162.2 L533.4,162.2 L533.2,162.1 L533.0,161.9 L532.8,161.7 L532.6,161.5 L532.5,161.3 L532.5,161.0 L532.5,160.7 L532.6,160.5 L532.8,160.3 L533.0,160.1 L533.2,159.9 L533.4,159.8 L533.7,159.8 L534.0,159.8 L534.2,159.9 L534.4,160.1 L534.6,160.3 L534.8,160.5 L534.9,160.7Z" fill="none" stroke="#0000ff" stroke-width="1.2" stroke-linejoin="round"/><path d="M542.8,161.5 L542.7,162.4 L542.4,163.3 L542.0,164.1 L541.4,164.8 L540.6,165.3 L539.8,165.6 L539.0,165.7 L538.2,165.6 L537.4,165.3 L536.6,164.8 L536.0,164.1 L535.6,163.3 L535.3,162.4 L535.2,161.5 L535.3,160.6 L535.6,159.7 L536.0,158.9 L536.6,158.2 L537.4,157.7 L538.2,157.4 L539.0,157.3 L539.8,157.4 L540.6,157.7 L541.4,158.2 L542.0,158.9 L542.4,159.7 L542.7,160.6Z M541.5,161.5 L541.4,162.1 L541.2,162.7 L540.9,163.2 L540.5,163.6 L540.1,164.0 L539.5,164.2 L539.0,164.2 L538.5,164.2 L537.9,164.0 L537.5,163.6 L537.1,163.2 L536.8,162.7 L536.6,162.1 L536.5,161.5 L536.6,160.9 L536.8,160.3 L537.1,159.8 L537.5,159.4 L537.9,159.0 L538.5,158.8 L539.0,158.8 L539.5,158.8 L540.1,159.0 L540.5,159.4 L540.9,159.8 L541.2,160.3 L541.4,160.9Z M540.1,161.5 L540.1,161.8 L540.0,162.0 L539.9,162.3 L539.7,162.5 L539.5,162.6 L539.3,162.7 L539.0,162.8 L538.7,162.7 L538.5,162.6 L538.3,162.5 L538.1,162.3 L538.0,162.0 L537.9,161.8 L537.9,161.5 L537.9,161.2 L538.0,161.0 L538.1,160.7 L538.3,160.5 L538.5,160.4 L538.7,160.3 L539.0,160.2 L539.3,160.3 L539.5,160.4 L539.7,160.5 L539.9,160.7 L540.0,161.0 L540.1,161.2Z" fill="none" stroke="#ff0000" stroke-width="1.2" stroke-linejoin="round"/><path d="M515.6,157.7 L515.6,158.3 L515.5,158.8 L515.3,159.3 L515.0,159.7 L514.8,160.0 L514.4,160.1 L514.1,160.2 L513.8,160.1 L513.4,160.0 L513.2,159.7 L512.9,159.3 L512.7,158.8 L512.6,158.3 L512.6,157.7 L512.6,157.1 L512.7,156.6 L512.9,156.1 L513.2,155.7 L513.4,155.4 L513.8,155.3 L514.1,155.2 L514.4,155.3 L514.8,155.4 L515.0,155.7 L515.3,156.1 L515.5,156.6 L515.6,157.1Z" fill="none" stroke="#0000ff" stroke-width="1.3" stroke-linejoin="round"/><path d="M440.4,146.5 L440.4,147.3 L440.2,148.0 L440.0,148.7 L439.7,149.2 L439.4,149.7 L439.0,149.9 L438.6,150.0 L438.2,149.9 L437.8,149.7 L437.5,149.2 L437.2,148.7 L437.0,148.0 L436.8,147.3 L436.8,146.5 L436.8,145.7 L437.0,145.0 L437.2,144.3 L437.5,143.8 L437.8,143.3 L438.2,143.1 L438.6,143.0 L439.0,143.1 L439.4,143.3 L439.7,143.8 L440.0,144.3 L440.2,145.0 L440.4,145.7Z M439.3,146.5 L439.3,146.8 L439.2,147.1 L439.2,147.4 L439.0,147.6 L438.9,147.8 L438.8,147.9 L438.6,147.9 L438.4,147.9 L438.3,147.8 L438.2,147.6 L438.0,147.4 L438.0,147.1 L437.9,146.8 L437.9,146.5 L437.9,146.2 L438.0,145.9 L438.0,145.6 L438.2,145.4 L438.3,145.2 L438.4,145.1 L438.6,145.1 L438.8,145.1 L438.9,145.2 L439.0,145.4 L439.2,145.6 L439.2,145.9 L439.3,146.2Z" fill="none" stroke="#0000ff" stroke-width="1.3" stroke-linejoin="round"/><path d="M508.4,185.8 L508.3,186.8 L508.0,187.8 L507.4,188.6 L506.7,189.3 L505.9,189.9 L504.9,190.2 L503.9,190.3 L502.9,190.2 L501.9,189.9 L501.1,189.3 L500.4,188.6 L499.8,187.8 L499.5,186.8 L499.4,185.8 L499.5,184.8 L499.8,183.8 L500.4,183.0 L501.1,182.3 L501.9,181.7 L502.9,181.4 L503.9,181.3 L504.9,181.4 L505.9,181.7 L506.7,182.3 L507.4,183.0 L508.0,183.8 L508.3,184.8Z M507.1,185.8 L507.0,186.5 L506.7,187.2 L506.4,187.8 L505.9,188.3 L505.3,188.6 L504.6,188.9 L503.9,189.0 L503.2,188.9 L502.5,188.6 L501.9,188.3 L501.4,187.8 L501.1,187.2 L500.8,186.5 L500.8,185.8 L500.8,185.1 L501.1,184.4 L501.4,183.8 L501.9,183.3 L502.5,183.0 L503.2,182.7 L503.9,182.7 L504.6,182.7 L505.3,183.0 L505.9,183.3 L506.4,183.8 L506.7,184.4 L507.0,185.1Z" fill="none" stroke="#ff0000" stroke-width="1.2" stroke-linejoin="round"/><path d="M506.4,185.8 L506.3,186.7 L506.0,187.5 L505.6,188.2 L505.0,188.8 L504.3,189.2 L503.5,189.5 L502.6,189.6 L501.7,189.5 L500.9,189.2 L500.2,188.8 L499.6,188.2 L499.2,187.5 L498.9,186.7 L498.8,185.8 L498.9,184.9 L499.2,184.1 L499.6,183.4 L500.2,182.8 L500.9,182.4 L501.7,182.1 L502.6,182.0 L503.5,182.1 L504.3,182.4 L505.0,182.8 L505.6,183.4 L506.0,184.1 L506.3,184.9Z M505.2,185.8 L505.1,186.4 L504.9,186.9 L504.6,187.4 L504.2,187.8 L503.7,188.1 L503.2,188.3 L502.6,188.4 L502.0,188.3 L501.5,188.1 L501.0,187.8 L500.6,187.4 L500.3,186.9 L500.1,186.4 L500.0,185.8 L500.1,185.2 L500.3,184.7 L500.6,184.2 L501.0,183.8 L501.5,183.5 L502.0,183.3 L502.6,183.2 L503.2,183.3 L503.7,183.5 L504.2,183.8 L504.6,184.2 L504.9,184.7 L505.1,185.2Z M503.9,185.8 L503.9,186.1 L503.8,186.4 L503.6,186.6 L503.4,186.8 L503.2,187.0 L502.9,187.1 L502.6,187.1 L502.3,187.1 L502.0,187.0 L501.8,186.8 L501.6,186.6 L501.4,186.4 L501.3,186.1 L501.3,185.8 L501.3,185.5 L501.4,185.2 L501.6,185.0 L501.8,184.8 L502.0,184.6 L502.3,184.5 L502.6,184.5 L502.9,184.5 L503.2,184.6 L503.4,184.8 L503.6,185.0 L503.8,185.2 L503.9,185.5Z" fill="none" stroke="#0000ff" stroke-width="1.2" stroke-linejoin="round"/><path d="M449.7,202.5 L449.6,203.3 L449.5,204.1 L449.2,204.9 L448.8,205.5 L448.4,205.9 L447.9,206.2 L447.4,206.3 L446.9,206.2 L446.4,205.9 L446.0,205.5 L445.6,204.9 L445.3,204.1 L445.2,203.3 L445.1,202.5 L445.2,201.7 L445.3,200.9 L445.6,200.1 L446.0,199.5 L446.4,199.1 L446.9,198.8 L447.4,198.7 L447.9,198.8 L448.4,199.1 L448.8,199.5 L449.2,200.1 L449.5,200.9 L449.6,201.7Z M449.0,202.5 L449.0,203.1 L448.9,203.7 L448.7,204.2 L448.4,204.6 L448.1,204.9 L447.8,205.1 L447.4,205.2 L447.0,205.1 L446.7,204.9 L446.4,204.6 L446.1,204.2 L445.9,203.7 L445.8,203.1 L445.8,202.5 L445.8,201.9 L445.9,201.3 L446.1,200.8 L446.4,200.4 L446.7,200.1 L447.0,199.9 L447.4,199.8 L447.8,199.9 L448.1,200.1 L448.4,200.4 L448.7,200.8 L448.9,201.3 L449.0,201.9Z" fill="none" stroke="#ff0000" stroke-width="1.2" stroke-linejoin="round"/><path d="M448.1,202.5 L448.0,203.2 L447.9,203.9 L447.6,204.5 L447.3,205.0 L446.9,205.4 L446.5,205.6 L446.1,205.7 L445.7,205.6 L445.3,205.4 L444.9,205.0 L444.6,204.5 L444.3,203.9 L444.2,203.2 L444.1,202.5 L444.2,201.8 L444.3,201.1 L444.6,200.5 L444.9,200.0 L445.3,199.6 L445.7,199.4 L446.1,199.3 L446.5,199.4 L446.9,199.6 L447.3,200.0 L447.6,200.5 L447.9,201.1 L448.0,201.8Z M446.8,202.5 L446.8,202.8 L446.7,203.0 L446.6,203.2 L446.5,203.4 L446.4,203.5 L446.3,203.6 L446.1,203.6 L445.9,203.6 L445.8,203.5 L445.7,203.4 L445.6,203.2 L445.5,203.0 L445.4,202.8 L445.4,202.5 L445.4,202.2 L445.5,202.0 L445.6,201.8 L445.7,201.6 L445.8,201.5 L445.9,201.4 L446.1,201.4 L446.3,201.4 L446.4,201.5 L446.5,201.6 L446.6,201.8 L446.7,202.0 L446.8,202.2Z" fill="none" stroke="#0000ff" stroke-width="1.2" stroke-linejoin="round"/><path d="M466.8,206.0 L466.8,206.2 L466.7,206.3 L466.6,206.5 L466.5,206.6 L466.3,206.7 L466.2,206.8 L466.0,206.8 L465.8,206.8 L465.7,206.7 L465.5,206.6 L465.4,206.5 L465.3,206.3 L465.2,206.2 L465.2,206.0 L465.2,205.8 L465.3,205.7 L465.4,205.5 L465.5,205.4 L465.7,205.3 L465.8,205.2 L466.0,205.2 L466.2,205.2 L466.3,205.3 L466.5,205.4 L466.6,205.5 L466.7,205.7 L466.8,205.8Z" fill="none" stroke="#ff0000" stroke-width="1.2" stroke-linejoin="round"/><path d="M474.8,206.0 L474.8,206.2 L474.7,206.3 L474.6,206.5 L474.5,206.6 L474.3,206.7 L474.2,206.8 L474.0,206.8 L473.8,206.8 L473.7,206.7 L473.5,206.6 L473.4,206.5 L473.3,206.3 L473.2,206.2 L473.2,206.0 L473.2,205.8 L473.3,205.7 L473.4,205.5 L473.5,205.4 L473.7,205.3 L473.8,205.2 L474.0,205.2 L474.2,205.2 L474.3,205.3 L474.5,205.4 L474.6,205.5 L474.7,205.7 L474.8,205.8Z" fill="none" stroke="#ff0000" stroke-width="1.2" stroke-linejoin="round"/><path d="M453.8,226.7 L453.7,227.5 L453.6,228.3 L453.3,228.9 L453.0,229.5 L452.6,229.9 L452.1,230.2 L451.6,230.3 L451.1,230.2 L450.6,229.9 L450.2,229.5 L449.9,228.9 L449.6,228.3 L449.5,227.5 L449.4,226.7 L449.5,225.9 L449.6,225.1 L449.9,224.5 L450.2,223.9 L450.6,223.5 L451.1,223.2 L451.6,223.1 L452.1,223.2 L452.6,223.5 L453.0,223.9 L453.3,224.5 L453.6,225.1 L453.7,225.9Z M452.5,226.7 L452.5,227.0 L452.4,227.3 L452.3,227.6 L452.1,227.8 L452.0,228.0 L451.8,228.1 L451.6,228.1 L451.4,228.1 L451.2,228.0 L451.1,227.8 L450.9,227.6 L450.8,227.3 L450.7,227.0 L450.7,226.7 L450.7,226.4 L450.8,226.1 L450.9,225.8 L451.1,225.6 L451.2,225.4 L451.4,225.3 L451.6,225.3 L451.8,225.3 L452.0,225.4 L452.1,225.6 L452.3,225.8 L452.4,226.1 L452.5,226.4Z" fill="none" stroke="#0000ff" stroke-width="1.3" stroke-linejoin="round"/><path d="M456.0,225.0 L456.0,225.3 L455.9,225.5 L455.8,225.7 L455.6,225.9 L455.4,226.1 L455.2,226.2 L455.0,226.2 L454.8,226.2 L454.6,226.1 L454.4,225.9 L454.2,225.7 L454.1,225.5 L454.0,225.3 L454.0,225.0 L454.0,224.7 L454.1,224.5 L454.2,224.3 L454.4,224.1 L454.6,223.9 L454.8,223.8 L455.0,223.8 L455.2,223.8 L455.4,223.9 L455.6,224.1 L455.8,224.3 L455.9,224.5 L456.0,224.7Z" fill="none" stroke="#ff0000" stroke-width="1" stroke-linejoin="round"/><path d="M475.1,223.7 L475.0,224.5 L474.7,225.3 L474.3,225.9 L473.7,226.5 L473.1,226.9 L472.3,227.2 L471.5,227.3 L470.7,227.2 L469.9,226.9 L469.3,226.5 L468.7,225.9 L468.3,225.3 L468.0,224.5 L467.9,223.7 L468.0,222.9 L468.3,222.1 L468.7,221.5 L469.3,220.9 L469.9,220.5 L470.7,220.2 L471.5,220.1 L472.3,220.2 L473.1,220.5 L473.7,220.9 L474.3,221.5 L474.7,222.1 L475.0,222.9Z M473.9,223.7 L473.9,224.2 L473.7,224.8 L473.4,225.2 L473.0,225.6 L472.6,225.9 L472.0,226.1 L471.5,226.1 L471.0,226.1 L470.4,225.9 L470.0,225.6 L469.6,225.2 L469.3,224.8 L469.1,224.2 L469.1,223.7 L469.1,223.2 L469.3,222.6 L469.6,222.2 L470.0,221.8 L470.4,221.5 L471.0,221.3 L471.5,221.3 L472.0,221.3 L472.6,221.5 L473.0,221.8 L473.4,222.2 L473.7,222.6 L473.9,223.2Z M472.8,223.7 L472.7,224.0 L472.6,224.2 L472.5,224.5 L472.3,224.7 L472.0,224.8 L471.8,224.9 L471.5,225.0 L471.2,224.9 L471.0,224.8 L470.7,224.7 L470.5,224.5 L470.4,224.2 L470.3,224.0 L470.2,223.7 L470.3,223.4 L470.4,223.2 L470.5,222.9 L470.7,222.7 L471.0,222.6 L471.2,222.5 L471.5,222.4 L471.8,222.5 L472.0,222.6 L472.3,222.7 L472.5,222.9 L472.6,223.2 L472.7,223.4Z" fill="none" stroke="#ff0000" stroke-width="1.05" stroke-linejoin="round"/><path d="M482.1,223.7 L482.0,224.5 L481.7,225.3 L481.3,225.9 L480.7,226.5 L480.1,226.9 L479.3,227.2 L478.5,227.3 L477.7,227.2 L476.9,226.9 L476.3,226.5 L475.7,225.9 L475.3,225.3 L475.0,224.5 L474.9,223.7 L475.0,222.9 L475.3,222.1 L475.7,221.5 L476.3,220.9 L476.9,220.5 L477.7,220.2 L478.5,220.1 L479.3,220.2 L480.1,220.5 L480.7,220.9 L481.3,221.5 L481.7,222.1 L482.0,222.9Z M480.9,223.7 L480.9,224.2 L480.7,224.8 L480.4,225.2 L480.0,225.6 L479.6,225.9 L479.0,226.1 L478.5,226.1 L478.0,226.1 L477.4,225.9 L477.0,225.6 L476.6,225.2 L476.3,224.8 L476.1,224.2 L476.1,223.7 L476.1,223.2 L476.3,222.6 L476.6,222.2 L477.0,221.8 L477.4,221.5 L478.0,221.3 L478.5,221.3 L479.0,221.3 L479.6,221.5 L480.0,221.8 L480.4,222.2 L480.7,222.6 L480.9,223.2Z M479.8,223.7 L479.7,224.0 L479.6,224.2 L479.5,224.5 L479.3,224.7 L479.0,224.8 L478.8,224.9 L478.5,225.0 L478.2,224.9 L478.0,224.8 L477.7,224.7 L477.5,224.5 L477.4,224.2 L477.3,224.0 L477.2,223.7 L477.3,223.4 L477.4,223.2 L477.5,222.9 L477.7,222.7 L478.0,222.6 L478.2,222.5 L478.5,222.4 L478.8,222.5 L479.0,222.6 L479.3,222.7 L479.5,222.9 L479.6,223.2 L479.7,223.4Z" fill="none" stroke="#ff0000" stroke-width="1.05" stroke-linejoin="round"/><path d="M406.5,240.5 L406.4,241.4 L406.1,242.2 L405.5,243.0 L404.8,243.6 L404.0,244.1 L403.0,244.4 L402.0,244.5 L401.0,244.4 L400.0,244.1 L399.2,243.6 L398.5,243.0 L397.9,242.2 L397.6,241.4 L397.5,240.5 L397.6,239.6 L397.9,238.8 L398.5,238.0 L399.2,237.4 L400.0,236.9 L401.0,236.6 L402.0,236.5 L403.0,236.6 L404.0,236.9 L404.8,237.4 L405.5,238.0 L406.1,238.8 L406.4,239.6Z M404.9,240.5 L404.9,241.1 L404.6,241.6 L404.3,242.1 L403.8,242.5 L403.3,242.8 L402.7,243.0 L402.0,243.1 L401.3,243.0 L400.7,242.8 L400.2,242.5 L399.7,242.1 L399.4,241.6 L399.1,241.1 L399.1,240.5 L399.1,239.9 L399.4,239.4 L399.7,238.9 L400.2,238.5 L400.7,238.2 L401.3,238.0 L402.0,237.9 L402.7,238.0 L403.3,238.2 L403.8,238.5 L404.3,238.9 L404.6,239.4 L404.9,239.9Z M403.4,240.5 L403.3,240.8 L403.2,241.0 L403.1,241.2 L402.8,241.4 L402.6,241.6 L402.3,241.7 L402.0,241.7 L401.7,241.7 L401.4,241.6 L401.2,241.4 L400.9,241.2 L400.8,241.0 L400.7,240.8 L400.6,240.5 L400.7,240.2 L400.8,240.0 L400.9,239.8 L401.2,239.6 L401.4,239.4 L401.7,239.3 L402.0,239.3 L402.3,239.3 L402.6,239.4 L402.8,239.6 L403.1,239.8 L403.2,240.0 L403.3,240.2Z" fill="none" stroke="#ff0000" stroke-width="1.2" stroke-linejoin="round"/><path d="M399.5,241.0 L399.4,241.7 L399.3,242.3 L399.1,242.9 L398.7,243.3 L398.4,243.7 L397.9,243.9 L397.5,244.0 L397.1,243.9 L396.6,243.7 L396.3,243.3 L395.9,242.9 L395.7,242.3 L395.6,241.7 L395.5,241.0 L395.6,240.3 L395.7,239.7 L395.9,239.1 L396.3,238.7 L396.6,238.3 L397.1,238.1 L397.5,238.0 L397.9,238.1 L398.4,238.3 L398.7,238.7 L399.1,239.1 L399.3,239.7 L399.4,240.3Z" fill="none" stroke="#ff0000" stroke-width="1.2" stroke-linejoin="round"/><path d="M399.4,241.8 L399.4,242.6 L399.2,243.4 L399.1,244.2 L398.8,244.8 L398.5,245.2 L398.2,245.5 L397.8,245.6 L397.4,245.5 L397.1,245.2 L396.8,244.8 L396.5,244.2 L396.4,243.4 L396.2,242.6 L396.2,241.8 L396.2,241.0 L396.4,240.2 L396.5,239.4 L396.8,238.8 L397.1,238.4 L397.4,238.1 L397.8,238.0 L398.2,238.1 L398.5,238.4 L398.8,238.8 L399.1,239.4 L399.2,240.2 L399.4,241.0Z M398.4,241.8 L398.4,242.1 L398.4,242.5 L398.3,242.7 L398.2,243.0 L398.1,243.2 L397.9,243.3 L397.8,243.3 L397.7,243.3 L397.5,243.2 L397.4,243.0 L397.3,242.7 L397.2,242.5 L397.2,242.1 L397.2,241.8 L397.2,241.5 L397.2,241.1 L397.3,240.9 L397.4,240.6 L397.5,240.4 L397.7,240.3 L397.8,240.3 L397.9,240.3 L398.1,240.4 L398.2,240.6 L398.3,240.9 L398.4,241.1 L398.4,241.5Z" fill="none" stroke="#0000ff" stroke-width="1.3" stroke-linejoin="round"/><path d="M443.6,236.7 L443.5,237.8 L443.1,238.9 L442.5,239.8 L441.7,240.6 L440.8,241.2 L439.7,241.6 L438.6,241.7 L437.5,241.6 L436.4,241.2 L435.5,240.6 L434.7,239.8 L434.1,238.9 L433.7,237.8 L433.6,236.7 L433.7,235.6 L434.1,234.5 L434.7,233.6 L435.5,232.8 L436.4,232.2 L437.5,231.8 L438.6,231.7 L439.7,231.8 L440.8,232.2 L441.7,232.8 L442.5,233.6 L443.1,234.5 L443.5,235.6Z M442.1,236.7 L442.0,237.5 L441.8,238.2 L441.3,238.9 L440.8,239.4 L440.1,239.9 L439.4,240.1 L438.6,240.2 L437.8,240.1 L437.1,239.9 L436.4,239.4 L435.9,238.9 L435.4,238.2 L435.2,237.5 L435.1,236.7 L435.2,235.9 L435.4,235.2 L435.9,234.5 L436.4,234.0 L437.1,233.5 L437.8,233.3 L438.6,233.2 L439.4,233.3 L440.1,233.5 L440.8,234.0 L441.3,234.5 L441.8,235.2 L442.0,235.9Z" fill="none" stroke="#ff0000" stroke-width="1.2" stroke-linejoin="round"/><path d="M441.6,236.7 L441.4,237.6 L441.1,238.5 L440.6,239.3 L439.9,240.0 L439.1,240.5 L438.2,240.8 L437.3,240.9 L436.4,240.8 L435.5,240.5 L434.7,240.0 L434.0,239.3 L433.5,238.5 L433.2,237.6 L433.1,236.7 L433.2,235.8 L433.5,234.9 L434.0,234.1 L434.7,233.4 L435.5,232.9 L436.4,232.6 L437.3,232.4 L438.2,232.6 L439.1,232.9 L439.9,233.4 L440.6,234.1 L441.1,234.9 L441.4,235.8Z M440.6,236.7 L440.5,237.4 L440.3,238.1 L439.9,238.8 L439.4,239.3 L438.7,239.7 L438.0,239.9 L437.3,240.0 L436.6,239.9 L435.9,239.7 L435.2,239.3 L434.7,238.8 L434.3,238.1 L434.1,237.4 L434.0,236.7 L434.1,236.0 L434.3,235.3 L434.7,234.6 L435.2,234.1 L435.9,233.7 L436.6,233.5 L437.3,233.4 L438.0,233.5 L438.7,233.7 L439.4,234.1 L439.9,234.6 L440.3,235.3 L440.5,236.0Z M439.7,236.7 L439.6,237.2 L439.5,237.7 L439.2,238.2 L438.8,238.6 L438.3,238.9 L437.8,239.0 L437.3,239.1 L436.8,239.0 L436.3,238.9 L435.8,238.6 L435.4,238.2 L435.1,237.7 L435.0,237.2 L434.9,236.7 L435.0,236.2 L435.1,235.7 L435.4,235.2 L435.8,234.8 L436.3,234.5 L436.8,234.4 L437.3,234.3 L437.8,234.4 L438.3,234.5 L438.8,234.8 L439.2,235.2 L439.5,235.7 L439.6,236.2Z M438.8,236.7 L438.8,237.0 L438.6,237.3 L438.5,237.6 L438.2,237.9 L437.9,238.0 L437.6,238.2 L437.3,238.2 L437.0,238.2 L436.7,238.0 L436.4,237.9 L436.1,237.6 L436.0,237.3 L435.8,237.0 L435.8,236.7 L435.8,236.4 L436.0,236.1 L436.1,235.8 L436.4,235.5 L436.7,235.4 L437.0,235.2 L437.3,235.2 L437.6,235.2 L437.9,235.4 L438.2,235.5 L438.5,235.8 L438.6,236.1 L438.8,236.4Z" fill="none" stroke="#0000ff" stroke-width="1.2" stroke-linejoin="round"/><path d="M558.2,226.2 L558.0,227.2 L557.4,228.1 L556.4,228.9 L555.1,229.6 L553.6,230.2 L551.8,230.5 L550.0,230.6 L548.2,230.5 L546.4,230.2 L544.9,229.6 L543.6,228.9 L542.6,228.1 L542.0,227.2 L541.8,226.2 L542.0,225.2 L542.6,224.3 L543.6,223.5 L544.9,222.8 L546.4,222.2 L548.2,221.9 L550.0,221.8 L551.8,221.9 L553.6,222.2 L555.1,222.8 L556.4,223.5 L557.4,224.3 L558.0,225.2Z M555.7,226.2 L555.6,226.9 L555.2,227.5 L554.5,228.1 L553.6,228.6 L552.5,229.0 L551.3,229.2 L550.0,229.3 L548.7,229.2 L547.5,229.0 L546.4,228.6 L545.5,228.1 L544.8,227.5 L544.4,226.9 L544.3,226.2 L544.4,225.5 L544.8,224.9 L545.5,224.3 L546.4,223.8 L547.5,223.4 L548.7,223.2 L550.0,223.1 L551.3,223.2 L552.5,223.4 L553.6,223.8 L554.5,224.3 L555.2,224.9 L555.6,225.5Z" fill="none" stroke="#ff0000" stroke-width="1.2" stroke-linejoin="round"/><path d="M555.7,226.2 L555.5,227.0 L555.0,227.8 L554.1,228.5 L553.0,229.1 L551.7,229.6 L550.3,229.8 L548.7,229.9 L547.1,229.8 L545.7,229.6 L544.4,229.1 L543.3,228.5 L542.4,227.8 L541.9,227.0 L541.7,226.2 L541.9,225.4 L542.4,224.6 L543.3,223.9 L544.4,223.3 L545.7,222.8 L547.1,222.6 L548.7,222.5 L550.3,222.6 L551.7,222.8 L553.0,223.3 L554.1,223.9 L555.0,224.6 L555.5,225.4Z M553.4,226.2 L553.3,226.8 L552.9,227.3 L552.4,227.8 L551.6,228.2 L550.7,228.5 L549.7,228.7 L548.7,228.7 L547.7,228.7 L546.7,228.5 L545.8,228.2 L545.0,227.8 L544.5,227.3 L544.1,226.8 L544.0,226.2 L544.1,225.6 L544.5,225.1 L545.0,224.6 L545.8,224.2 L546.7,223.9 L547.7,223.7 L548.7,223.7 L549.7,223.7 L550.7,223.9 L551.6,224.2 L552.4,224.6 L552.9,225.1 L553.3,225.6Z M551.1,226.2 L551.1,226.5 L550.9,226.8 L550.6,227.0 L550.2,227.2 L549.8,227.4 L549.2,227.5 L548.7,227.5 L548.2,227.5 L547.6,227.4 L547.2,227.2 L546.8,227.0 L546.5,226.8 L546.3,226.5 L546.3,226.2 L546.3,225.9 L546.5,225.6 L546.8,225.4 L547.2,225.2 L547.6,225.0 L548.2,224.9 L548.7,224.9 L549.2,224.9 L549.8,225.0 L550.2,225.2 L550.6,225.4 L550.9,225.6 L551.1,225.9Z" fill="none" stroke="#0000ff" stroke-width="1.2" stroke-linejoin="round"/><path d="M554.4,235.5 L554.3,236.6 L554.2,237.7 L553.9,238.6 L553.5,239.4 L553.0,240.0 L552.5,240.4 L552.0,240.5 L551.5,240.4 L551.0,240.0 L550.5,239.4 L550.1,238.6 L549.8,237.7 L549.7,236.6 L549.6,235.5 L549.7,234.4 L549.8,233.3 L550.1,232.4 L550.5,231.6 L551.0,231.0 L551.5,230.6 L552.0,230.5 L552.5,230.6 L553.0,231.0 L553.5,231.6 L553.9,232.4 L554.2,233.3 L554.3,234.4Z M553.7,235.5 L553.6,236.3 L553.5,237.0 L553.3,237.7 L553.0,238.2 L552.7,238.7 L552.4,238.9 L552.0,239.0 L551.6,238.9 L551.3,238.7 L551.0,238.2 L550.7,237.7 L550.5,237.0 L550.4,236.3 L550.3,235.5 L550.4,234.7 L550.5,234.0 L550.7,233.3 L551.0,232.8 L551.3,232.3 L551.6,232.1 L552.0,232.0 L552.4,232.1 L552.7,232.3 L553.0,232.8 L553.3,233.3 L553.5,234.0 L553.6,234.7Z" fill="none" stroke="#ff0000" stroke-width="1.2" stroke-linejoin="round"/><path d="M552.7,235.5 L552.7,236.4 L552.5,237.3 L552.3,238.1 L552.0,238.8 L551.6,239.3 L551.2,239.6 L550.7,239.8 L550.2,239.6 L549.8,239.3 L549.4,238.8 L549.1,238.1 L548.9,237.3 L548.7,236.4 L548.7,235.5 L548.7,234.6 L548.9,233.7 L549.1,232.9 L549.4,232.2 L549.8,231.7 L550.2,231.4 L550.7,231.2 L551.2,231.4 L551.6,231.7 L552.0,232.2 L552.3,232.9 L552.5,233.7 L552.7,234.6Z M551.4,235.5 L551.4,235.8 L551.3,236.1 L551.3,236.4 L551.1,236.7 L551.0,236.8 L550.9,237.0 L550.7,237.0 L550.5,237.0 L550.4,236.8 L550.3,236.7 L550.1,236.4 L550.1,236.1 L550.0,235.8 L550.0,235.5 L550.0,235.2 L550.1,234.9 L550.1,234.6 L550.3,234.3 L550.4,234.2 L550.5,234.0 L550.7,234.0 L550.9,234.0 L551.0,234.2 L551.1,234.3 L551.3,234.6 L551.3,234.9 L551.4,235.2Z" fill="none" stroke="#0000ff" stroke-width="1.2" stroke-linejoin="round"/><path d="M444.5,283.4 L444.4,284.3 L444.3,285.1 L444.0,285.9 L443.6,286.5 L443.1,287.0 L442.6,287.3 L442.0,287.4 L441.4,287.3 L440.9,287.0 L440.4,286.5 L440.0,285.9 L439.7,285.1 L439.6,284.3 L439.5,283.4 L439.6,282.5 L439.7,281.7 L440.0,280.9 L440.4,280.3 L440.9,279.8 L441.4,279.5 L442.0,279.4 L442.6,279.5 L443.1,279.8 L443.6,280.3 L444.0,280.9 L444.3,281.7 L444.4,282.5Z M443.8,283.4 L443.7,284.0 L443.6,284.6 L443.4,285.1 L443.1,285.6 L442.8,285.9 L442.4,286.1 L442.0,286.2 L441.6,286.1 L441.2,285.9 L440.9,285.6 L440.6,285.1 L440.4,284.6 L440.3,284.0 L440.2,283.4 L440.3,282.8 L440.4,282.2 L440.6,281.7 L440.9,281.2 L441.2,280.9 L441.6,280.7 L442.0,280.6 L442.4,280.7 L442.8,280.9 L443.1,281.2 L443.4,281.7 L443.6,282.2 L443.7,282.8Z" fill="none" stroke="#ff0000" stroke-width="1.2" stroke-linejoin="round"/><path d="M442.8,283.4 L442.8,284.2 L442.6,284.9 L442.4,285.5 L442.0,286.1 L441.6,286.5 L441.2,286.7 L440.7,286.8 L440.2,286.7 L439.8,286.5 L439.4,286.1 L439.0,285.5 L438.8,284.9 L438.6,284.2 L438.6,283.4 L438.6,282.6 L438.8,281.9 L439.0,281.3 L439.4,280.7 L439.8,280.3 L440.2,280.1 L440.7,280.0 L441.2,280.1 L441.6,280.3 L442.0,280.7 L442.4,281.3 L442.6,281.9 L442.8,282.6Z M441.4,283.4 L441.4,283.7 L441.4,283.9 L441.3,284.1 L441.2,284.3 L441.0,284.5 L440.9,284.6 L440.7,284.6 L440.5,284.6 L440.4,284.5 L440.2,284.3 L440.1,284.1 L440.0,283.9 L440.0,283.7 L440.0,283.4 L440.0,283.1 L440.0,282.9 L440.1,282.7 L440.2,282.5 L440.4,282.3 L440.5,282.2 L440.7,282.2 L440.9,282.2 L441.0,282.3 L441.2,282.5 L441.3,282.7 L441.4,282.9 L441.4,283.1Z" fill="none" stroke="#0000ff" stroke-width="1.2" stroke-linejoin="round"/><path d="M458.8,283.2 L458.8,283.8 L458.7,284.3 L458.6,284.8 L458.4,285.2 L458.2,285.5 L458.0,285.7 L457.8,285.8 L457.6,285.7 L457.4,285.5 L457.2,285.2 L457.0,284.8 L456.9,284.3 L456.8,283.8 L456.8,283.2 L456.8,282.6 L456.9,282.1 L457.0,281.6 L457.2,281.2 L457.4,280.9 L457.6,280.7 L457.8,280.6 L458.0,280.7 L458.2,280.9 L458.4,281.2 L458.6,281.6 L458.7,282.1 L458.8,282.6Z" fill="none" stroke="#ff0000" stroke-width="1.2" stroke-linejoin="round"/><path d="M457.9,283.2 L457.9,283.7 L457.9,284.2 L457.8,284.6 L457.7,284.9 L457.6,285.2 L457.5,285.3 L457.4,285.4 L457.3,285.3 L457.2,285.2 L457.1,284.9 L457.0,284.6 L456.9,284.2 L456.9,283.7 L456.9,283.2 L456.9,282.7 L456.9,282.2 L457.0,281.8 L457.1,281.5 L457.2,281.2 L457.3,281.1 L457.4,281.0 L457.5,281.1 L457.6,281.2 L457.7,281.5 L457.8,281.8 L457.9,282.2 L457.9,282.7Z" fill="none" stroke="#0000ff" stroke-width="1" stroke-linejoin="round"/><path d="M475.8,303.6 L475.6,304.5 L475.0,305.3 L474.1,306.1 L472.8,306.7 L471.3,307.2 L469.6,307.5 L467.8,307.6 L466.0,307.5 L464.3,307.2 L462.8,306.7 L461.5,306.1 L460.6,305.3 L460.0,304.5 L459.8,303.6 L460.0,302.7 L460.6,301.9 L461.5,301.1 L462.8,300.5 L464.3,300.0 L466.0,299.7 L467.8,299.6 L469.6,299.7 L471.3,300.0 L472.8,300.5 L474.1,301.1 L475.0,301.9 L475.6,302.7Z M473.4,303.6 L473.3,304.2 L472.8,304.8 L472.2,305.3 L471.3,305.8 L470.2,306.1 L469.0,306.3 L467.8,306.4 L466.6,306.3 L465.4,306.1 L464.3,305.8 L463.4,305.3 L462.8,304.8 L462.3,304.2 L462.2,303.6 L462.3,303.0 L462.8,302.4 L463.4,301.9 L464.3,301.4 L465.4,301.1 L466.6,300.9 L467.8,300.8 L469.0,300.9 L470.2,301.1 L471.3,301.4 L472.2,301.9 L472.8,302.4 L473.3,303.0Z" fill="none" stroke="#ff0000" stroke-width="1.2" stroke-linejoin="round"/><path d="M473.3,303.6 L473.1,304.4 L472.6,305.1 L471.8,305.7 L470.7,306.3 L469.5,306.7 L468.0,306.9 L466.5,307.0 L465.0,306.9 L463.5,306.7 L462.3,306.3 L461.2,305.7 L460.4,305.1 L459.9,304.4 L459.7,303.6 L459.9,302.8 L460.4,302.1 L461.2,301.5 L462.3,300.9 L463.5,300.5 L465.0,300.3 L466.5,300.2 L468.0,300.3 L469.5,300.5 L470.7,300.9 L471.8,301.5 L472.6,302.1 L473.1,302.8Z M471.1,303.6 L471.0,304.1 L470.6,304.6 L470.1,305.0 L469.4,305.4 L468.5,305.7 L467.5,305.8 L466.5,305.9 L465.5,305.8 L464.5,305.7 L463.6,305.4 L462.9,305.0 L462.4,304.6 L462.0,304.1 L461.9,303.6 L462.0,303.1 L462.4,302.6 L462.9,302.2 L463.6,301.8 L464.5,301.5 L465.5,301.4 L466.5,301.3 L467.5,301.4 L468.5,301.5 L469.4,301.8 L470.1,302.2 L470.6,302.6 L471.0,303.1Z M468.9,303.6 L468.8,303.9 L468.6,304.1 L468.4,304.3 L468.0,304.5 L467.5,304.7 L467.0,304.8 L466.5,304.8 L466.0,304.8 L465.5,304.7 L465.0,304.5 L464.6,304.3 L464.4,304.1 L464.2,303.9 L464.1,303.6 L464.2,303.3 L464.4,303.1 L464.6,302.9 L465.0,302.7 L465.5,302.5 L466.0,302.4 L466.5,302.4 L467.0,302.4 L467.5,302.5 L468.0,302.7 L468.4,302.9 L468.6,303.1 L468.8,303.3Z" fill="none" stroke="#0000ff" stroke-width="1.2" stroke-linejoin="round"/><path d="M461.3,313.5 L461.1,314.5 L460.6,315.5 L459.7,316.3 L458.5,317.0 L457.1,317.6 L455.5,317.9 L453.8,318.0 L452.1,317.9 L450.5,317.6 L449.1,317.0 L447.9,316.3 L447.0,315.5 L446.5,314.5 L446.3,313.5 L446.5,312.5 L447.0,311.5 L447.9,310.7 L449.1,310.0 L450.5,309.4 L452.1,309.1 L453.8,309.0 L455.5,309.1 L457.1,309.4 L458.5,310.0 L459.7,310.7 L460.6,311.5 L461.1,312.5Z M459.1,313.5 L458.9,314.2 L458.5,314.9 L457.9,315.5 L457.1,316.0 L456.1,316.3 L455.0,316.6 L453.8,316.6 L452.6,316.6 L451.5,316.3 L450.5,316.0 L449.7,315.5 L449.1,314.9 L448.7,314.2 L448.6,313.5 L448.7,312.8 L449.1,312.1 L449.7,311.5 L450.5,311.0 L451.5,310.7 L452.6,310.4 L453.8,310.4 L455.0,310.4 L456.1,310.7 L457.1,311.0 L457.9,311.5 L458.5,312.1 L458.9,312.8Z" fill="none" stroke="#ff0000" stroke-width="1.2" stroke-linejoin="round"/><path d="M458.9,313.5 L458.7,314.4 L458.2,315.2 L457.5,315.9 L456.5,316.5 L455.3,316.9 L453.9,317.2 L452.5,317.3 L451.1,317.2 L449.7,316.9 L448.5,316.5 L447.5,315.9 L446.8,315.2 L446.3,314.4 L446.1,313.5 L446.3,312.6 L446.8,311.8 L447.5,311.1 L448.5,310.5 L449.7,310.1 L451.1,309.8 L452.5,309.7 L453.9,309.8 L455.3,310.1 L456.5,310.5 L457.5,311.1 L458.2,311.8 L458.7,312.6Z M456.8,313.5 L456.7,314.1 L456.4,314.6 L455.9,315.1 L455.2,315.5 L454.4,315.8 L453.5,316.0 L452.5,316.1 L451.5,316.0 L450.6,315.8 L449.8,315.5 L449.1,315.1 L448.6,314.6 L448.3,314.1 L448.2,313.5 L448.3,312.9 L448.6,312.4 L449.1,311.9 L449.8,311.5 L450.6,311.2 L451.5,311.0 L452.5,310.9 L453.5,311.0 L454.4,311.2 L455.2,311.5 L455.9,311.9 L456.4,312.4 L456.7,312.9Z M454.7,313.5 L454.7,313.8 L454.5,314.1 L454.2,314.3 L453.9,314.5 L453.5,314.7 L453.0,314.8 L452.5,314.8 L452.0,314.8 L451.5,314.7 L451.1,314.5 L450.8,314.3 L450.5,314.1 L450.3,313.8 L450.3,313.5 L450.3,313.2 L450.5,312.9 L450.8,312.7 L451.1,312.5 L451.5,312.3 L452.0,312.2 L452.5,312.2 L453.0,312.2 L453.5,312.3 L453.9,312.5 L454.2,312.7 L454.5,312.9 L454.7,313.2Z" fill="none" stroke="#0000ff" stroke-width="1.2" stroke-linejoin="round"/><path d="M460.0,316.0 L459.9,316.8 L459.8,317.5 L459.6,318.2 L459.2,318.7 L458.9,319.2 L458.4,319.4 L458.0,319.5 L457.6,319.4 L457.1,319.2 L456.8,318.7 L456.4,318.2 L456.2,317.5 L456.1,316.8 L456.0,316.0 L456.1,315.2 L456.2,314.5 L456.4,313.8 L456.8,313.3 L457.1,312.8 L457.6,312.6 L458.0,312.5 L458.4,312.6 L458.9,312.8 L459.2,313.3 L459.6,313.8 L459.8,314.5 L459.9,315.2Z M458.8,316.0 L458.8,316.3 L458.7,316.6 L458.6,316.9 L458.5,317.1 L458.3,317.3 L458.2,317.4 L458.0,317.4 L457.8,317.4 L457.7,317.3 L457.5,317.1 L457.4,316.9 L457.3,316.6 L457.2,316.3 L457.2,316.0 L457.2,315.7 L457.3,315.4 L457.4,315.1 L457.5,314.9 L457.7,314.7 L457.8,314.6 L458.0,314.6 L458.2,314.6 L458.3,314.7 L458.5,314.9 L458.6,315.1 L458.7,315.4 L458.8,315.7Z" fill="none" stroke="#0000ff" stroke-width="1.3" stroke-linejoin="round"/><path d="M443.5,315.0 L443.5,315.8 L443.4,316.5 L443.2,317.2 L442.9,317.7 L442.7,318.2 L442.3,318.4 L442.0,318.5 L441.7,318.4 L441.3,318.2 L441.1,317.7 L440.8,317.2 L440.6,316.5 L440.5,315.8 L440.5,315.0 L440.5,314.2 L440.6,313.5 L440.8,312.8 L441.1,312.3 L441.3,311.8 L441.7,311.6 L442.0,311.5 L442.3,311.6 L442.7,311.8 L442.9,312.3 L443.2,312.8 L443.4,313.5 L443.5,314.2Z" fill="none" stroke="#0000ff" stroke-width="1.3" stroke-linejoin="round"/><path d="M460.3,361.2 L460.2,362.2 L460.1,363.2 L459.8,364.0 L459.4,364.7 L458.9,365.3 L458.4,365.6 L457.8,365.7 L457.2,365.6 L456.7,365.3 L456.2,364.7 L455.8,364.0 L455.5,363.2 L455.4,362.2 L455.3,361.2 L455.4,360.2 L455.5,359.2 L455.8,358.4 L456.2,357.7 L456.7,357.1 L457.2,356.8 L457.8,356.7 L458.4,356.8 L458.9,357.1 L459.4,357.7 L459.8,358.4 L460.1,359.2 L460.2,360.2Z M459.6,361.2 L459.5,361.9 L459.4,362.6 L459.2,363.2 L458.9,363.7 L458.6,364.0 L458.2,364.3 L457.8,364.3 L457.4,364.3 L457.0,364.0 L456.7,363.7 L456.4,363.2 L456.2,362.6 L456.1,361.9 L456.1,361.2 L456.1,360.5 L456.2,359.8 L456.4,359.2 L456.7,358.7 L457.0,358.4 L457.4,358.1 L457.8,358.1 L458.2,358.1 L458.6,358.4 L458.9,358.7 L459.2,359.2 L459.4,359.8 L459.5,360.5Z" fill="none" stroke="#ff0000" stroke-width="1.2" stroke-linejoin="round"/><path d="M458.6,361.2 L458.6,362.1 L458.4,362.9 L458.2,363.6 L457.8,364.2 L457.4,364.6 L457.0,364.9 L456.5,365.0 L456.0,364.9 L455.6,364.6 L455.2,364.2 L454.8,363.6 L454.6,362.9 L454.4,362.1 L454.4,361.2 L454.4,360.3 L454.6,359.5 L454.8,358.8 L455.2,358.2 L455.6,357.8 L456.0,357.5 L456.5,357.4 L457.0,357.5 L457.4,357.8 L457.8,358.2 L458.2,358.8 L458.4,359.5 L458.6,360.3Z M457.2,361.2 L457.2,361.5 L457.2,361.8 L457.1,362.0 L457.0,362.2 L456.8,362.4 L456.7,362.5 L456.5,362.5 L456.3,362.5 L456.2,362.4 L456.0,362.2 L455.9,362.0 L455.8,361.8 L455.8,361.5 L455.8,361.2 L455.8,360.9 L455.8,360.6 L455.9,360.4 L456.0,360.2 L456.2,360.0 L456.3,359.9 L456.5,359.9 L456.7,359.9 L456.8,360.0 L457.0,360.2 L457.1,360.4 L457.2,360.6 L457.2,360.9Z" fill="none" stroke="#0000ff" stroke-width="1.2" stroke-linejoin="round"/><path d="M457.8,350.5 L457.8,350.8 L457.7,351.2 L457.6,351.4 L457.5,351.7 L457.3,351.9 L457.2,352.0 L457.0,352.0 L456.8,352.0 L456.7,351.9 L456.5,351.7 L456.4,351.4 L456.3,351.2 L456.2,350.8 L456.2,350.5 L456.2,350.2 L456.3,349.8 L456.4,349.6 L456.5,349.3 L456.7,349.1 L456.8,349.0 L457.0,349.0 L457.2,349.0 L457.3,349.1 L457.5,349.3 L457.6,349.6 L457.7,349.8 L457.8,350.2Z" fill="none" stroke="#ff0000" stroke-width="1" stroke-linejoin="round"/><path d="M363.5,308.0 L363.5,308.6 L363.4,309.1 L363.2,309.6 L362.9,310.0 L362.7,310.3 L362.3,310.4 L362.0,310.5 L361.7,310.4 L361.3,310.3 L361.1,310.0 L360.8,309.6 L360.6,309.1 L360.5,308.6 L360.5,308.0 L360.5,307.4 L360.6,306.9 L360.8,306.4 L361.1,306.0 L361.3,305.7 L361.7,305.6 L362.0,305.5 L362.3,305.6 L362.7,305.7 L362.9,306.0 L363.2,306.4 L363.4,306.9 L363.5,307.4Z" fill="none" stroke="#0000ff" stroke-width="1" stroke-linejoin="round"/><path d="M355.6,319.5 L355.6,319.9 L355.4,320.4 L355.3,320.7 L355.0,321.1 L354.7,321.3 L354.4,321.4 L354.0,321.5 L353.6,321.4 L353.3,321.3 L353.0,321.1 L352.7,320.7 L352.6,320.4 L352.4,319.9 L352.4,319.5 L352.4,319.1 L352.6,318.6 L352.7,318.3 L353.0,317.9 L353.3,317.7 L353.6,317.6 L354.0,317.5 L354.4,317.6 L354.7,317.7 L355.0,317.9 L355.3,318.3 L355.4,318.6 L355.6,319.1Z" fill="none" stroke="#9020a0" stroke-width="1" stroke-linejoin="round"/><path d="M363.1,324.0 L363.0,324.8 L362.8,325.6 L362.4,326.4 L361.9,327.0 L361.2,327.4 L360.5,327.7 L359.8,327.8 L359.1,327.7 L358.4,327.4 L357.7,327.0 L357.2,326.4 L356.8,325.6 L356.6,324.8 L356.5,324.0 L356.6,323.2 L356.8,322.4 L357.2,321.6 L357.7,321.0 L358.4,320.6 L359.1,320.3 L359.8,320.2 L360.5,320.3 L361.2,320.6 L361.9,321.0 L362.4,321.6 L362.8,322.4 L363.0,323.2Z M362.1,324.0 L362.1,324.6 L361.9,325.2 L361.6,325.7 L361.2,326.1 L360.8,326.4 L360.3,326.6 L359.8,326.7 L359.3,326.6 L358.8,326.4 L358.4,326.1 L358.0,325.7 L357.7,325.2 L357.5,324.6 L357.5,324.0 L357.5,323.4 L357.7,322.8 L358.0,322.3 L358.4,321.9 L358.8,321.6 L359.3,321.4 L359.8,321.3 L360.3,321.4 L360.8,321.6 L361.2,321.9 L361.6,322.3 L361.9,322.8 L362.1,323.4Z" fill="none" stroke="#ff0000" stroke-width="1.2" stroke-linejoin="round"/><path d="M361.3,324.0 L361.2,324.7 L361.0,325.4 L360.7,326.0 L360.2,326.5 L359.7,326.9 L359.1,327.1 L358.5,327.2 L357.9,327.1 L357.3,326.9 L356.8,326.5 L356.3,326.0 L356.0,325.4 L355.8,324.7 L355.7,324.0 L355.8,323.3 L356.0,322.6 L356.3,322.0 L356.8,321.5 L357.3,321.1 L357.9,320.9 L358.5,320.8 L359.1,320.9 L359.7,321.1 L360.2,321.5 L360.7,322.0 L361.0,322.6 L361.2,323.3Z M359.5,324.0 L359.5,324.3 L359.4,324.5 L359.3,324.7 L359.1,324.9 L358.9,325.0 L358.7,325.1 L358.5,325.1 L358.3,325.1 L358.1,325.0 L357.9,324.9 L357.7,324.7 L357.6,324.5 L357.5,324.3 L357.5,324.0 L357.5,323.7 L357.6,323.5 L357.7,323.3 L357.9,323.1 L358.1,323.0 L358.3,322.9 L358.5,322.9 L358.7,322.9 L358.9,323.0 L359.1,323.1 L359.3,323.3 L359.4,323.5 L359.5,323.7Z" fill="none" stroke="#0000ff" stroke-width="1.2" stroke-linejoin="round"/><path d="M366.1,328.0 L366.0,328.8 L365.8,329.6 L365.4,330.4 L364.9,331.0 L364.2,331.4 L363.5,331.7 L362.8,331.8 L362.1,331.7 L361.4,331.4 L360.7,331.0 L360.2,330.4 L359.8,329.6 L359.6,328.8 L359.5,328.0 L359.6,327.2 L359.8,326.4 L360.2,325.6 L360.7,325.0 L361.4,324.6 L362.1,324.3 L362.8,324.2 L363.5,324.3 L364.2,324.6 L364.9,325.0 L365.4,325.6 L365.8,326.4 L366.0,327.2Z M365.1,328.0 L365.1,328.6 L364.9,329.2 L364.6,329.7 L364.2,330.1 L363.8,330.4 L363.3,330.6 L362.8,330.7 L362.3,330.6 L361.8,330.4 L361.4,330.1 L361.0,329.7 L360.7,329.2 L360.5,328.6 L360.5,328.0 L360.5,327.4 L360.7,326.8 L361.0,326.3 L361.4,325.9 L361.8,325.6 L362.3,325.4 L362.8,325.3 L363.3,325.4 L363.8,325.6 L364.2,325.9 L364.6,326.3 L364.9,326.8 L365.1,327.4Z" fill="none" stroke="#ff0000" stroke-width="1.2" stroke-linejoin="round"/><path d="M364.3,328.0 L364.2,328.7 L364.0,329.4 L363.7,330.0 L363.2,330.5 L362.7,330.9 L362.1,331.1 L361.5,331.2 L360.9,331.1 L360.3,330.9 L359.8,330.5 L359.3,330.0 L359.0,329.4 L358.8,328.7 L358.7,328.0 L358.8,327.3 L359.0,326.6 L359.3,326.0 L359.8,325.5 L360.3,325.1 L360.9,324.9 L361.5,324.8 L362.1,324.9 L362.7,325.1 L363.2,325.5 L363.7,326.0 L364.0,326.6 L364.2,327.3Z M362.5,328.0 L362.5,328.3 L362.4,328.5 L362.3,328.7 L362.1,328.9 L361.9,329.0 L361.7,329.1 L361.5,329.1 L361.3,329.1 L361.1,329.0 L360.9,328.9 L360.7,328.7 L360.6,328.5 L360.5,328.3 L360.5,328.0 L360.5,327.7 L360.6,327.5 L360.7,327.3 L360.9,327.1 L361.1,327.0 L361.3,326.9 L361.5,326.9 L361.7,326.9 L361.9,327.0 L362.1,327.1 L362.3,327.3 L362.4,327.5 L362.5,327.7Z" fill="none" stroke="#0000ff" stroke-width="1.2" stroke-linejoin="round"/><path d="M370.1,331.0 L370.0,331.8 L369.8,332.6 L369.4,333.4 L368.9,334.0 L368.2,334.4 L367.5,334.7 L366.8,334.8 L366.1,334.7 L365.4,334.4 L364.7,334.0 L364.2,333.4 L363.8,332.6 L363.6,331.8 L363.5,331.0 L363.6,330.2 L363.8,329.4 L364.2,328.6 L364.7,328.0 L365.4,327.6 L366.1,327.3 L366.8,327.2 L367.5,327.3 L368.2,327.6 L368.9,328.0 L369.4,328.6 L369.8,329.4 L370.0,330.2Z M369.1,331.0 L369.1,331.6 L368.9,332.2 L368.6,332.7 L368.2,333.1 L367.8,333.4 L367.3,333.6 L366.8,333.7 L366.3,333.6 L365.8,333.4 L365.4,333.1 L365.0,332.7 L364.7,332.2 L364.5,331.6 L364.5,331.0 L364.5,330.4 L364.7,329.8 L365.0,329.3 L365.4,328.9 L365.8,328.6 L366.3,328.4 L366.8,328.3 L367.3,328.4 L367.8,328.6 L368.2,328.9 L368.6,329.3 L368.9,329.8 L369.1,330.4Z" fill="none" stroke="#ff0000" stroke-width="1.2" stroke-linejoin="round"/><path d="M368.3,331.0 L368.2,331.7 L368.0,332.4 L367.7,333.0 L367.2,333.5 L366.7,333.9 L366.1,334.1 L365.5,334.2 L364.9,334.1 L364.3,333.9 L363.8,333.5 L363.3,333.0 L363.0,332.4 L362.8,331.7 L362.7,331.0 L362.8,330.3 L363.0,329.6 L363.3,329.0 L363.8,328.5 L364.3,328.1 L364.9,327.9 L365.5,327.8 L366.1,327.9 L366.7,328.1 L367.2,328.5 L367.7,329.0 L368.0,329.6 L368.2,330.3Z M366.5,331.0 L366.5,331.3 L366.4,331.5 L366.3,331.7 L366.1,331.9 L365.9,332.0 L365.7,332.1 L365.5,332.1 L365.3,332.1 L365.1,332.0 L364.9,331.9 L364.7,331.7 L364.6,331.5 L364.5,331.3 L364.5,331.0 L364.5,330.7 L364.6,330.5 L364.7,330.3 L364.9,330.1 L365.1,330.0 L365.3,329.9 L365.5,329.9 L365.7,329.9 L365.9,330.0 L366.1,330.1 L366.3,330.3 L366.4,330.5 L366.5,330.7Z" fill="none" stroke="#0000ff" stroke-width="1.2" stroke-linejoin="round"/><path d="M372.1,335.0 L372.0,335.8 L371.8,336.6 L371.4,337.4 L370.9,338.0 L370.2,338.4 L369.5,338.7 L368.8,338.8 L368.1,338.7 L367.4,338.4 L366.7,338.0 L366.2,337.4 L365.8,336.6 L365.6,335.8 L365.5,335.0 L365.6,334.2 L365.8,333.4 L366.2,332.6 L366.7,332.0 L367.4,331.6 L368.1,331.3 L368.8,331.2 L369.5,331.3 L370.2,331.6 L370.9,332.0 L371.4,332.6 L371.8,333.4 L372.0,334.2Z M371.1,335.0 L371.1,335.6 L370.9,336.2 L370.6,336.7 L370.2,337.1 L369.8,337.4 L369.3,337.6 L368.8,337.7 L368.3,337.6 L367.8,337.4 L367.4,337.1 L367.0,336.7 L366.7,336.2 L366.5,335.6 L366.5,335.0 L366.5,334.4 L366.7,333.8 L367.0,333.3 L367.4,332.9 L367.8,332.6 L368.3,332.4 L368.8,332.3 L369.3,332.4 L369.8,332.6 L370.2,332.9 L370.6,333.3 L370.9,333.8 L371.1,334.4Z" fill="none" stroke="#ff0000" stroke-width="1.2" stroke-linejoin="round"/><path d="M370.3,335.0 L370.2,335.7 L370.0,336.4 L369.7,337.0 L369.2,337.5 L368.7,337.9 L368.1,338.1 L367.5,338.2 L366.9,338.1 L366.3,337.9 L365.8,337.5 L365.3,337.0 L365.0,336.4 L364.8,335.7 L364.7,335.0 L364.8,334.3 L365.0,333.6 L365.3,333.0 L365.8,332.5 L366.3,332.1 L366.9,331.9 L367.5,331.8 L368.1,331.9 L368.7,332.1 L369.2,332.5 L369.7,333.0 L370.0,333.6 L370.2,334.3Z M368.5,335.0 L368.5,335.3 L368.4,335.5 L368.3,335.7 L368.1,335.9 L367.9,336.0 L367.7,336.1 L367.5,336.1 L367.3,336.1 L367.1,336.0 L366.9,335.9 L366.7,335.7 L366.6,335.5 L366.5,335.3 L366.5,335.0 L366.5,334.7 L366.6,334.5 L366.7,334.3 L366.9,334.1 L367.1,334.0 L367.3,333.9 L367.5,333.9 L367.7,333.9 L367.9,334.0 L368.1,334.1 L368.3,334.3 L368.4,334.5 L368.5,334.7Z" fill="none" stroke="#0000ff" stroke-width="1.2" stroke-linejoin="round"/><path d="M376.1,339.0 L376.0,339.8 L375.8,340.6 L375.4,341.4 L374.9,342.0 L374.2,342.4 L373.5,342.7 L372.8,342.8 L372.1,342.7 L371.4,342.4 L370.7,342.0 L370.2,341.4 L369.8,340.6 L369.6,339.8 L369.5,339.0 L369.6,338.2 L369.8,337.4 L370.2,336.6 L370.7,336.0 L371.4,335.6 L372.1,335.3 L372.8,335.2 L373.5,335.3 L374.2,335.6 L374.9,336.0 L375.4,336.6 L375.8,337.4 L376.0,338.2Z M375.1,339.0 L375.1,339.6 L374.9,340.2 L374.6,340.7 L374.2,341.1 L373.8,341.4 L373.3,341.6 L372.8,341.7 L372.3,341.6 L371.8,341.4 L371.4,341.1 L371.0,340.7 L370.7,340.2 L370.5,339.6 L370.5,339.0 L370.5,338.4 L370.7,337.8 L371.0,337.3 L371.4,336.9 L371.8,336.6 L372.3,336.4 L372.8,336.3 L373.3,336.4 L373.8,336.6 L374.2,336.9 L374.6,337.3 L374.9,337.8 L375.1,338.4Z" fill="none" stroke="#ff0000" stroke-width="1.2" stroke-linejoin="round"/><path d="M374.3,339.0 L374.2,339.7 L374.0,340.4 L373.7,341.0 L373.2,341.5 L372.7,341.9 L372.1,342.1 L371.5,342.2 L370.9,342.1 L370.3,341.9 L369.8,341.5 L369.3,341.0 L369.0,340.4 L368.8,339.7 L368.7,339.0 L368.8,338.3 L369.0,337.6 L369.3,337.0 L369.8,336.5 L370.3,336.1 L370.9,335.9 L371.5,335.8 L372.1,335.9 L372.7,336.1 L373.2,336.5 L373.7,337.0 L374.0,337.6 L374.2,338.3Z M372.5,339.0 L372.5,339.3 L372.4,339.5 L372.3,339.7 L372.1,339.9 L371.9,340.0 L371.7,340.1 L371.5,340.1 L371.3,340.1 L371.1,340.0 L370.9,339.9 L370.7,339.7 L370.6,339.5 L370.5,339.3 L370.5,339.0 L370.5,338.7 L370.6,338.5 L370.7,338.3 L370.9,338.1 L371.1,338.0 L371.3,337.9 L371.5,337.9 L371.7,337.9 L371.9,338.0 L372.1,338.1 L372.3,338.3 L372.4,338.5 L372.5,338.7Z" fill="none" stroke="#0000ff" stroke-width="1.2" stroke-linejoin="round"/><path d="M374.1,326.0 L374.0,326.8 L373.8,327.6 L373.4,328.4 L372.9,329.0 L372.2,329.4 L371.5,329.7 L370.8,329.8 L370.1,329.7 L369.4,329.4 L368.7,329.0 L368.2,328.4 L367.8,327.6 L367.6,326.8 L367.5,326.0 L367.6,325.2 L367.8,324.4 L368.2,323.6 L368.7,323.0 L369.4,322.6 L370.1,322.3 L370.8,322.2 L371.5,322.3 L372.2,322.6 L372.9,323.0 L373.4,323.6 L373.8,324.4 L374.0,325.2Z M373.1,326.0 L373.1,326.6 L372.9,327.2 L372.6,327.7 L372.2,328.1 L371.8,328.4 L371.3,328.6 L370.8,328.7 L370.3,328.6 L369.8,328.4 L369.4,328.1 L369.0,327.7 L368.7,327.2 L368.5,326.6 L368.5,326.0 L368.5,325.4 L368.7,324.8 L369.0,324.3 L369.4,323.9 L369.8,323.6 L370.3,323.4 L370.8,323.3 L371.3,323.4 L371.8,323.6 L372.2,323.9 L372.6,324.3 L372.9,324.8 L373.1,325.4Z" fill="none" stroke="#ff0000" stroke-width="1.2" stroke-linejoin="round"/><path d="M372.3,326.0 L372.2,326.7 L372.0,327.4 L371.7,328.0 L371.2,328.5 L370.7,328.9 L370.1,329.1 L369.5,329.2 L368.9,329.1 L368.3,328.9 L367.8,328.5 L367.3,328.0 L367.0,327.4 L366.8,326.7 L366.7,326.0 L366.8,325.3 L367.0,324.6 L367.3,324.0 L367.8,323.5 L368.3,323.1 L368.9,322.9 L369.5,322.8 L370.1,322.9 L370.7,323.1 L371.2,323.5 L371.7,324.0 L372.0,324.6 L372.2,325.3Z M370.5,326.0 L370.5,326.3 L370.4,326.5 L370.3,326.7 L370.1,326.9 L369.9,327.0 L369.7,327.1 L369.5,327.1 L369.3,327.1 L369.1,327.0 L368.9,326.9 L368.7,326.7 L368.6,326.5 L368.5,326.3 L368.5,326.0 L368.5,325.7 L368.6,325.5 L368.7,325.3 L368.9,325.1 L369.1,325.0 L369.3,324.9 L369.5,324.9 L369.7,324.9 L369.9,325.0 L370.1,325.1 L370.3,325.3 L370.4,325.5 L370.5,325.7Z" fill="none" stroke="#0000ff" stroke-width="1.2" stroke-linejoin="round"/><path d="M370.1,337.0 L370.0,337.8 L369.8,338.6 L369.4,339.4 L368.9,340.0 L368.2,340.4 L367.5,340.7 L366.8,340.8 L366.1,340.7 L365.4,340.4 L364.7,340.0 L364.2,339.4 L363.8,338.6 L363.6,337.8 L363.5,337.0 L363.6,336.2 L363.8,335.4 L364.2,334.6 L364.7,334.0 L365.4,333.6 L366.1,333.3 L366.8,333.2 L367.5,333.3 L368.2,333.6 L368.9,334.0 L369.4,334.6 L369.8,335.4 L370.0,336.2Z M369.1,337.0 L369.1,337.6 L368.9,338.2 L368.6,338.7 L368.2,339.1 L367.8,339.4 L367.3,339.6 L366.8,339.7 L366.3,339.6 L365.8,339.4 L365.4,339.1 L365.0,338.7 L364.7,338.2 L364.5,337.6 L364.5,337.0 L364.5,336.4 L364.7,335.8 L365.0,335.3 L365.4,334.9 L365.8,334.6 L366.3,334.4 L366.8,334.3 L367.3,334.4 L367.8,334.6 L368.2,334.9 L368.6,335.3 L368.9,335.8 L369.1,336.4Z" fill="none" stroke="#ff0000" stroke-width="1.2" stroke-linejoin="round"/><path d="M368.3,337.0 L368.2,337.7 L368.0,338.4 L367.7,339.0 L367.2,339.5 L366.7,339.9 L366.1,340.1 L365.5,340.2 L364.9,340.1 L364.3,339.9 L363.8,339.5 L363.3,339.0 L363.0,338.4 L362.8,337.7 L362.7,337.0 L362.8,336.3 L363.0,335.6 L363.3,335.0 L363.8,334.5 L364.3,334.1 L364.9,333.9 L365.5,333.8 L366.1,333.9 L366.7,334.1 L367.2,334.5 L367.7,335.0 L368.0,335.6 L368.2,336.3Z M366.5,337.0 L366.5,337.3 L366.4,337.5 L366.3,337.7 L366.1,337.9 L365.9,338.0 L365.7,338.1 L365.5,338.1 L365.3,338.1 L365.1,338.0 L364.9,337.9 L364.7,337.7 L364.6,337.5 L364.5,337.3 L364.5,337.0 L364.5,336.7 L364.6,336.5 L364.7,336.3 L364.9,336.1 L365.1,336.0 L365.3,335.9 L365.5,335.9 L365.7,335.9 L365.9,336.0 L366.1,336.1 L366.3,336.3 L366.4,336.5 L366.5,336.7Z" fill="none" stroke="#0000ff" stroke-width="1.2" stroke-linejoin="round"/><path d="M345.7,341.0 L345.7,341.2 L345.6,341.3 L345.5,341.4 L345.4,341.5 L345.3,341.6 L345.2,341.7 L345.0,341.7 L344.8,341.7 L344.7,341.6 L344.6,341.5 L344.5,341.4 L344.4,341.3 L344.3,341.2 L344.3,341.0 L344.3,340.8 L344.4,340.7 L344.5,340.6 L344.6,340.5 L344.7,340.4 L344.8,340.3 L345.0,340.3 L345.2,340.3 L345.3,340.4 L345.4,340.5 L345.5,340.6 L345.6,340.7 L345.7,340.8Z" fill="none" stroke="#ff0000" stroke-width="1" stroke-linejoin="round"/><path d="M364.5,354.5 L364.5,355.1 L364.4,355.6 L364.2,356.1 L363.9,356.5 L363.7,356.8 L363.3,356.9 L363.0,357.0 L362.7,356.9 L362.3,356.8 L362.1,356.5 L361.8,356.1 L361.6,355.6 L361.5,355.1 L361.5,354.5 L361.5,353.9 L361.6,353.4 L361.8,352.9 L362.1,352.5 L362.3,352.2 L362.7,352.1 L363.0,352.0 L363.3,352.1 L363.7,352.2 L363.9,352.5 L364.2,352.9 L364.4,353.4 L364.5,353.9Z" fill="none" stroke="#0000ff" stroke-width="1" stroke-linejoin="round"/><path d="M396.9,349.5 L396.8,350.6 L396.6,351.7 L396.2,352.6 L395.8,353.4 L395.2,354.0 L394.6,354.4 L393.9,354.5 L393.2,354.4 L392.6,354.0 L392.0,353.4 L391.6,352.6 L391.2,351.7 L391.0,350.6 L390.9,349.5 L391.0,348.4 L391.2,347.3 L391.6,346.4 L392.0,345.6 L392.6,345.0 L393.2,344.6 L393.9,344.5 L394.6,344.6 L395.2,345.0 L395.8,345.6 L396.2,346.4 L396.6,347.3 L396.8,348.4Z M396.0,349.5 L395.9,350.3 L395.8,351.0 L395.5,351.7 L395.2,352.2 L394.8,352.7 L394.4,352.9 L393.9,353.0 L393.4,352.9 L393.0,352.7 L392.6,352.2 L392.3,351.7 L392.0,351.0 L391.9,350.3 L391.8,349.5 L391.9,348.7 L392.0,348.0 L392.3,347.3 L392.6,346.8 L393.0,346.3 L393.4,346.1 L393.9,346.0 L394.4,346.1 L394.8,346.3 L395.2,346.8 L395.5,347.3 L395.8,348.0 L395.9,348.7Z" fill="none" stroke="#ff0000" stroke-width="1.2" stroke-linejoin="round"/><path d="M395.2,349.5 L395.1,350.4 L394.9,351.3 L394.6,352.1 L394.2,352.8 L393.7,353.3 L393.2,353.6 L392.6,353.8 L392.0,353.6 L391.5,353.3 L391.0,352.8 L390.6,352.1 L390.3,351.3 L390.1,350.4 L390.1,349.5 L390.1,348.6 L390.3,347.7 L390.6,346.9 L391.0,346.2 L391.5,345.7 L392.0,345.4 L392.6,345.2 L393.2,345.4 L393.7,345.7 L394.2,346.2 L394.6,346.9 L394.9,347.7 L395.1,348.6Z M394.3,349.5 L394.3,350.1 L394.2,350.7 L393.9,351.3 L393.7,351.7 L393.3,352.1 L393.0,352.3 L392.6,352.4 L392.2,352.3 L391.9,352.1 L391.5,351.7 L391.3,351.3 L391.0,350.7 L390.9,350.1 L390.9,349.5 L390.9,348.9 L391.0,348.3 L391.3,347.7 L391.5,347.3 L391.9,346.9 L392.2,346.7 L392.6,346.6 L393.0,346.7 L393.3,346.9 L393.7,347.3 L393.9,347.7 L394.2,348.3 L394.3,348.9Z M393.5,349.5 L393.5,349.8 L393.4,350.1 L393.3,350.4 L393.2,350.7 L393.0,350.8 L392.8,351.0 L392.6,351.0 L392.4,351.0 L392.2,350.8 L392.0,350.7 L391.9,350.4 L391.8,350.1 L391.7,349.8 L391.7,349.5 L391.7,349.2 L391.8,348.9 L391.9,348.6 L392.0,348.3 L392.2,348.2 L392.4,348.0 L392.6,348.0 L392.8,348.0 L393.0,348.2 L393.2,348.3 L393.3,348.6 L393.4,348.9 L393.5,349.2Z" fill="none" stroke="#0000ff" stroke-width="1.2" stroke-linejoin="round"/><path d="M393.7,361.2 L393.7,361.5 L393.6,361.9 L393.6,362.1 L393.5,362.4 L393.4,362.6 L393.2,362.7 L393.1,362.7 L393.0,362.7 L392.8,362.6 L392.7,362.4 L392.6,362.1 L392.6,361.9 L392.5,361.5 L392.5,361.2 L392.5,360.9 L392.6,360.5 L392.6,360.3 L392.7,360.0 L392.8,359.8 L393.0,359.7 L393.1,359.7 L393.2,359.7 L393.4,359.8 L393.5,360.0 L393.6,360.3 L393.6,360.5 L393.7,360.9Z" fill="none" stroke="#ff0000" stroke-width="1" stroke-linejoin="round"/><path d="M374.6,374.6 L374.5,375.7 L374.3,376.8 L373.9,377.7 L373.5,378.5 L372.9,379.1 L372.3,379.5 L371.6,379.6 L370.9,379.5 L370.3,379.1 L369.7,378.5 L369.3,377.7 L368.9,376.8 L368.7,375.7 L368.6,374.6 L368.7,373.5 L368.9,372.4 L369.3,371.5 L369.7,370.7 L370.3,370.1 L370.9,369.7 L371.6,369.6 L372.3,369.7 L372.9,370.1 L373.5,370.7 L373.9,371.5 L374.3,372.4 L374.5,373.5Z M373.7,374.6 L373.6,375.4 L373.5,376.1 L373.2,376.8 L372.9,377.3 L372.5,377.8 L372.1,378.0 L371.6,378.1 L371.1,378.0 L370.7,377.8 L370.3,377.3 L370.0,376.8 L369.7,376.1 L369.6,375.4 L369.5,374.6 L369.6,373.8 L369.7,373.1 L370.0,372.4 L370.3,371.9 L370.7,371.4 L371.1,371.2 L371.6,371.1 L372.1,371.2 L372.5,371.4 L372.9,371.9 L373.2,372.4 L373.5,373.1 L373.6,373.8Z" fill="none" stroke="#ff0000" stroke-width="1.2" stroke-linejoin="round"/><path d="M372.9,374.6 L372.8,375.5 L372.6,376.4 L372.3,377.2 L371.9,377.9 L371.4,378.4 L370.9,378.7 L370.3,378.9 L369.7,378.7 L369.2,378.4 L368.7,377.9 L368.3,377.2 L368.0,376.4 L367.8,375.5 L367.8,374.6 L367.8,373.7 L368.0,372.8 L368.3,372.0 L368.7,371.3 L369.2,370.8 L369.7,370.5 L370.3,370.4 L370.9,370.5 L371.4,370.8 L371.9,371.3 L372.3,372.0 L372.6,372.8 L372.8,373.7Z M371.2,374.6 L371.2,374.9 L371.1,375.2 L371.0,375.5 L370.9,375.8 L370.7,375.9 L370.5,376.1 L370.3,376.1 L370.1,376.1 L369.9,375.9 L369.7,375.8 L369.6,375.5 L369.5,375.2 L369.4,374.9 L369.4,374.6 L369.4,374.3 L369.5,374.0 L369.6,373.7 L369.7,373.4 L369.9,373.3 L370.1,373.1 L370.3,373.1 L370.5,373.1 L370.7,373.3 L370.9,373.4 L371.0,373.7 L371.1,374.0 L371.2,374.3Z" fill="none" stroke="#0000ff" stroke-width="1.2" stroke-linejoin="round"/><path d="M390.8,377.0 L390.7,377.9 L390.3,378.7 L389.7,379.5 L388.9,380.1 L388.0,380.6 L386.9,380.9 L385.8,381.0 L384.7,380.9 L383.6,380.6 L382.7,380.1 L381.9,379.5 L381.3,378.7 L380.9,377.9 L380.8,377.0 L380.9,376.1 L381.3,375.3 L381.9,374.5 L382.7,373.9 L383.6,373.4 L384.7,373.1 L385.8,373.0 L386.9,373.1 L388.0,373.4 L388.9,373.9 L389.7,374.5 L390.3,375.3 L390.7,376.1Z M389.3,377.0 L389.2,377.6 L389.0,378.2 L388.5,378.7 L388.0,379.2 L387.3,379.5 L386.6,379.7 L385.8,379.8 L385.0,379.7 L384.3,379.5 L383.6,379.2 L383.1,378.7 L382.6,378.2 L382.4,377.6 L382.3,377.0 L382.4,376.4 L382.6,375.8 L383.1,375.3 L383.6,374.8 L384.3,374.5 L385.0,374.3 L385.8,374.2 L386.6,374.3 L387.3,374.5 L388.0,374.8 L388.5,375.3 L389.0,375.8 L389.2,376.4Z" fill="none" stroke="#ff0000" stroke-width="1.2" stroke-linejoin="round"/><path d="M388.8,377.0 L388.6,377.8 L388.3,378.5 L387.8,379.1 L387.1,379.7 L386.3,380.1 L385.4,380.3 L384.5,380.4 L383.6,380.3 L382.7,380.1 L381.9,379.7 L381.2,379.1 L380.7,378.5 L380.4,377.8 L380.2,377.0 L380.4,376.2 L380.7,375.5 L381.2,374.9 L381.9,374.3 L382.7,373.9 L383.6,373.7 L384.5,373.6 L385.4,373.7 L386.3,373.9 L387.1,374.3 L387.8,374.9 L388.3,375.5 L388.6,376.2Z M387.4,377.0 L387.3,377.5 L387.1,378.0 L386.7,378.4 L386.3,378.8 L385.7,379.1 L385.1,379.2 L384.5,379.3 L383.9,379.2 L383.3,379.1 L382.7,378.8 L382.3,378.4 L381.9,378.0 L381.7,377.5 L381.6,377.0 L381.7,376.5 L381.9,376.0 L382.3,375.6 L382.7,375.2 L383.3,374.9 L383.9,374.8 L384.5,374.7 L385.1,374.8 L385.7,374.9 L386.3,375.2 L386.7,375.6 L387.1,376.0 L387.3,376.5Z M386.0,377.0 L386.0,377.3 L385.8,377.5 L385.7,377.7 L385.4,377.9 L385.1,378.1 L384.8,378.2 L384.5,378.2 L384.2,378.2 L383.9,378.1 L383.6,377.9 L383.3,377.7 L383.2,377.5 L383.0,377.3 L383.0,377.0 L383.0,376.7 L383.2,376.5 L383.3,376.3 L383.6,376.1 L383.9,375.9 L384.2,375.8 L384.5,375.8 L384.8,375.8 L385.1,375.9 L385.4,376.1 L385.7,376.3 L385.8,376.5 L386.0,376.7Z" fill="none" stroke="#0000ff" stroke-width="1.2" stroke-linejoin="round"/><path d="M397.8,381.5 L397.6,382.5 L397.2,383.5 L396.5,384.3 L395.5,385.0 L394.4,385.6 L393.1,385.9 L391.8,386.0 L390.5,385.9 L389.2,385.6 L388.1,385.0 L387.1,384.3 L386.4,383.5 L386.0,382.5 L385.8,381.5 L386.0,380.5 L386.4,379.5 L387.1,378.7 L388.1,378.0 L389.2,377.4 L390.5,377.1 L391.8,377.0 L393.1,377.1 L394.4,377.4 L395.5,378.0 L396.5,378.7 L397.2,379.5 L397.6,380.5Z M396.0,381.5 L395.9,382.2 L395.6,382.9 L395.1,383.5 L394.4,384.0 L393.6,384.3 L392.7,384.6 L391.8,384.6 L390.9,384.6 L390.0,384.3 L389.2,384.0 L388.5,383.5 L388.0,382.9 L387.7,382.2 L387.6,381.5 L387.7,380.8 L388.0,380.1 L388.5,379.5 L389.2,379.0 L390.0,378.7 L390.9,378.4 L391.8,378.4 L392.7,378.4 L393.6,378.7 L394.4,379.0 L395.1,379.5 L395.6,380.1 L395.9,380.8Z" fill="none" stroke="#ff0000" stroke-width="1.2" stroke-linejoin="round"/><path d="M395.6,381.5 L395.5,382.4 L395.1,383.2 L394.5,383.9 L393.7,384.5 L392.7,384.9 L391.6,385.2 L390.5,385.3 L389.4,385.2 L388.3,384.9 L387.3,384.5 L386.5,383.9 L385.9,383.2 L385.5,382.4 L385.4,381.5 L385.5,380.6 L385.9,379.8 L386.5,379.1 L387.3,378.5 L388.3,378.1 L389.4,377.8 L390.5,377.7 L391.6,377.8 L392.7,378.1 L393.7,378.5 L394.5,379.1 L395.1,379.8 L395.5,380.6Z M393.9,381.5 L393.9,382.1 L393.6,382.6 L393.2,383.1 L392.6,383.5 L392.0,383.8 L391.3,384.0 L390.5,384.1 L389.7,384.0 L389.0,383.8 L388.4,383.5 L387.8,383.1 L387.4,382.6 L387.1,382.1 L387.1,381.5 L387.1,380.9 L387.4,380.4 L387.8,379.9 L388.4,379.5 L389.0,379.2 L389.7,379.0 L390.5,378.9 L391.3,379.0 L392.0,379.2 L392.6,379.5 L393.2,379.9 L393.6,380.4 L393.9,380.9Z M392.3,381.5 L392.2,381.8 L392.1,382.1 L391.9,382.3 L391.6,382.5 L391.3,382.7 L390.9,382.8 L390.5,382.8 L390.1,382.8 L389.7,382.7 L389.4,382.5 L389.1,382.3 L388.9,382.1 L388.8,381.8 L388.7,381.5 L388.8,381.2 L388.9,380.9 L389.1,380.7 L389.4,380.5 L389.7,380.3 L390.1,380.2 L390.5,380.2 L390.9,380.2 L391.3,380.3 L391.6,380.5 L391.9,380.7 L392.1,380.9 L392.2,381.2Z" fill="none" stroke="#0000ff" stroke-width="1.2" stroke-linejoin="round"/><path d="M398.5,381.0 L398.5,381.3 L398.4,381.7 L398.2,381.9 L397.9,382.2 L397.7,382.4 L397.3,382.5 L397.0,382.5 L396.7,382.5 L396.3,382.4 L396.1,382.2 L395.8,381.9 L395.6,381.7 L395.5,381.3 L395.5,381.0 L395.5,380.7 L395.6,380.3 L395.8,380.1 L396.1,379.8 L396.3,379.6 L396.7,379.5 L397.0,379.5 L397.3,379.5 L397.7,379.6 L397.9,379.8 L398.2,380.1 L398.4,380.3 L398.5,380.7Z" fill="none" stroke="#ff0000" stroke-width="1" stroke-linejoin="round"/><path d="M368.4,421.0 L368.3,421.7 L368.2,422.3 L368.0,422.9 L367.6,423.3 L367.3,423.7 L366.8,423.9 L366.4,424.0 L366.0,423.9 L365.5,423.7 L365.2,423.3 L364.8,422.9 L364.6,422.3 L364.5,421.7 L364.4,421.0 L364.5,420.3 L364.6,419.7 L364.8,419.1 L365.2,418.7 L365.5,418.3 L366.0,418.1 L366.4,418.0 L366.8,418.1 L367.3,418.3 L367.6,418.7 L368.0,419.1 L368.2,419.7 L368.3,420.3Z M367.8,421.0 L367.8,421.5 L367.7,421.9 L367.5,422.3 L367.3,422.6 L367.0,422.9 L366.7,423.0 L366.4,423.1 L366.1,423.0 L365.8,422.9 L365.5,422.6 L365.3,422.3 L365.1,421.9 L365.0,421.5 L365.0,421.0 L365.0,420.5 L365.1,420.1 L365.3,419.7 L365.5,419.4 L365.8,419.1 L366.1,419.0 L366.4,418.9 L366.7,419.0 L367.0,419.1 L367.3,419.4 L367.5,419.7 L367.7,420.1 L367.8,420.5Z" fill="none" stroke="#ff0000" stroke-width="1.2" stroke-linejoin="round"/><path d="M366.8,421.0 L366.8,421.6 L366.6,422.1 L366.4,422.6 L366.2,423.0 L365.8,423.3 L365.5,423.5 L365.1,423.6 L364.7,423.5 L364.4,423.3 L364.0,423.0 L363.8,422.6 L363.6,422.1 L363.4,421.6 L363.4,421.0 L363.4,420.4 L363.6,419.9 L363.8,419.4 L364.0,419.0 L364.4,418.7 L364.7,418.5 L365.1,418.4 L365.5,418.5 L365.8,418.7 L366.2,419.0 L366.4,419.4 L366.6,419.9 L366.8,420.4Z M365.7,421.0 L365.7,421.2 L365.6,421.4 L365.6,421.6 L365.5,421.7 L365.4,421.8 L365.2,421.9 L365.1,421.9 L365.0,421.9 L364.8,421.8 L364.7,421.7 L364.6,421.6 L364.6,421.4 L364.5,421.2 L364.5,421.0 L364.5,420.8 L364.6,420.6 L364.6,420.4 L364.7,420.3 L364.8,420.2 L365.0,420.1 L365.1,420.1 L365.2,420.1 L365.4,420.2 L365.5,420.3 L365.6,420.4 L365.6,420.6 L365.7,420.8Z" fill="none" stroke="#0000ff" stroke-width="1.2" stroke-linejoin="round"/><path d="M372.5,373.0 L372.5,373.7 L372.4,374.3 L372.2,374.9 L371.9,375.3 L371.7,375.7 L371.3,375.9 L371.0,376.0 L370.7,375.9 L370.3,375.7 L370.1,375.3 L369.8,374.9 L369.6,374.3 L369.5,373.7 L369.5,373.0 L369.5,372.3 L369.6,371.7 L369.8,371.1 L370.1,370.7 L370.3,370.3 L370.7,370.1 L371.0,370.0 L371.3,370.1 L371.7,370.3 L371.9,370.7 L372.2,371.1 L372.4,371.7 L372.5,372.3Z" fill="none" stroke="#0000ff" stroke-width="1" stroke-linejoin="round"/><path d="M459.2,362.7 L459.1,363.5 L459.0,364.2 L458.8,364.9 L458.4,365.4 L458.1,365.9 L457.6,366.1 L457.2,366.2 L456.8,366.1 L456.3,365.9 L456.0,365.4 L455.6,364.9 L455.4,364.2 L455.3,363.5 L455.2,362.7 L455.3,361.9 L455.4,361.2 L455.6,360.5 L456.0,360.0 L456.3,359.5 L456.8,359.3 L457.2,359.2 L457.6,359.3 L458.1,359.5 L458.4,360.0 L458.8,360.5 L459.0,361.2 L459.1,361.9Z M458.0,362.7 L458.0,363.0 L457.9,363.3 L457.8,363.6 L457.7,363.8 L457.5,364.0 L457.4,364.1 L457.2,364.1 L457.0,364.1 L456.9,364.0 L456.7,363.8 L456.6,363.6 L456.5,363.3 L456.4,363.0 L456.4,362.7 L456.4,362.4 L456.5,362.1 L456.6,361.8 L456.7,361.6 L456.9,361.4 L457.0,361.3 L457.2,361.3 L457.4,361.3 L457.5,361.4 L457.7,361.6 L457.8,361.8 L457.9,362.1 L458.0,362.4Z" fill="none" stroke="#0000ff" stroke-width="1.3" stroke-linejoin="round"/><rect x="552.5" y="98.5" width="28.3" height="12.7" fill="none" stroke="#333" stroke-width="1.2"/><rect x="537.7" y="128.6" width="28.6" height="12.1" fill="none" stroke="#333" stroke-width="1.2"/><rect x="526.6" y="153" width="24.9" height="16.0" fill="none" stroke="#333" stroke-width="1.2"/><rect x="445" y="215.6" width="43.7" height="17.5" fill="none" stroke="#333" stroke-width="1.2"/><rect x="337.6" y="34.2" width="173.9" height="88.3" fill="#fff" stroke="#333" stroke-width="1.3"/><path d="M398.2,78.8 L394.8,94.1 L385.2,104.7 L371.3,108.5 L357.4,104.7 L347.8,94.1 L344.4,78.8 L347.8,63.5 L357.4,52.9 L371.3,49.1 L385.2,52.9 L394.8,63.5Z M397.0,78.8 L393.7,93.5 L384.6,103.6 L371.3,107.2 L358.0,103.6 L348.9,93.5 L345.6,78.8 L348.9,64.1 L358.0,54.0 L371.3,50.4 L384.6,54.0 L393.7,64.1Z M394.7,78.8 L391.7,92.3 L383.4,101.5 L371.3,104.8 L359.2,101.5 L350.9,92.3 L347.9,78.8 L350.9,65.3 L359.2,56.1 L371.3,52.8 L383.4,56.1 L391.7,65.3Z M391.7,78.8 L389.1,90.7 L381.9,98.8 L371.3,101.8 L360.7,98.8 L353.5,90.7 L350.9,78.8 L353.5,66.9 L360.7,58.8 L371.3,55.8 L381.9,58.8 L389.1,66.9Z M388.2,78.8 L386.1,88.8 L380.1,95.7 L371.3,98.2 L362.5,95.7 L356.5,88.8 L354.4,78.8 L356.5,68.8 L362.5,61.9 L371.3,59.4 L380.1,61.9 L386.1,68.8Z M384.3,78.8 L382.6,86.7 L378.0,92.1 L371.3,94.0 L364.6,92.1 L360.0,86.7 L358.3,78.8 L360.0,70.9 L364.6,65.5 L371.3,63.6 L378.0,65.5 L382.6,70.9Z M379.9,78.8 L378.8,84.3 L375.7,88.1 L371.3,89.5 L366.9,88.1 L363.8,84.3 L362.7,78.8 L363.8,73.3 L366.9,69.5 L371.3,68.1 L375.7,69.5 L378.8,73.3Z" fill="none" stroke="#0000ff" stroke-width="1.4" stroke-linejoin="round"/><path d="M509.0,84.5 L507.7,89.0 L504.0,92.5 L498.0,95.8 L489.7,98.9 L479.3,101.6 L465.0,104.0 L450.7,105.3 L440.3,104.7 L432.0,102.4 L426.0,98.4 L422.3,92.7 L421.0,84.5 L422.3,76.3 L426.0,70.6 L432.0,66.6 L440.3,64.3 L450.7,63.7 L465.0,65.0 L479.3,67.4 L489.7,70.1 L498.0,73.2 L504.0,76.5 L507.7,80.0Z M502.5,84.4 L501.4,88.2 L498.1,91.2 L492.7,94.0 L485.3,96.6 L476.0,99.0 L463.3,101.0 L450.5,102.1 L441.2,101.6 L433.8,99.6 L428.4,96.2 L425.1,91.3 L424.0,84.4 L425.1,77.4 L428.4,72.6 L433.8,69.1 L441.2,67.1 L450.5,66.7 L463.2,67.8 L476.0,69.8 L485.3,72.1 L492.7,74.7 L498.1,77.5 L501.4,80.6Z M496.0,84.2 L495.1,87.4 L492.1,89.9 L487.4,92.2 L480.9,94.4 L472.7,96.3 L461.5,98.0 L450.3,98.9 L442.1,98.5 L435.6,96.9 L430.9,94.0 L427.9,90.0 L427.0,84.3 L427.9,78.5 L430.9,74.5 L435.6,71.6 L442.1,70.0 L450.3,69.6 L461.5,70.5 L472.7,72.2 L480.9,74.1 L487.4,76.3 L492.1,78.6 L495.1,81.1Z M489.6,84.1 L488.7,86.6 L486.2,88.6 L482.1,90.4 L476.5,92.1 L469.4,93.7 L459.8,95.0 L450.1,95.7 L443.0,95.4 L437.4,94.1 L433.3,91.8 L430.8,88.7 L429.9,84.1 L430.8,79.6 L433.3,76.4 L437.4,74.2 L443.0,72.9 L450.1,72.5 L459.7,73.3 L469.4,74.6 L476.5,76.1 L482.1,77.8 L486.2,79.6 L488.7,81.6Z M483.1,84.0 L482.4,85.8 L480.2,87.3 L476.8,88.6 L472.1,89.9 L466.1,91.0 L458.0,92.0 L449.9,92.5 L443.9,92.3 L439.2,91.3 L435.8,89.7 L433.6,87.3 L432.9,84.0 L433.6,80.7 L435.8,78.3 L439.2,76.7 L443.9,75.7 L449.9,75.5 L458.0,76.0 L466.1,77.0 L472.1,78.1 L476.8,79.4 L480.2,80.7 L482.4,82.2Z" fill="none" stroke="#ff0000" stroke-width="1.2" stroke-linejoin="round"/><path d="M505.0,84.5 L503.8,88.6 L500.3,91.8 L494.6,94.8 L486.8,97.6 L477.0,100.1 L463.5,102.3 L450.0,103.5 L440.2,102.9 L432.4,100.8 L426.7,97.1 L423.2,92.0 L422.0,84.5 L423.2,77.0 L426.7,71.9 L432.4,68.2 L440.2,66.1 L450.0,65.5 L463.5,66.7 L477.0,68.9 L486.8,71.4 L494.6,74.2 L500.3,77.2 L503.8,80.4Z M498.7,84.4 L497.7,87.8 L494.5,90.6 L489.5,93.1 L482.5,95.5 L473.8,97.6 L461.9,99.5 L449.9,100.5 L441.2,100.0 L434.3,98.2 L429.2,95.1 L426.1,90.7 L425.0,84.4 L426.1,78.1 L429.2,73.7 L434.3,70.5 L441.2,68.7 L449.9,68.3 L461.9,69.3 L473.8,71.1 L482.5,73.2 L489.5,75.6 L494.5,78.2 L497.7,80.9Z M492.4,84.2 L491.5,87.1 L488.8,89.3 L484.3,91.4 L478.3,93.4 L470.7,95.1 L460.3,96.6 L449.8,97.4 L442.2,97.1 L436.2,95.6 L431.7,93.0 L429.0,89.4 L428.1,84.3 L429.0,79.1 L431.7,75.5 L436.2,72.9 L442.2,71.4 L449.8,71.1 L460.2,71.9 L470.7,73.4 L478.3,75.1 L484.3,77.1 L488.8,79.2 L491.5,81.4Z M486.1,84.1 L485.3,86.3 L483.0,88.1 L479.2,89.7 L474.1,91.2 L467.5,92.6 L458.6,93.8 L449.7,94.4 L443.2,94.1 L438.0,93.0 L434.2,91.0 L431.9,88.2 L431.1,84.1 L431.9,80.1 L434.2,77.3 L438.0,75.3 L443.2,74.1 L449.7,73.8 L458.6,74.5 L467.5,75.7 L474.1,77.0 L479.2,78.5 L483.0,80.1 L485.3,81.9Z M479.8,84.0 L479.2,85.6 L477.2,86.9 L474.1,88.0 L469.8,89.1 L464.4,90.1 L457.0,90.9 L449.6,91.4 L444.2,91.2 L439.9,90.4 L436.8,88.9 L434.8,86.9 L434.2,84.0 L434.8,81.1 L436.8,79.1 L439.9,77.6 L444.2,76.8 L449.6,76.6 L457.0,77.1 L464.4,77.9 L469.8,78.9 L474.1,80.0 L477.2,81.1 L479.2,82.4Z" fill="none" stroke="#ff9900" stroke-width="1.2" stroke-linejoin="round"/><path d="M465.0,83.5 L463.8,89.3 L460.2,94.4 L454.5,99.0 L447.1,102.7 L438.4,105.3 L428.6,106.3 L419.9,105.4 L412.5,102.5 L406.8,97.6 L403.2,91.2 L402.0,83.5 L403.2,75.8 L406.8,69.4 L412.5,64.5 L419.9,61.6 L428.6,60.7 L438.4,61.7 L447.1,64.3 L454.5,68.0 L460.2,72.6 L463.8,77.7Z M462.3,83.2 L461.2,88.2 L458.0,92.8 L453.0,96.8 L446.4,100.0 L438.6,102.3 L429.8,103.2 L422.0,102.4 L415.4,99.8 L410.4,95.6 L407.2,89.9 L406.1,83.2 L407.2,76.5 L410.4,70.8 L415.4,66.6 L422.0,64.0 L429.8,63.2 L438.6,64.1 L446.4,66.4 L453.0,69.6 L458.0,73.6 L461.2,78.2Z M459.6,82.9 L458.6,87.2 L455.8,91.1 L451.4,94.6 L445.6,97.4 L438.8,99.3 L431.0,100.0 L424.2,99.4 L418.4,97.2 L414.0,93.5 L411.2,88.7 L410.2,82.9 L411.2,77.1 L414.0,72.3 L418.4,68.6 L424.2,66.4 L431.0,65.8 L438.8,66.5 L445.6,68.4 L451.4,71.2 L455.8,74.7 L458.6,78.6Z M456.9,82.6 L456.1,86.2 L453.7,89.5 L449.8,92.3 L444.8,94.7 L438.9,96.3 L432.3,96.9 L426.4,96.4 L421.4,94.5 L417.5,91.5 L415.1,87.4 L414.3,82.6 L415.1,77.8 L417.5,73.7 L421.4,70.7 L426.4,68.8 L432.3,68.3 L438.9,68.9 L444.8,70.5 L449.8,72.9 L453.7,75.7 L456.1,79.0Z M454.2,82.3 L453.5,85.2 L451.5,87.8 L448.3,90.1 L444.1,92.0 L439.1,93.3 L433.5,93.8 L428.5,93.3 L424.3,91.9 L421.1,89.4 L419.1,86.2 L418.4,82.3 L419.1,78.4 L421.1,75.2 L424.3,72.7 L428.5,71.3 L433.5,70.8 L439.1,71.3 L444.1,72.6 L448.3,74.5 L451.5,76.8 L453.5,79.4Z M451.5,82.0 L450.9,84.2 L449.3,86.2 L446.7,87.9 L443.3,89.3 L439.3,90.3 L434.7,90.7 L430.7,90.3 L427.3,89.2 L424.7,87.4 L423.1,84.9 L422.5,82.0 L423.1,79.1 L424.7,76.6 L427.3,74.8 L430.7,73.7 L434.7,73.3 L439.3,73.7 L443.3,74.7 L446.7,76.1 L449.3,77.8 L450.9,79.8Z" fill="none" stroke="#00e000" stroke-width="1.4" stroke-linejoin="round"/><rect x="475.2" y="332.4" width="142.4" height="98.9" fill="#fff" stroke="#333" stroke-width="1.3"/><path d="M611.0,352.0 L610.3,354.4 L608.2,356.4 L604.8,358.2 L600.2,359.6 L594.5,360.6 L587.9,361.3 L580.0,361.5 L572.1,361.3 L565.5,360.6 L559.8,359.6 L555.2,358.2 L551.8,356.4 L549.7,354.4 L549.0,352.0 L549.7,349.6 L551.8,347.6 L555.2,345.8 L559.8,344.4 L565.5,343.4 L572.1,342.7 L580.0,342.5 L587.9,342.7 L594.5,343.4 L600.2,344.4 L604.8,345.8 L608.2,347.6 L610.3,349.6Z" fill="#ff0000" stroke="none"/><path d="M611.0,352.0 L610.3,354.4 L608.2,356.4 L604.8,358.2 L600.2,359.6 L594.5,360.6 L587.9,361.3 L580.0,361.5 L572.1,361.3 L565.5,360.6 L559.8,359.6 L555.2,358.2 L551.8,356.4 L549.7,354.4 L549.0,352.0 L549.7,349.6 L551.8,347.6 L555.2,345.8 L559.8,344.4 L565.5,343.4 L572.1,342.7 L580.0,342.5 L587.9,342.7 L594.5,343.4 L600.2,344.4 L604.8,345.8 L608.2,347.6 L610.3,349.6Z" fill="none" stroke="#ff0000" stroke-width="1.0" stroke-linejoin="round"/><path d="M581.0,346.5 L580.6,348.4 L579.4,350.2 L577.5,351.8 L575.0,353.1 L571.9,354.2 L568.6,354.8 L565.0,355.0 L561.4,354.8 L558.1,354.2 L555.0,353.1 L552.5,351.8 L550.6,350.2 L549.4,348.4 L549.0,346.5 L549.4,344.6 L550.6,342.8 L552.5,341.2 L555.0,339.9 L558.1,338.8 L561.4,338.2 L565.0,338.0 L568.6,338.2 L571.9,338.8 L575.0,339.9 L577.5,341.2 L579.4,342.8 L580.6,344.6Z" fill="#ff0000" stroke="none"/><path d="M581.0,346.5 L580.6,348.4 L579.4,350.2 L577.5,351.8 L575.0,353.1 L571.9,354.2 L568.6,354.8 L565.0,355.0 L561.4,354.8 L558.1,354.2 L555.0,353.1 L552.5,351.8 L550.6,350.2 L549.4,348.4 L549.0,346.5 L549.4,344.6 L550.6,342.8 L552.5,341.2 L555.0,339.9 L558.1,338.8 L561.4,338.2 L565.0,338.0 L568.6,338.2 L571.9,338.8 L575.0,339.9 L577.5,341.2 L579.4,342.8 L580.6,344.6Z" fill="none" stroke="#ff0000" stroke-width="1" stroke-linejoin="round"/><path d="M614.0,347.5 L613.5,349.8 L612.2,351.8 L610.0,353.6 L607.1,355.0 L603.6,356.1 L599.5,356.8 L595.0,357.0 L590.5,356.8 L586.4,356.1 L582.9,355.0 L580.0,353.6 L577.8,351.8 L576.5,349.8 L576.0,347.5 L576.5,345.2 L577.8,343.2 L580.0,341.4 L582.9,340.0 L586.4,338.9 L590.5,338.2 L595.0,338.0 L599.5,338.2 L603.6,338.9 L607.1,340.0 L610.0,341.4 L612.2,343.2 L613.5,345.2Z" fill="#ff0000" stroke="none"/><path d="M614.0,347.5 L613.5,349.8 L612.2,351.8 L610.0,353.6 L607.1,355.0 L603.6,356.1 L599.5,356.8 L595.0,357.0 L590.5,356.8 L586.4,356.1 L582.9,355.0 L580.0,353.6 L577.8,351.8 L576.5,349.8 L576.0,347.5 L576.5,345.2 L577.8,343.2 L580.0,341.4 L582.9,340.0 L586.4,338.9 L590.5,338.2 L595.0,338.0 L599.5,338.2 L603.6,338.9 L607.1,340.0 L610.0,341.4 L612.2,343.2 L613.5,345.2Z" fill="none" stroke="#ff0000" stroke-width="1" stroke-linejoin="round"/><path d="M608.0,349.0 L607.6,350.4 L606.5,351.7 L604.7,352.8 L602.2,353.7 L599.2,354.4 L595.8,354.9 L592.0,355.0 L588.2,354.9 L584.8,354.4 L581.8,353.7 L579.3,352.8 L577.5,351.7 L576.4,350.4 L576.0,349.0 L576.4,347.6 L577.5,346.3 L579.3,345.2 L581.8,344.3 L584.8,343.6 L588.2,343.1 L592.0,343.0 L595.8,343.1 L599.2,343.6 L602.2,344.3 L604.7,345.2 L606.5,346.3 L607.6,347.6Z M603.2,349.0 L602.9,350.0 L602.1,350.9 L600.9,351.7 L599.1,352.3 L597.1,352.8 L594.7,353.1 L592.0,353.2 L589.3,353.1 L586.9,352.8 L584.9,352.3 L583.1,351.7 L581.9,350.9 L581.1,350.0 L580.8,349.0 L581.1,348.0 L581.9,347.1 L583.1,346.3 L584.9,345.7 L586.9,345.2 L589.3,344.9 L592.0,344.8 L594.7,344.9 L597.1,345.2 L599.1,345.7 L600.9,346.3 L602.1,347.1 L602.9,348.0Z M598.4,349.0 L598.2,349.6 L597.8,350.1 L597.1,350.5 L596.1,350.9 L594.9,351.2 L593.5,351.3 L592.0,351.4 L590.5,351.3 L589.1,351.2 L587.9,350.9 L586.9,350.5 L586.2,350.1 L585.8,349.6 L585.6,349.0 L585.8,348.4 L586.2,347.9 L586.9,347.5 L587.9,347.1 L589.1,346.8 L590.5,346.7 L592.0,346.6 L593.5,346.7 L594.9,346.8 L596.1,347.1 L597.1,347.5 L597.8,347.9 L598.2,348.4Z" fill="none" stroke="#ff5050" stroke-width="0.6" stroke-linejoin="round"/><path d="M606.0,358.0 L605.3,361.7 L603.1,364.8 L599.6,367.4 L594.8,369.6 L589.0,371.2 L582.2,372.2 L574.0,372.5 L565.8,372.2 L559.0,371.2 L553.2,369.6 L548.4,367.4 L544.9,364.8 L542.7,361.7 L542.0,358.0 L542.7,354.3 L544.9,351.2 L548.4,348.6 L553.2,346.4 L559.0,344.8 L565.8,343.8 L574.0,343.5 L582.2,343.8 L589.0,344.8 L594.8,346.4 L599.6,348.6 L603.1,351.2 L605.3,354.3Z" fill="#ff9900" stroke="none"/><path d="M606.0,358.0 L605.3,361.7 L603.1,364.8 L599.6,367.4 L594.8,369.6 L589.0,371.2 L582.2,372.2 L574.0,372.5 L565.8,372.2 L559.0,371.2 L553.2,369.6 L548.4,367.4 L544.9,364.8 L542.7,361.7 L542.0,358.0 L542.7,354.3 L544.9,351.2 L548.4,348.6 L553.2,346.4 L559.0,344.8 L565.8,343.8 L574.0,343.5 L582.2,343.8 L589.0,344.8 L594.8,346.4 L599.6,348.6 L603.1,351.2 L605.3,354.3Z" fill="none" stroke="#ff9900" stroke-width="1.2" stroke-linejoin="round"/><path d="M603.0,357.0 L602.4,359.8 L600.6,362.1 L597.8,364.2 L593.9,365.8 L589.2,367.0 L583.6,367.7 L577.0,368.0 L570.4,367.7 L564.8,367.0 L560.1,365.8 L556.2,364.2 L553.4,362.1 L551.6,359.8 L551.0,357.0 L551.6,354.2 L553.4,351.9 L556.2,349.8 L560.1,348.2 L564.8,347.0 L570.4,346.3 L577.0,346.0 L583.6,346.3 L589.2,347.0 L593.9,348.2 L597.8,349.8 L600.6,351.9 L602.4,354.2Z M600.0,357.0 L599.5,359.4 L598.1,361.3 L595.7,363.0 L592.4,364.4 L588.4,365.4 L583.8,366.0 L578.2,366.2 L572.6,366.0 L568.0,365.4 L564.0,364.4 L560.7,363.0 L558.3,361.3 L556.9,359.4 L556.4,357.0 L556.9,354.6 L558.3,352.7 L560.7,351.0 L564.0,349.6 L568.0,348.6 L572.6,348.0 L578.2,347.8 L583.8,348.0 L588.4,348.6 L592.4,349.6 L595.7,351.0 L598.1,352.7 L599.5,354.6Z M597.1,357.0 L596.7,358.9 L595.5,360.5 L593.5,361.9 L590.9,363.0 L587.7,363.8 L583.9,364.3 L579.4,364.5 L574.9,364.3 L571.1,363.8 L567.9,363.0 L565.3,361.9 L563.3,360.5 L562.1,358.9 L561.7,357.0 L562.1,355.1 L563.3,353.5 L565.3,352.1 L567.9,351.0 L571.1,350.2 L574.9,349.7 L579.4,349.5 L583.9,349.7 L587.7,350.2 L590.9,351.0 L593.5,352.1 L595.5,353.5 L596.7,355.1Z M594.1,357.0 L593.8,358.5 L592.9,359.7 L591.4,360.7 L589.4,361.6 L586.9,362.2 L584.0,362.6 L580.6,362.7 L577.2,362.6 L574.3,362.2 L571.8,361.6 L569.8,360.7 L568.3,359.7 L567.4,358.5 L567.1,357.0 L567.4,355.5 L568.3,354.3 L569.8,353.3 L571.8,352.4 L574.3,351.8 L577.2,351.4 L580.6,351.3 L584.0,351.4 L586.9,351.8 L589.4,352.4 L591.4,353.3 L592.9,354.3 L593.8,355.5Z M591.2,357.0 L590.9,358.0 L590.3,358.9 L589.3,359.6 L587.9,360.2 L586.2,360.6 L584.2,360.9 L581.8,361.0 L579.4,360.9 L577.4,360.6 L575.7,360.2 L574.3,359.6 L573.3,358.9 L572.7,358.0 L572.4,357.0 L572.7,356.0 L573.3,355.1 L574.3,354.4 L575.7,353.8 L577.4,353.4 L579.4,353.1 L581.8,353.0 L584.2,353.1 L586.2,353.4 L587.9,353.8 L589.3,354.4 L590.3,355.1 L590.9,356.0Z M588.2,357.0 L588.1,357.6 L587.7,358.0 L587.2,358.4 L586.4,358.8 L585.4,359.0 L584.3,359.1 L583.0,359.2 L581.7,359.1 L580.6,359.0 L579.6,358.8 L578.8,358.4 L578.3,358.0 L577.9,357.6 L577.8,357.0 L577.9,356.4 L578.3,356.0 L578.8,355.6 L579.6,355.2 L580.6,355.0 L581.7,354.9 L583.0,354.8 L584.3,354.9 L585.4,355.0 L586.4,355.2 L587.2,355.6 L587.7,356.0 L588.1,356.4Z" fill="none" stroke="#ffe2b8" stroke-width="0.7" stroke-linejoin="round"/><path d="M587.5,357.3 L587.4,357.9 L587.2,358.4 L586.7,358.9 L586.2,359.3 L585.5,359.6 L584.8,359.8 L584.0,359.9 L583.2,359.8 L582.5,359.6 L581.8,359.3 L581.3,358.9 L580.8,358.4 L580.6,357.9 L580.5,357.3 L580.6,356.7 L580.8,356.2 L581.3,355.7 L581.8,355.3 L582.5,355.0 L583.2,354.8 L584.0,354.7 L584.8,354.8 L585.5,355.0 L586.2,355.3 L586.7,355.7 L587.2,356.2 L587.4,356.7Z" fill="#ff0000" stroke="none"/><path d="M587.5,357.3 L587.4,357.9 L587.2,358.4 L586.7,358.9 L586.2,359.3 L585.5,359.6 L584.8,359.8 L584.0,359.9 L583.2,359.8 L582.5,359.6 L581.8,359.3 L581.3,358.9 L580.8,358.4 L580.6,357.9 L580.5,357.3 L580.6,356.7 L580.8,356.2 L581.3,355.7 L581.8,355.3 L582.5,355.0 L583.2,354.8 L584.0,354.7 L584.8,354.8 L585.5,355.0 L586.2,355.3 L586.7,355.7 L587.2,356.2 L587.4,356.7Z" fill="none" stroke="#ff0000" stroke-width="0.8" stroke-linejoin="round"/><path d="M580.5,370.0 L579.8,374.1 L577.7,377.5 L574.3,380.4 L569.7,382.8 L564.0,384.4 L557.4,385.2 L549.5,385.2 L541.6,385.2 L535.0,384.4 L529.3,382.8 L524.7,380.4 L521.3,377.5 L519.2,374.1 L518.5,370.0 L519.2,365.9 L521.3,362.5 L524.7,359.6 L529.3,357.2 L535.0,355.6 L541.6,354.8 L549.5,354.8 L557.4,354.8 L564.0,355.6 L569.7,357.2 L574.3,359.6 L577.7,362.5 L579.8,365.9Z M577.2,370.1 L576.6,373.7 L574.7,376.7 L571.7,379.2 L567.6,381.3 L562.5,382.6 L556.6,383.0 L549.6,382.7 L542.6,383.0 L536.7,382.6 L531.6,381.3 L527.5,379.2 L524.5,376.7 L522.6,373.7 L522.0,370.1 L522.6,366.5 L524.5,363.5 L527.5,361.0 L531.6,358.9 L536.7,357.6 L542.6,357.2 L549.6,357.5 L556.6,357.2 L562.5,357.6 L567.6,358.9 L571.7,361.0 L574.7,363.5 L576.6,366.5Z M573.9,370.2 L573.3,373.3 L571.7,375.8 L569.0,378.0 L565.4,379.8 L561.0,380.9 L555.9,380.9 L549.7,380.4 L543.5,380.9 L538.4,380.9 L534.0,379.8 L530.4,378.0 L527.7,375.8 L526.1,373.3 L525.5,370.2 L526.1,367.1 L527.7,364.6 L530.4,362.4 L534.0,360.6 L538.4,359.5 L543.5,359.5 L549.7,360.0 L555.9,359.5 L561.0,359.5 L565.4,360.6 L569.0,362.4 L571.7,364.6 L573.3,367.1Z M570.6,370.3 L570.1,372.9 L568.7,375.0 L566.4,376.8 L563.3,378.3 L559.5,379.1 L555.1,379.0 L549.8,378.3 L544.5,379.0 L540.1,379.1 L536.3,378.3 L533.2,376.8 L530.9,375.0 L529.5,372.9 L529.0,370.3 L529.5,367.7 L530.9,365.6 L533.2,363.8 L536.3,362.3 L540.1,361.5 L544.5,361.6 L549.8,362.3 L555.1,361.6 L559.5,361.5 L563.3,362.3 L566.4,363.8 L568.7,365.6 L570.1,367.7Z M567.3,370.4 L566.9,372.5 L565.7,374.2 L563.8,375.6 L561.2,376.8 L558.0,377.4 L554.3,377.1 L549.9,376.4 L545.5,377.1 L541.8,377.4 L538.6,376.8 L536.0,375.6 L534.1,374.2 L532.9,372.5 L532.5,370.4 L532.9,368.3 L534.1,366.6 L536.0,365.2 L538.6,364.0 L541.8,363.4 L545.5,363.7 L549.9,364.4 L554.3,363.7 L558.0,363.4 L561.2,364.0 L563.8,365.2 L565.7,366.6 L566.9,368.3Z M564.0,370.5 L563.6,372.1 L562.7,373.3 L561.2,374.5 L559.1,375.3 L556.5,375.8 L553.6,375.4 L550.0,374.8 L546.4,375.4 L543.5,375.8 L540.9,375.3 L538.8,374.5 L537.3,373.3 L536.4,372.1 L536.0,370.5 L536.4,368.9 L537.3,367.7 L538.8,366.5 L540.9,365.7 L543.5,365.2 L546.4,365.6 L550.0,366.2 L553.6,365.6 L556.5,365.2 L559.1,365.7 L561.2,366.5 L562.7,367.7 L563.6,368.9Z" fill="none" stroke="#00e000" stroke-width="1.55" stroke-linejoin="round"/><path d="M516.5,407.5 L515.9,410.1 L514.0,413.6 L511.2,417.2 L507.6,420.5 L503.6,423.1 L499.8,424.7 L497.0,425.3 L494.2,424.7 L490.4,423.1 L486.4,420.5 L482.8,417.2 L480.0,413.6 L478.1,410.1 L477.5,407.5 L478.1,404.9 L480.0,401.4 L482.8,397.8 L486.4,394.5 L490.4,391.9 L494.2,390.3 L497.0,389.7 L499.8,390.3 L503.6,391.9 L507.6,394.5 L511.2,397.8 L514.0,401.4 L515.9,404.9Z" fill="#0000ff" stroke="none"/><path d="M516.5,407.5 L515.9,410.1 L514.0,413.6 L511.2,417.2 L507.6,420.5 L503.6,423.1 L499.8,424.7 L497.0,425.3 L494.2,424.7 L490.4,423.1 L486.4,420.5 L482.8,417.2 L480.0,413.6 L478.1,410.1 L477.5,407.5 L478.1,404.9 L480.0,401.4 L482.8,397.8 L486.4,394.5 L490.4,391.9 L494.2,390.3 L497.0,389.7 L499.8,390.3 L503.6,391.9 L507.6,394.5 L511.2,397.8 L514.0,401.4 L515.9,404.9Z" fill="none" stroke="#0000ff" stroke-width="1" stroke-linejoin="round"/><path d="M513.0,407.5 L512.5,409.7 L511.0,412.6 L508.8,415.5 L505.9,418.2 L502.6,420.2 L499.4,421.5 L497.0,422.0 L494.6,421.5 L491.4,420.2 L488.1,418.2 L485.2,415.5 L483.0,412.6 L481.5,409.7 L481.0,407.5 L481.5,405.3 L483.0,402.4 L485.2,399.5 L488.1,396.8 L491.4,394.8 L494.6,393.5 L497.0,393.0 L499.4,393.5 L502.6,394.8 L505.9,396.8 L508.8,399.5 L511.0,402.4 L512.5,405.3Z M510.1,407.5 L509.7,409.3 L508.5,411.7 L506.6,414.1 L504.2,416.2 L501.6,417.9 L499.0,419.0 L497.0,419.3 L495.0,419.0 L492.4,417.9 L489.8,416.2 L487.4,414.1 L485.5,411.7 L484.3,409.3 L483.9,407.5 L484.3,405.7 L485.5,403.3 L487.4,400.9 L489.8,398.8 L492.4,397.1 L495.0,396.0 L497.0,395.7 L499.0,396.0 L501.6,397.1 L504.2,398.8 L506.6,400.9 L508.5,403.3 L509.7,405.7Z M507.1,407.5 L506.8,408.9 L505.9,410.7 L504.4,412.6 L502.6,414.3 L500.6,415.6 L498.5,416.4 L497.0,416.7 L495.5,416.4 L493.4,415.6 L491.4,414.3 L489.6,412.6 L488.1,410.7 L487.2,408.9 L486.9,407.5 L487.2,406.1 L488.1,404.3 L489.6,402.4 L491.4,400.7 L493.4,399.4 L495.5,398.6 L497.0,398.3 L498.5,398.6 L500.6,399.4 L502.6,400.7 L504.4,402.4 L505.9,404.3 L506.8,406.1Z M504.2,407.5 L504.0,408.5 L503.3,409.8 L502.3,411.1 L501.0,412.3 L499.5,413.2 L498.1,413.8 L497.0,414.0 L495.9,413.8 L494.5,413.2 L493.0,412.3 L491.7,411.1 L490.7,409.8 L490.0,408.5 L489.8,407.5 L490.0,406.5 L490.7,405.2 L491.7,403.9 L493.0,402.7 L494.5,401.8 L495.9,401.2 L497.0,401.0 L498.1,401.2 L499.5,401.8 L501.0,402.7 L502.3,403.9 L503.3,405.2 L504.0,406.5Z" fill="none" stroke="#4a4aff" stroke-width="0.6" stroke-linejoin="round"/><path d="M500.0,407.5 L499.9,408.4 L499.7,409.3 L499.3,410.1 L498.8,410.8 L498.2,411.3 L497.5,411.6 L496.8,411.7 L496.1,411.6 L495.4,411.3 L494.8,410.8 L494.3,410.1 L493.9,409.3 L493.7,408.4 L493.6,407.5 L493.7,406.6 L493.9,405.7 L494.3,404.9 L494.8,404.2 L495.4,403.7 L496.1,403.4 L496.8,403.3 L497.5,403.4 L498.2,403.7 L498.8,404.2 L499.3,404.9 L499.7,405.7 L499.9,406.6Z" fill="#fff" stroke="none"/><path d="M500.0,407.5 L499.9,408.4 L499.7,409.3 L499.3,410.1 L498.8,410.8 L498.2,411.3 L497.5,411.6 L496.8,411.7 L496.1,411.6 L495.4,411.3 L494.8,410.8 L494.3,410.1 L493.9,409.3 L493.7,408.4 L493.6,407.5 L493.7,406.6 L493.9,405.7 L494.3,404.9 L494.8,404.2 L495.4,403.7 L496.1,403.4 L496.8,403.3 L497.5,403.4 L498.2,403.7 L498.8,404.2 L499.3,404.9 L499.7,405.7 L499.9,406.6Z" fill="none" stroke="#ffffff" stroke-width="0.5" stroke-linejoin="round"/><path d="M524.5,408.0 L524.5,408.6 L524.4,409.1 L524.3,409.6 L524.2,410.0 L524.1,410.3 L524.0,410.5 L523.8,410.6 L523.6,410.5 L523.5,410.3 L523.4,410.0 L523.3,409.6 L523.2,409.1 L523.1,408.6 L523.1,408.0 L523.1,407.4 L523.2,406.9 L523.3,406.4 L523.4,406.0 L523.5,405.7 L523.6,405.5 L523.8,405.4 L524.0,405.5 L524.1,405.7 L524.2,406.0 L524.3,406.4 L524.4,406.9 L524.5,407.4Z" fill="none" stroke="#0000ff" stroke-width="1.1" stroke-linejoin="round"/><path d="M88.0,164.0 L93.8,134.6" stroke="#555" stroke-width="1.0" fill="none"/><path d="M94.6,130.5 L96.0,136.9 L93.7,134.9 L90.9,135.9Z" fill="#555"/><path d="M139.5,179.0 L143.9,128.2" stroke="#555" stroke-width="1.0" fill="none"/><path d="M144.3,124.0 L146.4,130.2 L143.9,128.5 L141.2,129.8Z" fill="#555"/><path d="M174.0,90.4 L174.0,70.5" stroke="#555" stroke-width="1.0" fill="none"/><path d="M174.0,66.3 L176.6,72.3 L174.0,70.8 L171.4,72.3Z" fill="#555"/><path d="M219.0,126.4 L205.2,99.4" stroke="#555" stroke-width="1.0" fill="none"/><path d="M203.3,95.7 L208.3,99.9 L205.3,99.7 L203.7,102.2Z" fill="#555"/><path d="M184.0,150.5 L191.4,130.3" stroke="#555" stroke-width="1.0" fill="none"/><path d="M192.8,126.4 L193.2,132.9 L191.3,130.6 L188.3,131.1Z" fill="#555"/><path d="M136.4,247.7 L145.2,202.1" stroke="#555" stroke-width="1.0" fill="none"/><path d="M146.0,198.0 L147.4,204.4 L145.1,202.4 L142.3,203.4Z" fill="#555"/><path d="M195.4,237.0 L195.4,200.2" stroke="#555" stroke-width="1.0" fill="none"/><path d="M195.4,196.0 L198.0,202.0 L195.4,200.5 L192.8,202.0Z" fill="#555"/><path d="M111.6,313.9 L115.8,293.8" stroke="#555" stroke-width="1.0" fill="none"/><path d="M116.7,289.7 L118.0,296.1 L115.8,294.1 L112.9,295.0Z" fill="#555"/><path d="M162.5,338.7 L164.6,292.7" stroke="#555" stroke-width="1.0" fill="none"/><path d="M164.8,288.5 L167.1,294.6 L164.6,293.0 L161.9,294.4Z" fill="#555"/><path d="M201.2,308.7 L201.2,288.8" stroke="#555" stroke-width="1.0" fill="none"/><path d="M201.2,284.6 L203.8,290.6 L201.2,289.1 L198.6,290.6Z" fill="#555"/><path d="M123.2,411.2 L132.2,374.8" stroke="#555" stroke-width="1.0" fill="none"/><path d="M133.2,370.7 L134.3,377.1 L132.1,375.1 L129.2,375.9Z" fill="#555"/><path d="M484.5,169.7 L515.6,167.4" stroke="#444" stroke-width="1.0" fill="none"/><path d="M519.8,167.1 L514.0,170.1 L515.3,167.4 L513.6,164.9Z" fill="#444"/><path d="M588.9,168.5 L579.5,121.5" stroke="#555" stroke-width="1.0" fill="none"/><path d="M578.5,116.7 L582.6,123.0 L579.5,121.8 L577.1,124.1Z" fill="#555"/><path d="M537.7,129.6 L517.0,123.9" stroke="#444" stroke-width="1.0" fill="none"/><path d="M513.0,122.8 L519.4,122.1 L517.3,124.0 L518.1,126.7Z" fill="#444"/><path d="M488.7,233.1 L537.3,322.8" stroke="#222" stroke-width="1.0" fill="none"/><path d="M539.6,327.1 L534.0,322.2 L537.1,322.5 L538.6,319.7Z" fill="#222"/><rect x="66.4" y="31" width="213.29999999999998" height="396.8" fill="none" stroke="#000" stroke-width="1.3"/><rect x="337.6" y="34.2" width="280.0" height="397.1" fill="none" stroke="#000" stroke-width="1.3"/><path d="M63.400000000000006,66.7 H66.4 M279.7,66.7 H282.7 M63.400000000000006,137.5 H66.4 M279.7,137.5 H282.7 M63.400000000000006,208.3 H66.4 M279.7,208.3 H282.7 M63.400000000000006,279.1 H66.4 M279.7,279.1 H282.7 M63.400000000000006,349.9 H66.4 M279.7,349.9 H282.7 M63.400000000000006,420.7 H66.4 M279.7,420.7 H282.7 M64.9,38.4 H66.4 M279.7,38.4 H281.2 M64.9,52.5 H66.4 M279.7,52.5 H281.2 M64.9,66.7 H66.4 M279.7,66.7 H281.2 M64.9,80.9 H66.4 M279.7,80.9 H281.2 M64.9,95.0 H66.4 M279.7,95.0 H281.2 M64.9,109.2 H66.4 M279.7,109.2 H281.2 M64.9,123.3 H66.4 M279.7,123.3 H281.2 M64.9,137.5 H66.4 M279.7,137.5 H281.2 M64.9,151.7 H66.4 M279.7,151.7 H281.2 M64.9,165.8 H66.4 M279.7,165.8 H281.2 M64.9,180.0 H66.4 M279.7,180.0 H281.2 M64.9,194.1 H66.4 M279.7,194.1 H281.2 M64.9,208.3 H66.4 M279.7,208.3 H281.2 M64.9,222.5 H66.4 M279.7,222.5 H281.2 M64.9,236.6 H66.4 M279.7,236.6 H281.2 M64.9,250.8 H66.4 M279.7,250.8 H281.2 M64.9,264.9 H66.4 M279.7,264.9 H281.2 M64.9,279.1 H66.4 M279.7,279.1 H281.2 M64.9,293.3 H66.4 M279.7,293.3 H281.2 M64.9,307.4 H66.4 M279.7,307.4 H281.2 M64.9,321.6 H66.4 M279.7,321.6 H281.2 M64.9,335.7 H66.4 M279.7,335.7 H281.2 M64.9,349.9 H66.4 M279.7,349.9 H281.2 M64.9,364.1 H66.4 M279.7,364.1 H281.2 M64.9,378.2 H66.4 M279.7,378.2 H281.2 M64.9,392.4 H66.4 M279.7,392.4 H281.2 M64.9,406.5 H66.4 M279.7,406.5 H281.2 M64.9,420.7 H66.4 M279.7,420.7 H281.2 M66.5,427.8 V429.3 M66.5,31 V29.5 M77.2,427.8 V429.3 M77.2,31 V29.5 M87.8,427.8 V430.8 M87.8,31 V28 M98.5,427.8 V429.3 M98.5,31 V29.5 M109.1,427.8 V429.3 M109.1,31 V29.5 M119.8,427.8 V429.3 M119.8,31 V29.5 M130.4,427.8 V430.8 M130.4,31 V28 M141.1,427.8 V429.3 M141.1,31 V29.5 M151.7,427.8 V429.3 M151.7,31 V29.5 M162.4,427.8 V429.3 M162.4,31 V29.5 M173.0,427.8 V430.8 M173.0,31 V28 M183.7,427.8 V429.3 M183.7,31 V29.5 M194.3,427.8 V429.3 M194.3,31 V29.5 M205.0,427.8 V429.3 M205.0,31 V29.5 M215.6,427.8 V430.8 M215.6,31 V28 M226.3,427.8 V429.3 M226.3,31 V29.5 M236.9,427.8 V429.3 M236.9,31 V29.5 M247.6,427.8 V429.3 M247.6,31 V29.5 M258.2,427.8 V430.8 M258.2,31 V28 M268.9,427.8 V429.3 M268.9,31 V29.5 M279.5,427.8 V429.3 M279.5,31 V29.5 M336.1,56.5 H337.6 M617.6,56.5 H619.1 M334.6,70.7 H337.6 M617.6,70.7 H620.6 M336.1,84.9 H337.6 M617.6,84.9 H619.1 M336.1,99.0 H337.6 M617.6,99.0 H619.1 M336.1,113.2 H337.6 M617.6,113.2 H619.1 M336.1,127.3 H337.6 M617.6,127.3 H619.1 M334.6,141.5 H337.6 M617.6,141.5 H620.6 M336.1,155.7 H337.6 M617.6,155.7 H619.1 M336.1,169.8 H337.6 M617.6,169.8 H619.1 M336.1,184.0 H337.6 M617.6,184.0 H619.1 M336.1,198.1 H337.6 M617.6,198.1 H619.1 M334.6,212.3 H337.6 M617.6,212.3 H620.6 M336.1,226.5 H337.6 M617.6,226.5 H619.1 M336.1,240.6 H337.6 M617.6,240.6 H619.1 M336.1,254.8 H337.6 M617.6,254.8 H619.1 M336.1,268.9 H337.6 M617.6,268.9 H619.1 M334.6,283.1 H337.6 M617.6,283.1 H620.6 M336.1,297.3 H337.6 M617.6,297.3 H619.1 M336.1,311.4 H337.6 M617.6,311.4 H619.1 M336.1,325.6 H337.6 M617.6,325.6 H619.1 M336.1,339.7 H337.6 M617.6,339.7 H619.1 M334.6,353.9 H337.6 M617.6,353.9 H620.6 M336.1,368.1 H337.6 M617.6,368.1 H619.1 M336.1,382.2 H337.6 M617.6,382.2 H619.1 M336.1,396.4 H337.6 M617.6,396.4 H619.1 M336.1,410.5 H337.6 M617.6,410.5 H619.1 M334.6,424.7 H337.6 M617.6,424.7 H620.6 M351.3,431.3 V432.8 M351.3,34.2 V32.7 M365.4,431.3 V432.8 M365.4,34.2 V32.7 M379.5,431.3 V434.3 M379.5,34.2 V31.200000000000003 M393.6,431.3 V432.8 M393.6,34.2 V32.7 M407.7,431.3 V432.8 M407.7,34.2 V32.7 M421.9,431.3 V432.8 M421.9,34.2 V32.7 M436.0,431.3 V432.8 M436.0,34.2 V32.7 M450.1,431.3 V434.3 M450.1,34.2 V31.200000000000003 M464.2,431.3 V432.8 M464.2,34.2 V32.7 M478.3,431.3 V432.8 M478.3,34.2 V32.7 M492.5,431.3 V432.8 M492.5,34.2 V32.7 M506.6,431.3 V432.8 M506.6,34.2 V32.7 M520.7,431.3 V434.3 M520.7,34.2 V31.200000000000003 M534.8,431.3 V432.8 M534.8,34.2 V32.7 M548.9,431.3 V432.8 M548.9,34.2 V32.7 M563.1,431.3 V432.8 M563.1,34.2 V32.7 M577.2,431.3 V432.8 M577.2,34.2 V32.7 M591.3,431.3 V434.3 M591.3,34.2 V31.200000000000003 M605.4,431.3 V432.8 M605.4,34.2 V32.7" stroke="#666" stroke-width="0.8" fill="none"/><text transform="translate(40.61,21.38) scale(1.0484,1)" font-family="'Liberation Sans', sans-serif" font-weight="bold" font-size="22.02" fill="#000" stroke="#000" stroke-width="0.45" stroke-linejoin="round">a)</text><text transform="translate(315.05,24.59) scale(1.0485,1)" font-family="'Liberation Sans', sans-serif" font-weight="bold" font-size="22.45" fill="#000" stroke="#000" stroke-width="0.45" stroke-linejoin="round">b)</text><text transform="translate(205.21,49.62) scale(1.0965,1)" font-family="'Liberation Sans', sans-serif" font-weight="bold" font-size="17.61" fill="#000" stroke="#000" stroke-width="0.45" stroke-linejoin="round">V135</text><text transform="translate(135.94,60.20) scale(1.0905,1)" font-family="'Liberation Sans', sans-serif" font-weight="bold" font-size="17.86" fill="#000" stroke="#000" stroke-width="0.45" stroke-linejoin="round">R142</text><text transform="translate(228.37,78.12) scale(1.1211,1)" font-family="'Liberation Sans', sans-serif" font-weight="bold" font-size="18.17" fill="#000" stroke="#000" stroke-width="0.45" stroke-linejoin="round">L149</text><text transform="translate(97.64,88.62) scale(1.0930,1)" font-family="'Liberation Sans', sans-serif" font-weight="bold" font-size="17.75" fill="#000" stroke="#000" stroke-width="0.45" stroke-linejoin="round">R134</text><text transform="translate(74.13,122.01) scale(1.0492,1)" font-family="'Liberation Sans', sans-serif" font-weight="bold" font-size="18.59" fill="#000" stroke="#000" stroke-width="0.45" stroke-linejoin="round">E132</text><text transform="translate(220.69,142.60) scale(0.9783,1)" font-family="'Liberation Sans', sans-serif" font-weight="bold" font-size="19.13" fill="#000" stroke="#000" stroke-width="0.45" stroke-linejoin="round">L141</text><text transform="translate(159.63,169.11) scale(1.0443,1)" font-family="'Liberation Sans', sans-serif" font-weight="bold" font-size="18.73" fill="#000" stroke="#000" stroke-width="0.45" stroke-linejoin="round">K143</text><text transform="translate(89.13,190.52) scale(1.0759,1)" font-family="'Liberation Sans', sans-serif" font-weight="bold" font-size="18.14" fill="#000" stroke="#000" stroke-width="0.45" stroke-linejoin="round">R145</text><text transform="translate(200.70,225.80) scale(0.9056,1)" font-family="'Liberation Sans', sans-serif" font-weight="bold" font-size="20.58" fill="#000" stroke="#000" stroke-width="0.45" stroke-linejoin="round">L144</text><text transform="translate(131.60,266.60) scale(1.0976,1)" font-family="'Liberation Sans', sans-serif" font-weight="bold" font-size="18.26" fill="#000" stroke="#000" stroke-width="0.45" stroke-linejoin="round">R147</text><text transform="translate(66.02,305.01) scale(1.0455,1)" font-family="'Liberation Sans', sans-serif" font-weight="bold" font-size="18.87" fill="#000" stroke="#000" stroke-width="0.45" stroke-linejoin="round">E131</text><text transform="translate(207.21,305.21) scale(1.0264,1)" font-family="'Liberation Sans', sans-serif" font-weight="bold" font-size="18.87" fill="#000" stroke="#000" stroke-width="0.45" stroke-linejoin="round">T130</text><text transform="translate(141.52,356.81) scale(1.0584,1)" font-family="'Liberation Sans', sans-serif" font-weight="bold" font-size="18.59" fill="#000" stroke="#000" stroke-width="0.45" stroke-linejoin="round">R136/A138</text><text transform="translate(130.62,403.61) scale(1.0530,1)" font-family="'Liberation Sans', sans-serif" font-weight="bold" font-size="18.73" fill="#000" stroke="#000" stroke-width="0.45" stroke-linejoin="round">L148</text><text transform="translate(33.15,73.04) scale(1.0940,1)" font-family="'Liberation Sans', sans-serif" font-weight="bold" font-size="16.06" fill="#000" stroke="#000" stroke-width="0.45" stroke-linejoin="round">119</text><text transform="translate(33.18,143.94) scale(1.0592,1)" font-family="'Liberation Sans', sans-serif" font-weight="bold" font-size="16.06" fill="#000" stroke="#000" stroke-width="0.45" stroke-linejoin="round">120</text><text transform="translate(33.19,214.70) scale(1.0376,1)" font-family="'Liberation Sans', sans-serif" font-weight="bold" font-size="16.29" fill="#000" stroke="#000" stroke-width="0.45" stroke-linejoin="round">121</text><text transform="translate(33.18,285.00) scale(1.0443,1)" font-family="'Liberation Sans', sans-serif" font-weight="bold" font-size="16.29" fill="#000" stroke="#000" stroke-width="0.45" stroke-linejoin="round">122</text><text transform="translate(33.18,356.74) scale(1.0592,1)" font-family="'Liberation Sans', sans-serif" font-weight="bold" font-size="16.06" fill="#000" stroke="#000" stroke-width="0.45" stroke-linejoin="round">123</text><text transform="translate(33.20,427.20) scale(1.0247,1)" font-family="'Liberation Sans', sans-serif" font-weight="bold" font-size="16.29" fill="#000" stroke="#000" stroke-width="0.45" stroke-linejoin="round">124</text><text transform="translate(75.90,446.24) scale(1.0261,1)" font-family="'Liberation Sans', sans-serif" font-weight="bold" font-size="16.34" fill="#000" stroke="#000" stroke-width="0.45" stroke-linejoin="round">8.4</text><text transform="translate(118.49,446.24) scale(1.0387,1)" font-family="'Liberation Sans', sans-serif" font-weight="bold" font-size="16.34" fill="#000" stroke="#000" stroke-width="0.45" stroke-linejoin="round">8.2</text><text transform="translate(160.28,446.24) scale(1.0618,1)" font-family="'Liberation Sans', sans-serif" font-weight="bold" font-size="16.34" fill="#000" stroke="#000" stroke-width="0.45" stroke-linejoin="round">8.0</text><text transform="translate(202.89,446.24) scale(1.0804,1)" font-family="'Liberation Sans', sans-serif" font-weight="bold" font-size="16.34" fill="#000" stroke="#000" stroke-width="0.45" stroke-linejoin="round">7.8</text><text transform="translate(246.12,446.24) scale(1.0466,1)" font-family="'Liberation Sans', sans-serif" font-weight="bold" font-size="16.34" fill="#000" stroke="#000" stroke-width="0.45" stroke-linejoin="round">7.6</text><text transform="translate(312.68,77.04) scale(1.0839,1)" font-family="'Liberation Sans', sans-serif" font-weight="bold" font-size="16.06" fill="#000" stroke="#000" stroke-width="0.45" stroke-linejoin="round">20</text><text transform="translate(312.86,147.34) scale(1.0736,1)" font-family="'Liberation Sans', sans-serif" font-weight="bold" font-size="16.06" fill="#000" stroke="#000" stroke-width="0.45" stroke-linejoin="round">30</text><text transform="translate(312.86,218.84) scale(1.0736,1)" font-family="'Liberation Sans', sans-serif" font-weight="bold" font-size="16.06" fill="#000" stroke="#000" stroke-width="0.45" stroke-linejoin="round">40</text><text transform="translate(312.68,289.84) scale(1.0839,1)" font-family="'Liberation Sans', sans-serif" font-weight="bold" font-size="16.06" fill="#000" stroke="#000" stroke-width="0.45" stroke-linejoin="round">50</text><text transform="translate(312.50,360.64) scale(1.0944,1)" font-family="'Liberation Sans', sans-serif" font-weight="bold" font-size="16.06" fill="#000" stroke="#000" stroke-width="0.45" stroke-linejoin="round">60</text><text transform="translate(313.33,430.85) scale(1.1145,1)" font-family="'Liberation Sans', sans-serif" font-weight="bold" font-size="15.07" fill="#000" stroke="#000" stroke-width="0.45" stroke-linejoin="round">70</text><text transform="translate(373.86,448.20) scale(1.1177,1)" font-family="'Liberation Sans', sans-serif" font-weight="bold" font-size="15.36" fill="#000" stroke="#000" stroke-width="0.45" stroke-linejoin="round">4</text><text transform="translate(444.44,448.05) scale(1.2057,1)" font-family="'Liberation Sans', sans-serif" font-weight="bold" font-size="14.93" fill="#000" stroke="#000" stroke-width="0.45" stroke-linejoin="round">3</text><text transform="translate(515.35,448.20) scale(1.2129,1)" font-family="'Liberation Sans', sans-serif" font-weight="bold" font-size="15.14" fill="#000" stroke="#000" stroke-width="0.45" stroke-linejoin="round">2</text><text transform="translate(586.75,448.20) scale(0.8171,1)" font-family="'Liberation Sans', sans-serif" font-weight="bold" font-size="15.36" fill="#000" stroke="#000" stroke-width="0.45" stroke-linejoin="round">1</text><text transform="translate(134.13,457.00) scale(0.8107,1)" font-family="'Liberation Sans', sans-serif" font-weight="bold" font-size="9.71" fill="#000" stroke="#000" stroke-width="0.45" stroke-linejoin="round">1</text><text transform="translate(139.58,467.30) scale(1.3743,1)" font-family="'Liberation Sans', sans-serif" font-weight="bold" font-size="16.81" fill="#000" stroke="#000" stroke-width="0.45" stroke-linejoin="round">H</text><text transform="translate(166.01,467.86) scale(1.1448,1)" font-family="'Liberation Sans', sans-serif" font-weight="bold" font-size="17.34" fill="#000" stroke="#000" stroke-width="0.45" stroke-linejoin="round">(ppm)</text><text transform="translate(437.55,458.40) scale(0.7237,1)" font-family="'Liberation Sans', sans-serif" font-weight="bold" font-size="10.29" fill="#000" stroke="#000" stroke-width="0.45" stroke-linejoin="round">1</text><text transform="translate(442.66,466.60) scale(1.1997,1)" font-family="'Liberation Sans', sans-serif" font-weight="bold" font-size="17.10" fill="#000" stroke="#000" stroke-width="0.45" stroke-linejoin="round">H</text><text transform="translate(467.50,466.85) scale(1.1190,1)" font-family="'Liberation Sans', sans-serif" font-weight="bold" font-size="17.87" fill="#000" stroke="#000" stroke-width="0.45" stroke-linejoin="round">(ppm)</text><text transform="translate(18.87,285.64) rotate(-90) scale(1.0709,1)" font-family="'Liberation Sans', sans-serif" font-weight="bold" font-size="13.00" fill="#000" stroke="#000" stroke-width="0.45" stroke-linejoin="round">15</text><text transform="translate(28.00,268.96) rotate(-90) scale(0.9741,1)" font-family="'Liberation Sans', sans-serif" font-weight="bold" font-size="20.00" fill="#000" stroke="#000" stroke-width="0.45" stroke-linejoin="round">N</text><text transform="translate(28.00,246.32) rotate(-90) scale(1.0718,1)" font-family="'Liberation Sans', sans-serif" font-weight="bold" font-size="19.04" fill="#000" stroke="#000" stroke-width="0.45" stroke-linejoin="round">(ppm)</text><text transform="translate(296.86,290.15) rotate(-90) scale(1.0471,1)" font-family="'Liberation Sans', sans-serif" font-weight="bold" font-size="13.52" fill="#000" stroke="#000" stroke-width="0.45" stroke-linejoin="round">13</text><text transform="translate(304.40,273.78) rotate(-90) scale(0.9634,1)" font-family="'Liberation Sans', sans-serif" font-weight="bold" font-size="20.28" fill="#000" stroke="#000" stroke-width="0.45" stroke-linejoin="round">C</text><text transform="translate(303.90,249.70) rotate(-90) scale(1.0464,1)" font-family="'Liberation Sans', sans-serif" font-weight="bold" font-size="19.04" fill="#000" stroke="#000" stroke-width="0.45" stroke-linejoin="round">(ppm)</text><text transform="translate(411.54,53.02) scale(1.0682,1)" font-family="'Liberation Sans', sans-serif" font-weight="bold" font-size="18.17" fill="#000" stroke="#000" stroke-width="0.45" stroke-linejoin="round">K143/146</text><text transform="translate(494.71,53.30) scale(1.3686,1)" font-family="'Liberation Serif', serif" font-weight="normal" font-size="19.86" fill="#000" stroke="#000" stroke-width="0.15">δ</text><text transform="translate(385.74,176.41) scale(1.0349,1)" font-family="'Liberation Sans', sans-serif" font-weight="bold" font-size="18.73" fill="#000" stroke="#000" stroke-width="0.45" stroke-linejoin="round">K143/146</text><text transform="translate(468.46,177.00) scale(1.1951,1)" font-family="'Liberation Serif', serif" font-weight="normal" font-size="21.43" fill="#000" stroke="#000" stroke-width="0.15">β</text><text transform="translate(523.26,192.41) scale(1.0222,1)" font-family="'Liberation Sans', sans-serif" font-weight="bold" font-size="18.73" fill="#000" stroke="#000" stroke-width="0.45" stroke-linejoin="round">K143/146</text><text transform="translate(605.90,193.10) scale(1.2857,1)" font-family="'Liberation Serif', serif" font-weight="normal" font-size="20.00" fill="#000" stroke="#000" stroke-width="0.15">γ</text><text transform="translate(520.64,425.11) scale(1.0071,1)" font-family="'Liberation Sans', sans-serif" font-weight="bold" font-size="19.30" fill="#000" stroke="#000" stroke-width="0.45" stroke-linejoin="round">K143/146</text><text transform="translate(603.99,425.42) scale(1.3872,1)" font-family="'Liberation Serif', serif" font-weight="normal" font-size="18.13" fill="#000" stroke="#000" stroke-width="0.15">ε</text></svg></body></html>
